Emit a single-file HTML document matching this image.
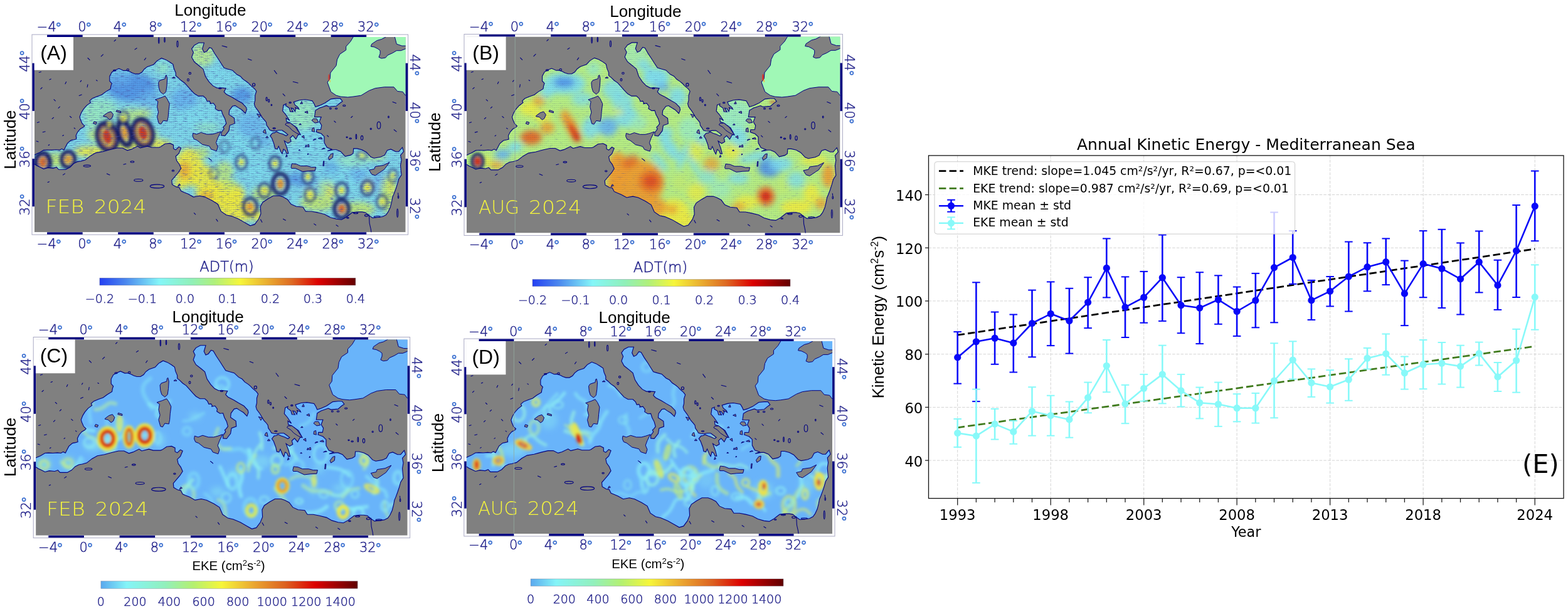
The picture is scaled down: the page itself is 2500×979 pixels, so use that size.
<!DOCTYPE html>
<html><head><meta charset="utf-8"><title>Mediterranean kinetic energy</title>
<style>html,body{margin:0;padding:0;background:#fff;width:2500px;height:979px;overflow:hidden}svg{display:block}</style></head>
<body><svg width="2500" height="979" viewBox="0 0 2500 979">
<rect width="2500" height="979" fill="#fff"/>
<defs><pattern id="quiv" patternUnits="userSpaceOnUse" width="3.2" height="3.2">
<path d="M0.2,1.9 L2.6,1.3" stroke="#0a0a40" stroke-width="0.8" stroke-opacity="0.42"/>
</pattern></defs>
<defs><clipPath id="clipA"><rect x="54.9" y="59.0" width="591.8" height="311.3"/></clipPath><clipPath id="seaA"><path d="M39.8,247.4 L52.5,247.4 L56.0,246.5 L58.9,245.1 L62.4,243.6 L69.5,239.4 L75.1,239.0 L82.2,239.4 L89.3,238.8 L94.9,239.4 L98.5,237.3 L102.0,239.2 L104.1,235.0 L107.6,228.4 L113.3,223.6 L118.3,222.7 L121.8,221.7 L121.1,216.0 L123.9,210.3 L128.2,205.5 L133.1,202.6 L134.9,200.7 L131.0,196.9 L128.2,190.3 L127.0,186.5 L129.6,179.8 L133.1,174.1 L138.0,168.4 L144.4,163.6 L143.0,160.7 L147.2,156.9 L154.3,154.1 L162.1,151.2 L168.5,146.4 L176.2,141.7 L176.9,136.9 L178.4,133.1 L174.8,129.3 L174.8,121.7 L178.4,115.0 L184.0,111.8 L189.7,109.3 L196.7,112.5 L201.0,112.2 L206.6,114.1 L210.9,116.3 L215.8,117.9 L221.5,117.9 L226.4,115.0 L230.0,110.2 L234.9,106.4 L239.2,104.9 L244.8,103.0 L250.5,96.9 L257.5,92.7 L264.6,95.4 L271.0,99.2 L275.9,102.6 L277.3,109.3 L280.2,116.0 L280.2,120.7 L283.7,123.6 L288.7,128.3 L294.3,132.2 L298.5,136.9 L304.9,144.2 L309.9,149.3 L316.2,153.1 L324.0,153.1 L328.2,156.9 L330.4,161.7 L333.9,161.1 L336.0,164.5 L334.6,165.5 L340.3,164.5 L343.8,169.3 L343.1,173.1 L348.0,176.4 L353.0,176.0 L355.1,182.6 L358.6,189.3 L360.8,196.9 L357.9,200.7 L355.8,202.6 L357.2,205.5 L353.0,211.2 L353.0,216.0 L358.6,216.6 L365.0,208.4 L366.4,199.8 L374.2,196.9 L373.5,188.4 L365.0,182.6 L365.7,176.0 L370.7,169.3 L374.9,168.4 L379.9,171.6 L385.5,175.0 L391.2,180.7 L393.3,175.0 L392.6,171.2 L386.2,164.5 L377.7,159.8 L370.0,155.0 L360.8,150.3 L357.2,146.4 L360.1,140.7 L353.7,140.2 L345.9,140.2 L339.6,136.9 L333.2,130.3 L327.5,121.7 L324.0,110.2 L318.3,105.5 L309.9,98.8 L305.6,91.2 L308.4,83.6 L305.6,77.9 L309.9,72.1 L316.9,68.3 L325.4,68.3 L324.0,73.1 L322.6,77.9 L325.4,83.6 L329.7,81.7 L333.9,76.0 L337.4,76.9 L342.4,85.5 L348.7,95.0 L352.3,100.7 L357.2,108.3 L363.6,110.2 L370.7,112.2 L377.7,118.8 L383.4,121.7 L387.6,126.4 L393.3,130.3 L396.8,133.1 L400.4,136.9 L406.0,141.7 L408.8,145.5 L406.7,152.2 L406.7,159.8 L405.3,165.5 L406.7,170.3 L411.7,176.9 L415.2,182.6 L418.0,187.4 L422.3,192.2 L424.4,195.0 L425.1,199.8 L427.9,203.6 L430.1,207.4 L433.6,208.4 L439.3,208.7 L444.2,207.8 L449.9,207.8 L454.8,211.2 L459.0,214.6 L456.2,216.6 L451.3,214.1 L445.6,212.2 L440.7,209.9 L437.8,211.6 L434.3,212.2 L430.8,216.6 L433.6,220.7 L437.1,230.3 L438.5,236.9 L442.1,237.9 L444.2,233.1 L447.7,241.7 L449.9,245.1 L452.0,237.9 L454.8,239.8 L456.9,244.6 L459.8,244.6 L457.6,236.0 L453.4,224.6 L459.0,228.4 L464.0,225.5 L462.6,219.8 L466.8,216.0 L471.8,221.7 L475.3,215.0 L478.8,214.1 L473.2,203.6 L462.6,196.0 L456.9,194.1 L456.2,188.4 L461.9,192.2 L455.5,182.6 L450.6,176.9 L452.0,167.4 L456.2,165.5 L455.5,168.4 L461.2,172.2 L462.6,177.9 L467.5,178.3 L464.0,172.2 L467.5,173.1 L470.4,177.9 L471.8,173.1 L470.4,171.2 L472.5,172.2 L476.7,174.1 L475.3,171.2 L470.4,167.4 L468.2,162.6 L477.4,159.8 L486.6,158.8 L497.9,160.7 L500.8,165.5 L502.9,170.3 L509.2,168.4 L517.7,164.5 L527.6,157.9 L536.1,156.9 L542.5,156.9 L546.0,161.7 L541.8,164.5 L536.1,169.3 L524.8,170.3 L520.6,168.4 L509.2,172.2 L502.9,176.0 L501.5,186.5 L512.1,186.5 L509.2,194.1 L512.8,199.8 L511.4,206.5 L505.0,206.5 L504.3,210.3 L512.1,213.1 L517.0,217.9 L517.0,227.4 L521.3,235.0 L529.0,237.9 L522.0,240.8 L531.9,238.8 L536.1,238.8 L543.2,241.7 L550.3,249.3 L558.7,247.4 L563.0,244.6 L563.7,236.9 L569.3,236.9 L577.1,238.8 L584.2,242.7 L591.3,250.3 L596.2,252.2 L606.8,250.3 L613.2,247.4 L617.4,239.8 L623.1,237.9 L630.9,241.7 L635.8,241.7 L641.5,235.0 L643.6,241.7 L638.6,247.4 L640.1,255.0 L638.6,263.6 L639.3,272.2 L640.1,278.9 L635.8,285.5 L633.7,293.1 L630.9,301.7 L628.0,309.3 L625.9,314.1 L624.5,321.7 L622.4,330.3 L618.8,337.9 L615.3,342.7 L609.7,345.5 L602.6,346.5 L594.1,347.4 L588.4,343.6 L582.8,338.9 L577.1,337.9 L570.1,337.9 L561.6,338.9 L556.6,342.7 L551.7,346.5 L544.6,350.3 L536.1,349.3 L526.2,346.5 L517.7,341.7 L506.4,338.9 L496.5,337.0 L487.3,337.0 L483.1,330.3 L472.5,329.3 L464.0,325.5 L458.3,317.9 L451.3,314.1 L445.6,312.2 L435.7,312.2 L427.2,317.0 L418.7,322.7 L415.2,329.3 L415.9,340.8 L412.4,349.3 L406.0,357.9 L399.0,359.8 L390.5,355.1 L380.6,349.3 L369.3,344.6 L360.8,342.7 L352.3,337.0 L347.3,325.5 L338.1,319.8 L326.8,314.1 L318.3,312.2 L308.4,314.1 L300.0,309.3 L292.9,306.5 L288.7,304.6 L285.8,298.9 L280.9,297.9 L274.5,294.1 L273.8,287.4 L279.5,280.8 L284.4,275.0 L288.7,268.4 L285.8,261.7 L281.6,256.0 L280.2,249.3 L285.1,244.6 L288.7,236.0 L285.1,234.1 L280.2,238.8 L276.6,236.9 L276.6,231.2 L271.0,228.4 L263.2,229.3 L256.1,234.1 L253.3,235.0 L242.0,235.0 L234.9,233.1 L223.6,236.0 L219.4,233.1 L209.5,237.9 L203.1,239.8 L195.3,236.0 L186.8,236.0 L176.9,238.3 L171.3,239.8 L164.2,241.7 L152.9,243.6 L144.4,248.4 L135.9,255.0 L128.9,256.9 L123.2,257.9 L117.5,260.8 L111.9,266.5 L104.8,270.3 L99.2,270.3 L93.5,270.3 L90.0,266.5 L85.0,268.4 L76.5,267.4 L69.5,269.3 L63.8,266.5 L58.9,264.2 L56.7,262.7 L54.6,261.7 L52.5,261.7 L39.8,261.7 Z"/></clipPath><filter id="blA" x="35" y="39" width="632" height="351" filterUnits="userSpaceOnUse"><feGaussianBlur stdDeviation="5"/></filter><filter id="bqA" x="35" y="39" width="632" height="351" filterUnits="userSpaceOnUse"><feGaussianBlur stdDeviation="2.2"/></filter><filter id="bsA" x="35" y="39" width="632" height="351" filterUnits="userSpaceOnUse"><feGaussianBlur stdDeviation="2"/></filter></defs>
<g clip-path="url(#clipA)">
<rect x="54.9" y="59.0" width="591.8" height="311.3" fill="#808080"/>
<path d="M564.4,53.1 L564.4,56.9 L558.7,66.4 L551.7,74.1 L551.7,79.8 L541.8,86.4 L537.5,95.0 L536.1,104.5 L526.9,116.0 L526.2,125.5 L522.0,131.2 L524.8,138.8 L527.6,146.4 L536.1,152.2 L543.2,154.1 L554.5,155.0 L563.0,154.1 L575.7,152.2 L588.4,144.5 L598.3,140.7 L612.5,138.8 L628.0,138.8 L633.7,145.5 L642.2,146.4 L646.4,152.2 L654.9,154.1 L662.0,53.1 Z" fill="#a0f8b6" stroke="#00007f" stroke-width="1"/>
<path d="M591.3,74.1 L592.7,70.2 L601.2,64.5 L608.2,62.6 L615.3,58.8 L621.0,51.2 L630.9,51.2 L629.4,58.8 L632.3,70.2 L640.8,73.1 L649.2,73.1 L650.0,76.0 L646.4,77.9 L639.3,80.7 L632.3,80.7 L625.9,84.5 L618.1,88.0 L614.6,92.1 L608.2,93.1 L604.0,91.2 L606.1,85.5 L606.1,80.7 L602.6,77.9 L596.9,75.0 Z" fill="#808080" stroke="#00007f" stroke-width="1"/>
<ellipse cx="524.5" cy="123.6" rx="1.4" ry="5.3" fill="#e03020" opacity="0.7"/>
<ellipse cx="526.2" cy="129.3" rx="1.0" ry="2.3" fill="#f0c040" opacity="0.7"/>
<g clip-path="url(#seaA)">
<rect x="54.9" y="59.0" width="591.8" height="311.3" fill="#80dcee"/>
<g filter="url(#blA)">
<ellipse cx="89.3" cy="255.0" rx="31.1" ry="11.4" fill="#c4ee74" fill-opacity="0.9"/>
<ellipse cx="145.8" cy="241.7" rx="28.3" ry="8.6" fill="#f2f040" fill-opacity="0.9"/>
<ellipse cx="202.4" cy="234.1" rx="35.4" ry="8.6" fill="#f2f040" fill-opacity="0.9"/>
<ellipse cx="251.9" cy="230.3" rx="21.2" ry="8.6" fill="#f2f040" fill-opacity="0.85"/>
<ellipse cx="195.3" cy="215.0" rx="56.6" ry="17.1" fill="#c4ee74" fill-opacity="0.8"/>
<ellipse cx="160.0" cy="176.9" rx="28.3" ry="19.1" fill="#9cf0c4" fill-opacity="0.85"/>
<ellipse cx="209.5" cy="138.8" rx="39.6" ry="22.9" fill="#5296ea" fill-opacity="0.9"/>
<ellipse cx="237.7" cy="157.9" rx="18.4" ry="15.2" fill="#68b8f2" fill-opacity="0.7"/>
<ellipse cx="188.2" cy="123.6" rx="21.2" ry="11.4" fill="#68b8f2" fill-opacity="0.7"/>
<ellipse cx="259.0" cy="108.3" rx="11.3" ry="9.5" fill="#9cf0c4" fill-opacity="0.7"/>
<ellipse cx="209.5" cy="184.5" rx="22.6" ry="11.4" fill="#c4ee74" fill-opacity="0.7"/>
<ellipse cx="145.8" cy="192.2" rx="11.3" ry="15.2" fill="#9cf0c4" fill-opacity="0.8"/>
<ellipse cx="230.7" cy="180.7" rx="11.3" ry="9.5" fill="#c4ee74" fill-opacity="0.6"/>
<ellipse cx="294.3" cy="157.9" rx="21.2" ry="19.1" fill="#68b8f2" fill-opacity="0.9"/>
<ellipse cx="308.4" cy="186.5" rx="25.5" ry="17.1" fill="#80e2f2" fill-opacity="0.8"/>
<ellipse cx="329.7" cy="203.6" rx="21.2" ry="7.6" fill="#9cf0c4" fill-opacity="0.7"/>
<ellipse cx="322.6" cy="87.4" rx="19.8" ry="19.1" fill="#b8f098" fill-opacity="0.95"/>
<ellipse cx="350.9" cy="119.8" rx="19.8" ry="13.3" fill="#80e2f2" fill-opacity="0.85"/>
<ellipse cx="386.2" cy="152.2" rx="17.0" ry="13.3" fill="#5296ea" fill-opacity="0.85"/>
<ellipse cx="400.4" cy="199.8" rx="22.6" ry="21.0" fill="#68b8f2" fill-opacity="0.75"/>
<ellipse cx="379.2" cy="237.9" rx="25.5" ry="22.9" fill="#80e2f2" fill-opacity="0.9"/>
<ellipse cx="421.6" cy="224.6" rx="11.3" ry="11.4" fill="#68b8f2" fill-opacity="0.6"/>
<ellipse cx="407.4" cy="272.2" rx="17.0" ry="15.2" fill="#80e2f2" fill-opacity="0.8"/>
<ellipse cx="301.4" cy="266.5" rx="22.6" ry="30.5" fill="#f2f040" fill-opacity="0.95"/>
<ellipse cx="294.3" cy="272.2" rx="9.9" ry="15.2" fill="#f0a030" fill-opacity="0.7"/>
<ellipse cx="287.2" cy="293.1" rx="11.3" ry="9.5" fill="#f2f040" fill-opacity="0.9"/>
<ellipse cx="322.6" cy="243.6" rx="11.3" ry="9.5" fill="#c4ee74" fill-opacity="0.8"/>
<ellipse cx="350.9" cy="310.3" rx="39.6" ry="22.9" fill="#f2f040" fill-opacity="1.0"/>
<ellipse cx="322.6" cy="281.7" rx="21.2" ry="19.1" fill="#f2f040" fill-opacity="0.9"/>
<ellipse cx="357.9" cy="272.2" rx="14.1" ry="15.2" fill="#c4ee74" fill-opacity="0.8"/>
<ellipse cx="379.2" cy="337.0" rx="31.1" ry="17.1" fill="#f2f040" fill-opacity="0.95"/>
<ellipse cx="329.7" cy="312.2" rx="11.3" ry="7.6" fill="#f0a030" fill-opacity="0.6"/>
<ellipse cx="365.0" cy="295.0" rx="12.7" ry="9.5" fill="#c4ee74" fill-opacity="0.7"/>
<ellipse cx="421.6" cy="310.3" rx="21.2" ry="13.3" fill="#c4ee74" fill-opacity="0.8"/>
<ellipse cx="411.7" cy="344.6" rx="8.5" ry="9.5" fill="#f2f040" fill-opacity="0.9"/>
<ellipse cx="482.4" cy="182.6" rx="25.5" ry="24.8" fill="#9cf0c4" fill-opacity="0.9"/>
<ellipse cx="488.0" cy="228.4" rx="22.6" ry="19.1" fill="#80e2f2" fill-opacity="0.85"/>
<ellipse cx="464.0" cy="218.8" rx="8.5" ry="11.4" fill="#9cf0c4" fill-opacity="0.7"/>
<ellipse cx="485.2" cy="285.5" rx="28.3" ry="11.4" fill="#5296ea" fill-opacity="0.8"/>
<ellipse cx="548.8" cy="281.7" rx="35.4" ry="19.1" fill="#80e2f2" fill-opacity="0.7"/>
<ellipse cx="527.6" cy="272.2" rx="14.1" ry="11.4" fill="#5296ea" fill-opacity="0.75"/>
<ellipse cx="570.1" cy="277.9" rx="17.0" ry="11.4" fill="#68b8f2" fill-opacity="0.7"/>
<ellipse cx="563.0" cy="255.0" rx="25.5" ry="11.4" fill="#9cf0c4" fill-opacity="0.7"/>
<ellipse cx="520.6" cy="281.7" rx="42.4" ry="13.3" fill="#80e2f2" fill-opacity="0.75"/>
<ellipse cx="605.4" cy="291.2" rx="18.4" ry="15.2" fill="#68b8f2" fill-opacity="0.7"/>
<ellipse cx="506.4" cy="323.6" rx="28.3" ry="13.3" fill="#c4ee74" fill-opacity="0.9"/>
<ellipse cx="570.1" cy="333.1" rx="28.3" ry="11.4" fill="#c4ee74" fill-opacity="0.9"/>
<ellipse cx="619.5" cy="310.3" rx="12.7" ry="30.5" fill="#c4ee74" fill-opacity="0.9"/>
<ellipse cx="520.6" cy="298.9" rx="14.1" ry="11.4" fill="#c4ee74" fill-opacity="0.6"/>
<ellipse cx="598.3" cy="249.3" rx="17.0" ry="6.7" fill="#c4ee74" fill-opacity="0.7"/>
<ellipse cx="527.6" cy="306.5" rx="8.5" ry="9.5" fill="#f2f040" fill-opacity="0.7"/>
<ellipse cx="587.0" cy="297.0" rx="7.1" ry="9.5" fill="#f2f040" fill-opacity="0.7"/>
<ellipse cx="492.3" cy="306.5" rx="7.1" ry="7.6" fill="#f2f040" fill-opacity="0.6"/>
<ellipse cx="625.2" cy="298.9" rx="5.7" ry="11.4" fill="#f2f040" fill-opacity="0.7"/>
</g>
<g filter="url(#bsA)">
<ellipse cx="171.0" cy="218.1" rx="13.9" ry="21.0" fill="none" stroke="#141c66" stroke-width="10" stroke-opacity="0.95" transform="rotate(-15 171.0 218.1)"/>
<ellipse cx="171.0" cy="218.1" rx="7.1" ry="11.8" fill="#d42a1a" fill-opacity="0.9" transform="rotate(-15 171.0 218.1)"/>
<ellipse cx="171.0" cy="218.1" rx="10.6" ry="16.2" fill="none" stroke="#f0a030" stroke-width="4" stroke-opacity="0.6" transform="rotate(-15 171.0 218.1)"/>
<ellipse cx="198.6" cy="212.0" rx="8.8" ry="20.0" fill="none" stroke="#141c66" stroke-width="8" stroke-opacity="0.95" transform="rotate(-15 198.6 212.0)"/>
<ellipse cx="198.6" cy="212.0" rx="4.2" ry="10.5" fill="#f0a030" fill-opacity="0.9" transform="rotate(-15 198.6 212.0)"/>
<ellipse cx="227.8" cy="212.0" rx="13.9" ry="21.0" fill="none" stroke="#141c66" stroke-width="10" stroke-opacity="0.95" transform="rotate(-15 227.8 212.0)"/>
<ellipse cx="227.8" cy="212.0" rx="7.1" ry="11.8" fill="#d42a1a" fill-opacity="0.9" transform="rotate(-15 227.8 212.0)"/>
<ellipse cx="227.8" cy="212.0" rx="10.6" ry="16.2" fill="none" stroke="#f0a030" stroke-width="4" stroke-opacity="0.6" transform="rotate(-15 227.8 212.0)"/>
<ellipse cx="68.1" cy="259.4" rx="11.3" ry="15.2" fill="none" stroke="#141c66" stroke-width="8" stroke-opacity="0.95"/>
<ellipse cx="68.1" cy="258.8" rx="5.7" ry="8.6" fill="#e66426" fill-opacity="0.9"/>
<ellipse cx="108.8" cy="254.3" rx="10.2" ry="12.4" fill="none" stroke="#141c66" stroke-width="7" stroke-opacity="0.9"/>
<ellipse cx="108.8" cy="254.3" rx="5.7" ry="6.7" fill="#f0a030" fill-opacity="0.9"/>
<ellipse cx="196.7" cy="188.4" rx="7.8" ry="10.5" fill="none" stroke="#141c66" stroke-width="5" stroke-opacity="0.5"/>
<ellipse cx="196.7" cy="188.4" rx="4.0" ry="5.3" fill="#f2f040" fill-opacity="0.85"/>
<ellipse cx="174.1" cy="197.9" rx="6.4" ry="8.6" fill="none" stroke="#141c66" stroke-width="4" stroke-opacity="0.45"/>
<ellipse cx="174.1" cy="197.9" rx="3.1" ry="4.2" fill="#f2f040" fill-opacity="0.8"/>
<ellipse cx="447.0" cy="293.1" rx="12.0" ry="16.2" fill="none" stroke="#141c66" stroke-width="7" stroke-opacity="0.85"/>
<ellipse cx="447.0" cy="293.1" rx="5.7" ry="8.6" fill="#f0a030" fill-opacity="0.95"/>
<ellipse cx="544.6" cy="333.1" rx="11.3" ry="14.3" fill="none" stroke="#141c66" stroke-width="7" stroke-opacity="0.85"/>
<ellipse cx="544.6" cy="333.1" rx="5.7" ry="7.6" fill="#e66426" fill-opacity="0.9"/>
<ellipse cx="399.0" cy="329.3" rx="10.6" ry="13.3" fill="none" stroke="#141c66" stroke-width="6" stroke-opacity="0.7"/>
<ellipse cx="399.0" cy="329.3" rx="5.4" ry="6.7" fill="#f0a030" fill-opacity="0.9"/>
<ellipse cx="438.5" cy="260.8" rx="8.5" ry="11.4" fill="none" stroke="#141c66" stroke-width="5" stroke-opacity="0.65"/>
<ellipse cx="438.5" cy="260.8" rx="4.2" ry="5.7" fill="#f2f040" fill-opacity="0.9"/>
<ellipse cx="421.6" cy="303.6" rx="8.5" ry="11.4" fill="none" stroke="#141c66" stroke-width="5" stroke-opacity="0.6"/>
<ellipse cx="421.6" cy="303.6" rx="4.5" ry="5.7" fill="#f2f040" fill-opacity="0.9"/>
<ellipse cx="384.8" cy="258.8" rx="8.5" ry="11.4" fill="none" stroke="#141c66" stroke-width="5" stroke-opacity="0.55"/>
<ellipse cx="384.8" cy="258.8" rx="4.2" ry="5.7" fill="#f2f040" fill-opacity="0.85"/>
<ellipse cx="490.9" cy="281.7" rx="8.5" ry="11.4" fill="none" stroke="#141c66" stroke-width="5" stroke-opacity="0.6"/>
<ellipse cx="490.9" cy="281.7" rx="4.2" ry="5.7" fill="#f2f040" fill-opacity="0.9"/>
<ellipse cx="494.4" cy="310.3" rx="7.8" ry="10.5" fill="none" stroke="#141c66" stroke-width="5" stroke-opacity="0.55"/>
<ellipse cx="494.4" cy="310.3" rx="4.0" ry="5.3" fill="#f2f040" fill-opacity="0.85"/>
<ellipse cx="544.6" cy="303.6" rx="9.2" ry="12.4" fill="none" stroke="#141c66" stroke-width="5" stroke-opacity="0.65"/>
<ellipse cx="544.6" cy="303.6" rx="4.5" ry="6.1" fill="#f2f040" fill-opacity="0.9"/>
<ellipse cx="585.6" cy="299.8" rx="9.2" ry="11.4" fill="none" stroke="#141c66" stroke-width="5" stroke-opacity="0.65"/>
<ellipse cx="585.6" cy="299.8" rx="4.5" ry="5.7" fill="#f2f040" fill-opacity="0.9"/>
<ellipse cx="608.9" cy="321.7" rx="7.8" ry="10.5" fill="none" stroke="#141c66" stroke-width="5" stroke-opacity="0.55"/>
<ellipse cx="608.9" cy="321.7" rx="4.0" ry="5.3" fill="#f2f040" fill-opacity="0.85"/>
<ellipse cx="577.1" cy="247.4" rx="7.1" ry="6.7" fill="none" stroke="#141c66" stroke-width="4" stroke-opacity="0.5"/>
<ellipse cx="577.1" cy="247.4" rx="3.5" ry="3.4" fill="#f2f040" fill-opacity="0.8"/>
<ellipse cx="626.6" cy="279.8" rx="6.4" ry="10.5" fill="none" stroke="#141c66" stroke-width="4" stroke-opacity="0.5"/>
<ellipse cx="626.6" cy="279.8" rx="3.1" ry="5.3" fill="#f2f040" fill-opacity="0.8"/>
<ellipse cx="357.9" cy="234.1" rx="7.1" ry="9.5" fill="none" stroke="#141c66" stroke-width="4" stroke-opacity="0.4"/>
<ellipse cx="407.4" cy="228.4" rx="7.1" ry="9.5" fill="none" stroke="#141c66" stroke-width="4" stroke-opacity="0.4"/>
<ellipse cx="341.0" cy="276.0" rx="7.1" ry="8.6" fill="none" stroke="#141c66" stroke-width="4" stroke-opacity="0.35"/>
</g>
<filter id="txA" x="55" y="59" width="592" height="311" filterUnits="userSpaceOnUse"><feTurbulence type="fractalNoise" baseFrequency="0.12 0.9" numOctaves="2" seed="65"/><feColorMatrix type="matrix" values="0 0 0 0 0.07  0 0 0 0 0.09  0 0 0 0 0.40  2.0 0 0 0 -1.06"/></filter>
<rect x="54.9" y="59.0" width="591.8" height="311.3" filter="url(#txA)" />
<rect x="54.9" y="59.0" width="591.8" height="311.3" fill="url(#quiv)" opacity="0.7"/>
</g>
<path d="M39.8,247.4 L52.5,247.4 L56.0,246.5 L58.9,245.1 L62.4,243.6 L69.5,239.4 L75.1,239.0 L82.2,239.4 L89.3,238.8 L94.9,239.4 L98.5,237.3 L102.0,239.2 L104.1,235.0 L107.6,228.4 L113.3,223.6 L118.3,222.7 L121.8,221.7 L121.1,216.0 L123.9,210.3 L128.2,205.5 L133.1,202.6 L134.9,200.7 L131.0,196.9 L128.2,190.3 L127.0,186.5 L129.6,179.8 L133.1,174.1 L138.0,168.4 L144.4,163.6 L143.0,160.7 L147.2,156.9 L154.3,154.1 L162.1,151.2 L168.5,146.4 L176.2,141.7 L176.9,136.9 L178.4,133.1 L174.8,129.3 L174.8,121.7 L178.4,115.0 L184.0,111.8 L189.7,109.3 L196.7,112.5 L201.0,112.2 L206.6,114.1 L210.9,116.3 L215.8,117.9 L221.5,117.9 L226.4,115.0 L230.0,110.2 L234.9,106.4 L239.2,104.9 L244.8,103.0 L250.5,96.9 L257.5,92.7 L264.6,95.4 L271.0,99.2 L275.9,102.6 L277.3,109.3 L280.2,116.0 L280.2,120.7 L283.7,123.6 L288.7,128.3 L294.3,132.2 L298.5,136.9 L304.9,144.2 L309.9,149.3 L316.2,153.1 L324.0,153.1 L328.2,156.9 L330.4,161.7 L333.9,161.1 L336.0,164.5 L334.6,165.5 L340.3,164.5 L343.8,169.3 L343.1,173.1 L348.0,176.4 L353.0,176.0 L355.1,182.6 L358.6,189.3 L360.8,196.9 L357.9,200.7 L355.8,202.6 L357.2,205.5 L353.0,211.2 L353.0,216.0 L358.6,216.6 L365.0,208.4 L366.4,199.8 L374.2,196.9 L373.5,188.4 L365.0,182.6 L365.7,176.0 L370.7,169.3 L374.9,168.4 L379.9,171.6 L385.5,175.0 L391.2,180.7 L393.3,175.0 L392.6,171.2 L386.2,164.5 L377.7,159.8 L370.0,155.0 L360.8,150.3 L357.2,146.4 L360.1,140.7 L353.7,140.2 L345.9,140.2 L339.6,136.9 L333.2,130.3 L327.5,121.7 L324.0,110.2 L318.3,105.5 L309.9,98.8 L305.6,91.2 L308.4,83.6 L305.6,77.9 L309.9,72.1 L316.9,68.3 L325.4,68.3 L324.0,73.1 L322.6,77.9 L325.4,83.6 L329.7,81.7 L333.9,76.0 L337.4,76.9 L342.4,85.5 L348.7,95.0 L352.3,100.7 L357.2,108.3 L363.6,110.2 L370.7,112.2 L377.7,118.8 L383.4,121.7 L387.6,126.4 L393.3,130.3 L396.8,133.1 L400.4,136.9 L406.0,141.7 L408.8,145.5 L406.7,152.2 L406.7,159.8 L405.3,165.5 L406.7,170.3 L411.7,176.9 L415.2,182.6 L418.0,187.4 L422.3,192.2 L424.4,195.0 L425.1,199.8 L427.9,203.6 L430.1,207.4 L433.6,208.4 L439.3,208.7 L444.2,207.8 L449.9,207.8 L454.8,211.2 L459.0,214.6 L456.2,216.6 L451.3,214.1 L445.6,212.2 L440.7,209.9 L437.8,211.6 L434.3,212.2 L430.8,216.6 L433.6,220.7 L437.1,230.3 L438.5,236.9 L442.1,237.9 L444.2,233.1 L447.7,241.7 L449.9,245.1 L452.0,237.9 L454.8,239.8 L456.9,244.6 L459.8,244.6 L457.6,236.0 L453.4,224.6 L459.0,228.4 L464.0,225.5 L462.6,219.8 L466.8,216.0 L471.8,221.7 L475.3,215.0 L478.8,214.1 L473.2,203.6 L462.6,196.0 L456.9,194.1 L456.2,188.4 L461.9,192.2 L455.5,182.6 L450.6,176.9 L452.0,167.4 L456.2,165.5 L455.5,168.4 L461.2,172.2 L462.6,177.9 L467.5,178.3 L464.0,172.2 L467.5,173.1 L470.4,177.9 L471.8,173.1 L470.4,171.2 L472.5,172.2 L476.7,174.1 L475.3,171.2 L470.4,167.4 L468.2,162.6 L477.4,159.8 L486.6,158.8 L497.9,160.7 L500.8,165.5 L502.9,170.3 L509.2,168.4 L517.7,164.5 L527.6,157.9 L536.1,156.9 L542.5,156.9 L546.0,161.7 L541.8,164.5 L536.1,169.3 L524.8,170.3 L520.6,168.4 L509.2,172.2 L502.9,176.0 L501.5,186.5 L512.1,186.5 L509.2,194.1 L512.8,199.8 L511.4,206.5 L505.0,206.5 L504.3,210.3 L512.1,213.1 L517.0,217.9 L517.0,227.4 L521.3,235.0 L529.0,237.9 L522.0,240.8 L531.9,238.8 L536.1,238.8 L543.2,241.7 L550.3,249.3 L558.7,247.4 L563.0,244.6 L563.7,236.9 L569.3,236.9 L577.1,238.8 L584.2,242.7 L591.3,250.3 L596.2,252.2 L606.8,250.3 L613.2,247.4 L617.4,239.8 L623.1,237.9 L630.9,241.7 L635.8,241.7 L641.5,235.0 L643.6,241.7 L638.6,247.4 L640.1,255.0 L638.6,263.6 L639.3,272.2 L640.1,278.9 L635.8,285.5 L633.7,293.1 L630.9,301.7 L628.0,309.3 L625.9,314.1 L624.5,321.7 L622.4,330.3 L618.8,337.9 L615.3,342.7 L609.7,345.5 L602.6,346.5 L594.1,347.4 L588.4,343.6 L582.8,338.9 L577.1,337.9 L570.1,337.9 L561.6,338.9 L556.6,342.7 L551.7,346.5 L544.6,350.3 L536.1,349.3 L526.2,346.5 L517.7,341.7 L506.4,338.9 L496.5,337.0 L487.3,337.0 L483.1,330.3 L472.5,329.3 L464.0,325.5 L458.3,317.9 L451.3,314.1 L445.6,312.2 L435.7,312.2 L427.2,317.0 L418.7,322.7 L415.2,329.3 L415.9,340.8 L412.4,349.3 L406.0,357.9 L399.0,359.8 L390.5,355.1 L380.6,349.3 L369.3,344.6 L360.8,342.7 L352.3,337.0 L347.3,325.5 L338.1,319.8 L326.8,314.1 L318.3,312.2 L308.4,314.1 L300.0,309.3 L292.9,306.5 L288.7,304.6 L285.8,298.9 L280.9,297.9 L274.5,294.1 L273.8,287.4 L279.5,280.8 L284.4,275.0 L288.7,268.4 L285.8,261.7 L281.6,256.0 L280.2,249.3 L285.1,244.6 L288.7,236.0 L285.1,234.1 L280.2,238.8 L276.6,236.9 L276.6,231.2 L271.0,228.4 L263.2,229.3 L256.1,234.1 L253.3,235.0 L242.0,235.0 L234.9,233.1 L223.6,236.0 L219.4,233.1 L209.5,237.9 L203.1,239.8 L195.3,236.0 L186.8,236.0 L176.9,238.3 L171.3,239.8 L164.2,241.7 L152.9,243.6 L144.4,248.4 L135.9,255.0 L128.9,256.9 L123.2,257.9 L117.5,260.8 L111.9,266.5 L104.8,270.3 L99.2,270.3 L93.5,270.3 L90.0,266.5 L85.0,268.4 L76.5,267.4 L69.5,269.3 L63.8,266.5 L58.9,264.2 L56.7,262.7 L54.6,261.7 L52.5,261.7 L39.8,261.7 Z" fill="none" stroke="#00007f" stroke-width="1.1"/>
<g fill="none" stroke="#00007f" stroke-width="1.1" stroke-linecap="round">
<polyline points="68.2,210.8 72.1,209.8"/>
<polyline points="83.1,189.4 85.5,187.3"/>
<polyline points="111.4,185.4 113.8,187.5"/>
<polyline points="93.1,172.3 95.4,170.2"/>
<polyline points="58.0,225.0 61.1,226.0"/>
<polyline points="59.4,195.5 62.5,194.5"/>
<polyline points="126.2,152.5 130.1,150.9"/>
<polyline points="64.8,141.8 67.1,139.7"/>
<polyline points="104.0,133.7 105.6,130.6"/>
<polyline points="139.1,139.0 139.9,134.8"/>
<polyline points="86.0,158.7 88.3,160.8"/>
<polyline points="78.9,127.0 81.2,125.9"/>
<polyline points="118.2,204.0 119.7,205.1"/>
<polyline points="99.8,216.5 101.4,215.5"/>
<polyline points="77.2,231.7 78.7,230.7"/>
<polyline points="62.3,115.5 65.4,114.5"/>
<polyline points="153.5,127.8 155.1,128.9"/>
<polyline points="128.1,130.3 129.6,128.3"/>
<ellipse cx="203.8" cy="111.2" rx="1.7" ry="1.5"/>
<ellipse cx="182.6" cy="112.2" rx="2.1" ry="1.0"/>
<ellipse cx="283.0" cy="70.2" rx="1.1" ry="4.8"/>
<ellipse cx="253.3" cy="64.5" rx="0.7" ry="4.8"/>
<ellipse cx="262.5" cy="63.6" rx="0.7" ry="3.8"/>
<ellipse cx="302.8" cy="116.9" rx="1.7" ry="1.5"/>
<ellipse cx="300.0" cy="127.4" rx="1.4" ry="1.9"/>
<ellipse cx="350.9" cy="140.7" rx="2.1" ry="1.0"/>
<ellipse cx="404.6" cy="135.0" rx="2.1" ry="2.3"/>
<ellipse cx="425.1" cy="157.9" rx="1.1" ry="2.9"/>
<ellipse cx="428.6" cy="160.7" rx="1.1" ry="2.3"/>
<polyline points="354.1,73.0 361.8,75.1"/>
<polyline points="395.5,94.0 401.0,96.1"/>
<polyline points="437.3,112.4 441.2,117.6"/>
<ellipse cx="462.6" cy="163.6" rx="1.7" ry="1.0"/>
<ellipse cx="437.1" cy="204.6" rx="2.1" ry="1.0"/>
<ellipse cx="432.9" cy="167.4" rx="0.8" ry="1.1"/>
<polyline points="451.1,149.6 454.2,152.8"/>
<polyline points="467.2,130.2 475.0,132.3"/>
<ellipse cx="548.8" cy="168.4" rx="2.1" ry="1.1"/>
<ellipse cx="536.1" cy="173.1" rx="1.7" ry="1.1"/>
<ellipse cx="526.9" cy="173.1" rx="1.4" ry="1.1"/>
<ellipse cx="567.9" cy="217.9" rx="0.8" ry="3.8"/>
<ellipse cx="577.1" cy="219.8" rx="1.7" ry="3.4"/>
<ellipse cx="558.7" cy="220.7" rx="1.7" ry="1.0"/>
<ellipse cx="604.0" cy="199.8" rx="2.8" ry="5.7"/>
<ellipse cx="553.1" cy="218.8" rx="1.1" ry="0.8"/>
<ellipse cx="591.3" cy="205.5" rx="1.1" ry="1.1"/>
<ellipse cx="619.5" cy="186.5" rx="0.8" ry="1.5"/>
<polyline points="628.2,206.8 632.1,209.9"/>
<polyline points="626.0,162.5 631.5,164.6"/>
<polyline points="559.7,187.5 562.0,185.4"/>
<polyline points="532.8,193.0 535.2,195.1"/>
<polyline points="521.5,215.9 523.8,218.0"/>
<ellipse cx="220.8" cy="287.4" rx="7.1" ry="1.9"/>
<ellipse cx="250.5" cy="297.0" rx="11.3" ry="2.9"/>
<ellipse cx="275.9" cy="272.2" rx="1.7" ry="1.1"/>
<ellipse cx="210.9" cy="257.9" rx="2.8" ry="1.1"/>
<ellipse cx="138.8" cy="264.6" rx="5.7" ry="1.5"/>
<polyline points="170.4,276.9 175.0,278.9"/>
<polyline points="100.4,278.9 103.5,276.9"/>
<polyline points="76.1,290.8 78.4,289.8"/>
<polyline points="196.9,262.2 200.8,261.2"/>
<ellipse cx="601.2" cy="345.5" rx="4.9" ry="1.0"/>
<ellipse cx="584.2" cy="343.6" rx="2.8" ry="1.5"/>
<ellipse cx="567.2" cy="339.8" rx="3.5" ry="1.0"/>
<ellipse cx="554.5" cy="347.4" rx="1.7" ry="0.8"/>
<polyline points="588.4,342.7 589.1,356.0 591.3,365.5 592.0,371.3"/>
<ellipse cx="635.1" cy="314.1" rx="0.8" ry="2.3"/>
<ellipse cx="633.7" cy="339.8" rx="1.0" ry="6.7"/>
<polyline points="634.6,307.8 634.9,310.9"/>
<polyline points="415.5,350.1 417.8,354.3"/>
<polyline points="451.5,349.2 455.3,351.3"/>
<polyline points="344.8,349.7 347.1,352.8"/>
<polyline points="309.4,339.7 311.7,341.8"/>
<polyline points="500.6,356.9 503.7,359.0"/>
<polyline points="536.0,358.8 539.1,360.9"/>
<polyline points="161.2,89.9 164.4,86.8"/>
<polyline points="140.0,92.5 143.1,95.6"/>
<polyline points="182.1,65.6 184.5,63.5"/>
<polyline points="215.0,78.9 218.1,76.8"/>
<polyline points="230.2,95.6 232.6,92.5"/>
</g>
<path d="M164.9,185.5 L169.9,186.5 L174.8,190.8 L178.4,188.4 L180.5,182.6 L176.9,177.9 L171.3,179.8 L164.9,184.5 Z" fill="#808080" stroke="#00007f" stroke-width="1"/>
<path d="M185.4,177.9 L192.5,179.8 L192.5,177.5 L186.1,175.6 Z" fill="#808080" stroke="#00007f" stroke-width="1"/>
<path d="M148.7,196.9 L152.9,198.3 L154.3,195.0 L150.1,193.7 Z" fill="#808080" stroke="#00007f" stroke-width="1"/>
<path d="M252.6,131.6 L253.3,139.8 L255.4,146.4 L260.4,150.3 L264.6,146.4 L266.0,136.9 L266.7,125.5 L265.3,119.8 L263.9,120.7 L263.2,125.5 L254.7,128.3 Z" fill="#808080" stroke="#00007f" stroke-width="1"/>
<path d="M247.6,158.8 L251.9,161.7 L250.5,170.3 L252.6,178.8 L250.5,186.5 L253.3,196.9 L256.8,197.9 L260.4,192.2 L266.7,193.1 L268.1,186.5 L268.9,176.9 L270.3,165.5 L266.7,157.9 L263.2,153.1 L256.1,156.0 Z" fill="#808080" stroke="#00007f" stroke-width="1"/>
<path d="M307.0,216.9 L307.7,212.2 L313.4,214.1 L320.5,211.2 L329.7,214.1 L338.1,214.1 L345.2,212.2 L352.3,209.7 L347.3,219.8 L344.5,227.4 L347.3,234.1 L345.2,240.8 L336.7,237.9 L333.9,233.1 L322.6,230.3 L314.1,223.6 L309.2,221.7 Z" fill="#808080" stroke="#00007f" stroke-width="1"/>
<path d="M464.0,266.5 L465.4,260.8 L472.5,261.7 L479.6,264.6 L489.5,264.6 L496.5,266.5 L503.6,266.5 L502.2,272.2 L492.3,272.6 L482.4,273.7 L471.1,268.4 L464.7,268.4 Z" fill="#808080" stroke="#00007f" stroke-width="1"/>
<path d="M588.4,271.2 L592.7,277.9 L598.3,279.8 L608.2,273.1 L612.5,270.3 L621.0,258.8 L611.1,263.6 L598.3,265.5 L596.9,269.3 Z" fill="#808080" stroke="#00007f" stroke-width="1"/>
<path d="M523.4,251.2 L527.6,245.5 L531.2,244.6 L530.5,251.2 L524.8,255.0 Z" fill="#808080" stroke="#00007f" stroke-width="1"/>
<path d="M454.8,198.8 L461.2,202.6 L465.4,207.4 L472.5,212.2 L479.6,215.0 L475.3,209.3 L471.1,202.6 L462.6,196.0 L456.2,196.4 Z" fill="#808080" stroke="#00007f" stroke-width="1"/>
<path d="M497.2,192.2 L502.2,196.0 L507.8,195.0 L505.0,189.3 L499.4,189.3 Z" fill="#808080" stroke="#00007f" stroke-width="1"/>
<path d="M497.2,209.3 L501.5,210.3 L500.8,203.6 L497.9,204.6 Z" fill="#808080" stroke="#00007f" stroke-width="1"/>
<path d="M507.1,220.7 L513.5,221.7 L512.1,218.8 Z" fill="#808080" stroke="#00007f" stroke-width="1"/>
<path d="M419.5,211.2 L424.4,213.1 L423.0,206.5 L420.9,207.4 Z" fill="#808080" stroke="#00007f" stroke-width="1"/>
<path d="M409.6,181.7 L415.9,183.6 L413.1,187.4 L411.7,184.5 Z" fill="#808080" stroke="#00007f" stroke-width="1"/>
<path d="M332.5,252.2 L337.4,256.0 L335.3,254.1 Z" fill="#808080" stroke="#00007f" stroke-width="1"/>
<path d="M274.5,124.5 L279.5,124.5 L277.3,122.6 Z" fill="#808080" stroke="#00007f" stroke-width="1"/>
<path d="M490.2,234.1 L493.0,234.1 L492.3,230.3 L490.2,231.2 Z" fill="#808080" stroke="#00007f" stroke-width="1"/>
<path d="M486.6,234.1 L488.7,234.1 L488.0,231.2 Z" fill="#808080" stroke="#00007f" stroke-width="1"/>
<path d="M481.0,217.9 L485.2,220.7 L484.5,216.0 Z" fill="#808080" stroke="#00007f" stroke-width="1"/>
<path d="M485.9,178.8 L490.9,180.7 L490.2,176.9 Z" fill="#808080" stroke="#00007f" stroke-width="1"/>
<path d="M478.8,165.5 L482.4,165.5 L481.0,161.7 Z" fill="#808080" stroke="#00007f" stroke-width="1"/>
<path d="M514.9,264.6 L516.3,264.6 L517.0,256.9 L515.6,256.9 Z" fill="#808080" stroke="#00007f" stroke-width="1"/>
<path d="M512.8,237.9 L518.4,236.9 L516.3,236.0 Z" fill="#808080" stroke="#00007f" stroke-width="1"/>
<path d="M283.7,297.0 L287.9,295.0 L285.8,293.1 Z" fill="#808080" stroke="#00007f" stroke-width="1"/>
<path d="M423.7,219.8 L427.9,219.8 L425.8,216.9 Z" fill="#808080" stroke="#00007f" stroke-width="1"/>
<path d="M455.5,250.3 L458.3,249.3 L456.9,246.5 Z" fill="#808080" stroke="#00007f" stroke-width="1"/>
<path d="M499.4,223.6 L504.3,221.7 L500.8,221.7 Z" fill="#808080" stroke="#00007f" stroke-width="1"/>
<path d="M476.0,239.8 L478.8,239.8 L477.4,238.3 Z" fill="#808080" stroke="#00007f" stroke-width="1"/>
<path d="M490.2,246.5 L492.0,245.9 L491.1,244.6 Z" fill="#808080" stroke="#00007f" stroke-width="1"/>
<path d="M476.7,198.8 L480.3,198.8 L478.8,196.9 Z" fill="#808080" stroke="#00007f" stroke-width="1"/>
</g>
<rect x="51.0" y="55.1" width="599.6" height="319.1" fill="none" stroke="#a9a9c4" stroke-width="1"/>
<g fill="#00007f">
<rect x="75.1" y="55.6" width="56.6" height="3.4"/>
<rect x="75.1" y="370.3" width="56.6" height="3.4"/>
<rect x="188.2" y="55.6" width="56.6" height="3.4"/>
<rect x="188.2" y="370.3" width="56.6" height="3.4"/>
<rect x="301.4" y="55.6" width="56.6" height="3.4"/>
<rect x="301.4" y="370.3" width="56.6" height="3.4"/>
<rect x="414.5" y="55.6" width="56.6" height="3.4"/>
<rect x="414.5" y="370.3" width="56.6" height="3.4"/>
<rect x="527.6" y="55.6" width="56.6" height="3.4"/>
<rect x="527.6" y="370.3" width="56.6" height="3.4"/>
<rect x="51.5" y="253.1" width="3.4" height="76.2"/>
<rect x="646.7" y="253.1" width="3.4" height="76.2"/>
<rect x="51.5" y="100.7" width="3.4" height="76.2"/>
<rect x="646.7" y="100.7" width="3.4" height="76.2"/>
</g>
<rect x="54.7" y="59.0" width="62.3" height="52.8" fill="#fff"/>
<text x="85.5" y="94.8" text-anchor="middle" font-family="Liberation Sans, sans-serif" font-size="32" fill="#000">(A)</text>
<text x="72.5" y="339.6" font-family="DejaVu Sans, sans-serif" font-weight="200" font-size="31" fill="#f5f53c" textLength="61.6" lengthAdjust="spacingAndGlyphs">FEB</text>
<text x="149.9" y="339.6" font-family="DejaVu Sans, sans-serif" font-weight="200" font-size="31" fill="#f5f53c" textLength="83.5" lengthAdjust="spacingAndGlyphs">2024</text>
<text x="78.6" y="50.4" text-anchor="middle" font-family="DejaVu Sans, sans-serif" font-weight="200" stroke="#1e1e88" stroke-width="0.45" font-size="21" fill="#1e1e88">−4<tspan fill="#3a6fd0" font-weight="400" stroke="#3a6fd0" stroke-width="0.5" font-size="20" dx="-1.5" dy="0.8">°</tspan></text>
<text x="78.6" y="396.0" text-anchor="middle" font-family="DejaVu Sans, sans-serif" font-weight="200" stroke="#1e1e88" stroke-width="0.45" font-size="21" fill="#1e1e88">−4<tspan fill="#3a6fd0" font-weight="400" stroke="#3a6fd0" stroke-width="0.5" font-size="20" dx="-1.5" dy="0.8">°</tspan></text>
<text x="135.2" y="50.4" text-anchor="middle" font-family="DejaVu Sans, sans-serif" font-weight="200" stroke="#1e1e88" stroke-width="0.45" font-size="21" fill="#1e1e88">0<tspan fill="#3a6fd0" font-weight="400" stroke="#3a6fd0" stroke-width="0.5" font-size="20" dx="-1.5" dy="0.8">°</tspan></text>
<text x="135.2" y="396.0" text-anchor="middle" font-family="DejaVu Sans, sans-serif" font-weight="200" stroke="#1e1e88" stroke-width="0.45" font-size="21" fill="#1e1e88">0<tspan fill="#3a6fd0" font-weight="400" stroke="#3a6fd0" stroke-width="0.5" font-size="20" dx="-1.5" dy="0.8">°</tspan></text>
<text x="191.7" y="50.4" text-anchor="middle" font-family="DejaVu Sans, sans-serif" font-weight="200" stroke="#1e1e88" stroke-width="0.45" font-size="21" fill="#1e1e88">4<tspan fill="#3a6fd0" font-weight="400" stroke="#3a6fd0" stroke-width="0.5" font-size="20" dx="-1.5" dy="0.8">°</tspan></text>
<text x="191.7" y="396.0" text-anchor="middle" font-family="DejaVu Sans, sans-serif" font-weight="200" stroke="#1e1e88" stroke-width="0.45" font-size="21" fill="#1e1e88">4<tspan fill="#3a6fd0" font-weight="400" stroke="#3a6fd0" stroke-width="0.5" font-size="20" dx="-1.5" dy="0.8">°</tspan></text>
<text x="248.3" y="50.4" text-anchor="middle" font-family="DejaVu Sans, sans-serif" font-weight="200" stroke="#1e1e88" stroke-width="0.45" font-size="21" fill="#1e1e88">8<tspan fill="#3a6fd0" font-weight="400" stroke="#3a6fd0" stroke-width="0.5" font-size="20" dx="-1.5" dy="0.8">°</tspan></text>
<text x="248.3" y="396.0" text-anchor="middle" font-family="DejaVu Sans, sans-serif" font-weight="200" stroke="#1e1e88" stroke-width="0.45" font-size="21" fill="#1e1e88">8<tspan fill="#3a6fd0" font-weight="400" stroke="#3a6fd0" stroke-width="0.5" font-size="20" dx="-1.5" dy="0.8">°</tspan></text>
<text x="304.9" y="50.4" text-anchor="middle" font-family="DejaVu Sans, sans-serif" font-weight="200" stroke="#1e1e88" stroke-width="0.45" font-size="21" fill="#1e1e88">12<tspan fill="#3a6fd0" font-weight="400" stroke="#3a6fd0" stroke-width="0.5" font-size="20" dx="-1.5" dy="0.8">°</tspan></text>
<text x="304.9" y="396.0" text-anchor="middle" font-family="DejaVu Sans, sans-serif" font-weight="200" stroke="#1e1e88" stroke-width="0.45" font-size="21" fill="#1e1e88">12<tspan fill="#3a6fd0" font-weight="400" stroke="#3a6fd0" stroke-width="0.5" font-size="20" dx="-1.5" dy="0.8">°</tspan></text>
<text x="361.4" y="50.4" text-anchor="middle" font-family="DejaVu Sans, sans-serif" font-weight="200" stroke="#1e1e88" stroke-width="0.45" font-size="21" fill="#1e1e88">16<tspan fill="#3a6fd0" font-weight="400" stroke="#3a6fd0" stroke-width="0.5" font-size="20" dx="-1.5" dy="0.8">°</tspan></text>
<text x="361.4" y="396.0" text-anchor="middle" font-family="DejaVu Sans, sans-serif" font-weight="200" stroke="#1e1e88" stroke-width="0.45" font-size="21" fill="#1e1e88">16<tspan fill="#3a6fd0" font-weight="400" stroke="#3a6fd0" stroke-width="0.5" font-size="20" dx="-1.5" dy="0.8">°</tspan></text>
<text x="418.0" y="50.4" text-anchor="middle" font-family="DejaVu Sans, sans-serif" font-weight="200" stroke="#1e1e88" stroke-width="0.45" font-size="21" fill="#1e1e88">20<tspan fill="#3a6fd0" font-weight="400" stroke="#3a6fd0" stroke-width="0.5" font-size="20" dx="-1.5" dy="0.8">°</tspan></text>
<text x="418.0" y="396.0" text-anchor="middle" font-family="DejaVu Sans, sans-serif" font-weight="200" stroke="#1e1e88" stroke-width="0.45" font-size="21" fill="#1e1e88">20<tspan fill="#3a6fd0" font-weight="400" stroke="#3a6fd0" stroke-width="0.5" font-size="20" dx="-1.5" dy="0.8">°</tspan></text>
<text x="474.6" y="50.4" text-anchor="middle" font-family="DejaVu Sans, sans-serif" font-weight="200" stroke="#1e1e88" stroke-width="0.45" font-size="21" fill="#1e1e88">24<tspan fill="#3a6fd0" font-weight="400" stroke="#3a6fd0" stroke-width="0.5" font-size="20" dx="-1.5" dy="0.8">°</tspan></text>
<text x="474.6" y="396.0" text-anchor="middle" font-family="DejaVu Sans, sans-serif" font-weight="200" stroke="#1e1e88" stroke-width="0.45" font-size="21" fill="#1e1e88">24<tspan fill="#3a6fd0" font-weight="400" stroke="#3a6fd0" stroke-width="0.5" font-size="20" dx="-1.5" dy="0.8">°</tspan></text>
<text x="531.1" y="50.4" text-anchor="middle" font-family="DejaVu Sans, sans-serif" font-weight="200" stroke="#1e1e88" stroke-width="0.45" font-size="21" fill="#1e1e88">28<tspan fill="#3a6fd0" font-weight="400" stroke="#3a6fd0" stroke-width="0.5" font-size="20" dx="-1.5" dy="0.8">°</tspan></text>
<text x="531.1" y="396.0" text-anchor="middle" font-family="DejaVu Sans, sans-serif" font-weight="200" stroke="#1e1e88" stroke-width="0.45" font-size="21" fill="#1e1e88">28<tspan fill="#3a6fd0" font-weight="400" stroke="#3a6fd0" stroke-width="0.5" font-size="20" dx="-1.5" dy="0.8">°</tspan></text>
<text x="587.7" y="50.4" text-anchor="middle" font-family="DejaVu Sans, sans-serif" font-weight="200" stroke="#1e1e88" stroke-width="0.45" font-size="21" fill="#1e1e88">32<tspan fill="#3a6fd0" font-weight="400" stroke="#3a6fd0" stroke-width="0.5" font-size="20" dx="-1.5" dy="0.8">°</tspan></text>
<text x="587.7" y="396.0" text-anchor="middle" font-family="DejaVu Sans, sans-serif" font-weight="200" stroke="#1e1e88" stroke-width="0.45" font-size="21" fill="#1e1e88">32<tspan fill="#3a6fd0" font-weight="400" stroke="#3a6fd0" stroke-width="0.5" font-size="20" dx="-1.5" dy="0.8">°</tspan></text>
<text transform="translate(46.6 325.8) rotate(-90)" text-anchor="middle" font-family="DejaVu Sans, sans-serif" font-weight="200" stroke="#1e1e88" stroke-width="0.45" font-size="21" fill="#1e1e88">32<tspan fill="#3a6fd0" font-weight="400" stroke="#3a6fd0" stroke-width="0.5" font-size="20" dx="-1.5" dy="0.8">°</tspan></text>
<text transform="translate(654.3 332.8) rotate(90)" text-anchor="middle" font-family="DejaVu Sans, sans-serif" font-weight="200" stroke="#1e1e88" stroke-width="0.45" font-size="21" fill="#1e1e88">32<tspan fill="#3a6fd0" font-weight="400" stroke="#3a6fd0" stroke-width="0.5" font-size="20" dx="-1.5" dy="0.8">°</tspan></text>
<text transform="translate(46.6 249.6) rotate(-90)" text-anchor="middle" font-family="DejaVu Sans, sans-serif" font-weight="200" stroke="#1e1e88" stroke-width="0.45" font-size="21" fill="#1e1e88">36<tspan fill="#3a6fd0" font-weight="400" stroke="#3a6fd0" stroke-width="0.5" font-size="20" dx="-1.5" dy="0.8">°</tspan></text>
<text transform="translate(654.3 256.6) rotate(90)" text-anchor="middle" font-family="DejaVu Sans, sans-serif" font-weight="200" stroke="#1e1e88" stroke-width="0.45" font-size="21" fill="#1e1e88">36<tspan fill="#3a6fd0" font-weight="400" stroke="#3a6fd0" stroke-width="0.5" font-size="20" dx="-1.5" dy="0.8">°</tspan></text>
<text transform="translate(46.6 173.4) rotate(-90)" text-anchor="middle" font-family="DejaVu Sans, sans-serif" font-weight="200" stroke="#1e1e88" stroke-width="0.45" font-size="21" fill="#1e1e88">40<tspan fill="#3a6fd0" font-weight="400" stroke="#3a6fd0" stroke-width="0.5" font-size="20" dx="-1.5" dy="0.8">°</tspan></text>
<text transform="translate(654.3 180.4) rotate(90)" text-anchor="middle" font-family="DejaVu Sans, sans-serif" font-weight="200" stroke="#1e1e88" stroke-width="0.45" font-size="21" fill="#1e1e88">40<tspan fill="#3a6fd0" font-weight="400" stroke="#3a6fd0" stroke-width="0.5" font-size="20" dx="-1.5" dy="0.8">°</tspan></text>
<text transform="translate(46.6 97.2) rotate(-90)" text-anchor="middle" font-family="DejaVu Sans, sans-serif" font-weight="200" stroke="#1e1e88" stroke-width="0.45" font-size="21" fill="#1e1e88">44<tspan fill="#3a6fd0" font-weight="400" stroke="#3a6fd0" stroke-width="0.5" font-size="20" dx="-1.5" dy="0.8">°</tspan></text>
<text transform="translate(654.3 104.2) rotate(90)" text-anchor="middle" font-family="DejaVu Sans, sans-serif" font-weight="200" stroke="#1e1e88" stroke-width="0.45" font-size="21" fill="#1e1e88">44<tspan fill="#3a6fd0" font-weight="400" stroke="#3a6fd0" stroke-width="0.5" font-size="20" dx="-1.5" dy="0.8">°</tspan></text>
<text x="278.2" y="24.8" font-family="Liberation Sans, sans-serif" font-size="26" fill="#000">Longitude</text>
<text transform="translate(24.5 222.7) rotate(-90)" text-anchor="middle" font-family="Liberation Sans, sans-serif" font-size="26.6" fill="#000">Latitude</text>
<defs><clipPath id="clipB"><rect x="743.9" y="58.5" width="595.6" height="313.0"/></clipPath><clipPath id="seaB"><path d="M728.7,247.9 L741.5,247.9 L745.0,247.0 L747.9,245.6 L751.4,244.1 L758.6,239.9 L764.3,239.5 L771.4,239.9 L778.5,239.3 L784.2,239.9 L787.7,237.8 L791.3,239.7 L793.4,235.5 L797.0,228.8 L802.7,224.0 L807.7,223.0 L811.2,222.1 L810.5,216.3 L813.4,210.6 L817.6,205.8 L822.6,202.9 L824.5,201.0 L820.5,197.2 L817.6,190.5 L816.5,186.6 L819.0,179.9 L822.6,174.2 L827.6,168.5 L834.0,163.7 L832.6,160.8 L836.8,157.0 L843.9,154.1 L851.8,151.2 L858.2,146.4 L866.0,141.6 L866.7,136.8 L868.1,133.0 L864.6,129.2 L864.6,121.5 L868.1,114.8 L873.8,111.6 L879.5,109.1 L886.6,112.3 L890.9,111.9 L896.6,113.9 L900.9,116.2 L905.9,117.7 L911.6,117.7 L916.5,114.8 L920.1,110.0 L925.1,106.2 L929.3,104.7 L935.0,102.7 L940.7,96.6 L947.8,92.4 L955.0,95.1 L961.4,98.9 L966.3,102.4 L967.8,109.1 L970.6,115.8 L970.6,120.6 L974.2,123.4 L979.2,128.2 L984.8,132.1 L989.1,136.8 L995.5,144.1 L1000.5,149.3 L1006.9,153.1 L1014.7,153.1 L1019.0,157.0 L1021.1,161.7 L1024.7,161.2 L1026.8,164.6 L1025.4,165.6 L1031.1,164.6 L1034.7,169.4 L1033.9,173.2 L1038.9,176.5 L1043.9,176.1 L1046.0,182.8 L1049.6,189.5 L1051.7,197.2 L1048.9,201.0 L1046.8,202.9 L1048.2,205.8 L1043.9,211.6 L1043.9,216.3 L1049.6,216.9 L1056.0,208.7 L1057.4,200.1 L1065.3,197.2 L1064.5,188.6 L1056.0,182.8 L1056.7,176.1 L1061.7,169.4 L1066.0,168.5 L1070.9,171.7 L1076.6,175.2 L1082.3,180.9 L1084.5,175.2 L1083.8,171.3 L1077.4,164.6 L1068.8,159.8 L1061.0,155.0 L1051.7,150.3 L1048.2,146.4 L1051.0,140.7 L1044.6,140.1 L1036.8,140.1 L1030.4,136.8 L1024.0,130.1 L1018.3,121.5 L1014.7,110.0 L1009.0,105.2 L1000.5,98.5 L996.2,90.9 L999.1,83.2 L996.2,77.5 L1000.5,71.7 L1007.6,67.9 L1016.2,67.9 L1014.7,72.7 L1013.3,77.5 L1016.2,83.2 L1020.4,81.3 L1024.7,75.5 L1028.3,76.5 L1033.2,85.1 L1039.6,94.7 L1043.2,100.5 L1048.2,108.1 L1054.6,110.0 L1061.7,111.9 L1068.8,118.6 L1074.5,121.5 L1078.8,126.3 L1084.5,130.1 L1088.0,133.0 L1091.6,136.8 L1097.3,141.6 L1100.1,145.5 L1098.0,152.2 L1098.0,159.8 L1096.6,165.6 L1098.0,170.4 L1103.0,177.1 L1106.5,182.8 L1109.4,187.6 L1113.6,192.4 L1115.8,195.3 L1116.5,200.1 L1119.3,203.9 L1121.5,207.7 L1125.0,208.7 L1130.7,209.1 L1135.7,208.1 L1141.4,208.1 L1146.4,211.6 L1150.6,215.0 L1147.8,216.9 L1142.8,214.4 L1137.1,212.5 L1132.1,210.2 L1129.3,211.9 L1125.7,212.5 L1122.2,216.9 L1125.0,221.1 L1128.6,230.7 L1130.0,237.4 L1133.6,238.4 L1135.7,233.6 L1139.3,242.2 L1141.4,245.6 L1143.5,238.4 L1146.4,240.3 L1148.5,245.1 L1151.4,245.1 L1149.2,236.5 L1145.0,225.0 L1150.6,228.8 L1155.6,225.9 L1154.2,220.2 L1158.5,216.3 L1163.5,222.1 L1167.0,215.4 L1170.6,214.4 L1164.9,203.9 L1154.2,196.2 L1148.5,194.3 L1147.8,188.6 L1153.5,192.4 L1147.1,182.8 L1142.1,177.1 L1143.5,167.5 L1147.8,165.6 L1147.1,168.5 L1152.8,172.3 L1154.2,178.0 L1159.2,178.4 L1155.6,172.3 L1159.2,173.2 L1162.0,178.0 L1163.5,173.2 L1162.0,171.3 L1164.2,172.3 L1168.4,174.2 L1167.0,171.3 L1162.0,167.5 L1159.9,162.7 L1169.1,159.8 L1178.4,158.9 L1189.8,160.8 L1192.6,165.6 L1194.8,170.4 L1201.2,168.5 L1209.7,164.6 L1219.7,157.9 L1228.2,157.0 L1234.6,157.0 L1238.2,161.7 L1233.9,164.6 L1228.2,169.4 L1216.8,170.4 L1212.6,168.5 L1201.2,172.3 L1194.8,176.1 L1193.3,186.6 L1204.0,186.6 L1201.2,194.3 L1204.7,200.1 L1203.3,206.8 L1196.9,206.8 L1196.2,210.6 L1204.0,213.5 L1209.0,218.3 L1209.0,227.8 L1213.3,235.5 L1221.1,238.4 L1214.0,241.2 L1223.9,239.3 L1228.2,239.3 L1235.3,242.2 L1242.4,249.9 L1251.0,247.9 L1255.2,245.1 L1256.0,237.4 L1261.7,237.4 L1269.5,239.3 L1276.6,243.2 L1283.7,250.8 L1288.7,252.7 L1299.4,250.8 L1305.8,247.9 L1310.0,240.3 L1315.7,238.4 L1323.6,242.2 L1328.5,242.2 L1334.2,235.5 L1336.4,242.2 L1331.4,247.9 L1332.8,255.6 L1331.4,264.2 L1332.1,272.8 L1332.8,279.6 L1328.5,286.3 L1326.4,293.9 L1323.6,302.5 L1320.7,310.2 L1318.6,315.0 L1317.2,322.7 L1315.0,331.3 L1311.5,338.9 L1307.9,343.7 L1302.2,346.6 L1295.1,347.6 L1286.6,348.5 L1280.9,344.7 L1275.2,339.9 L1269.5,338.9 L1262.4,338.9 L1253.8,339.9 L1248.8,343.7 L1243.9,347.6 L1236.7,351.4 L1228.2,350.4 L1218.2,347.6 L1209.7,342.8 L1198.3,339.9 L1188.4,338.0 L1179.1,338.0 L1174.8,331.3 L1164.2,330.3 L1155.6,326.5 L1149.9,318.8 L1142.8,315.0 L1137.1,313.1 L1127.2,313.1 L1118.6,317.9 L1110.1,323.6 L1106.5,330.3 L1107.2,341.8 L1103.7,350.4 L1097.3,359.0 L1090.2,361.0 L1081.6,356.2 L1071.7,350.4 L1060.3,345.6 L1051.7,343.7 L1043.2,338.0 L1038.2,326.5 L1029.0,320.7 L1017.6,315.0 L1009.0,313.1 L999.1,315.0 L990.5,310.2 L983.4,307.3 L979.2,305.4 L976.3,299.7 L971.3,298.7 L964.9,294.9 L964.2,288.2 L969.9,281.5 L974.9,275.7 L979.2,269.0 L976.3,262.3 L972.0,256.6 L970.6,249.9 L975.6,245.1 L979.2,236.5 L975.6,234.5 L970.6,239.3 L967.1,237.4 L967.1,231.7 L961.4,228.8 L953.5,229.7 L946.4,234.5 L943.6,235.5 L932.2,235.5 L925.1,233.6 L913.7,236.5 L909.4,233.6 L899.5,238.4 L893.0,240.3 L885.2,236.5 L876.7,236.5 L866.7,238.8 L861.0,240.3 L853.9,242.2 L842.5,244.1 L834.0,248.9 L825.4,255.6 L818.3,257.5 L812.6,258.5 L806.9,261.4 L801.3,267.1 L794.1,270.9 L788.4,270.9 L782.8,270.9 L779.2,267.1 L774.2,269.0 L765.7,268.1 L758.6,270.0 L752.9,267.1 L747.9,264.8 L745.8,263.3 L743.6,262.3 L741.5,262.3 L728.7,262.3 Z"/></clipPath><filter id="blB" x="724" y="38" width="636" height="353" filterUnits="userSpaceOnUse"><feGaussianBlur stdDeviation="5"/></filter><filter id="bqB" x="724" y="38" width="636" height="353" filterUnits="userSpaceOnUse"><feGaussianBlur stdDeviation="2.2"/></filter><filter id="bsB" x="724" y="38" width="636" height="353" filterUnits="userSpaceOnUse"><feGaussianBlur stdDeviation="2"/></filter></defs>
<g clip-path="url(#clipB)">
<rect x="743.9" y="58.5" width="595.6" height="313.0" fill="#808080"/>
<path d="M1256.7,52.6 L1256.7,56.4 L1251.0,66.0 L1243.9,73.6 L1243.9,79.4 L1233.9,86.1 L1229.6,94.7 L1228.2,104.3 L1219.0,115.8 L1218.2,125.4 L1214.0,131.1 L1216.8,138.8 L1219.7,146.4 L1228.2,152.2 L1235.3,154.1 L1246.7,155.0 L1255.2,154.1 L1268.1,152.2 L1280.9,144.5 L1290.8,140.7 L1305.1,138.8 L1320.7,138.8 L1326.4,145.5 L1334.9,146.4 L1339.2,152.2 L1347.8,154.1 L1354.9,52.6 Z" fill="#a0f8b6" stroke="#00007f" stroke-width="1"/>
<path d="M1283.7,73.6 L1285.1,69.8 L1293.7,64.1 L1300.8,62.1 L1307.9,58.3 L1313.6,50.6 L1323.6,50.6 L1322.1,58.3 L1325.0,69.8 L1333.5,72.7 L1342.1,72.7 L1342.8,75.5 L1339.2,77.5 L1332.1,80.3 L1325.0,80.3 L1318.6,84.2 L1310.8,87.6 L1307.2,91.8 L1300.8,92.8 L1296.5,90.9 L1298.7,85.1 L1298.7,80.3 L1295.1,77.5 L1289.4,74.6 Z" fill="#808080" stroke="#00007f" stroke-width="1"/>
<ellipse cx="1216.5" cy="123.4" rx="1.4" ry="5.4" fill="#e03020" opacity="0.9"/>
<ellipse cx="1218.2" cy="129.2" rx="1.0" ry="2.3" fill="#f0c040" opacity="0.9"/>
<g clip-path="url(#seaB)">
<rect x="743.9" y="58.5" width="595.6" height="313.0" fill="#b8f084"/>
<g filter="url(#blB)">
<ellipse cx="801.3" cy="246.0" rx="12.8" ry="8.6" fill="#68b8f2" fill-opacity="0.9"/>
<ellipse cx="791.3" cy="263.3" rx="11.4" ry="5.7" fill="#f0a030" fill-opacity="0.85"/>
<ellipse cx="775.6" cy="257.5" rx="8.5" ry="7.7" fill="#f2f040" fill-opacity="0.7"/>
<ellipse cx="821.2" cy="234.5" rx="11.4" ry="8.6" fill="#80e2f2" fill-opacity="0.9"/>
<ellipse cx="846.8" cy="219.2" rx="17.1" ry="11.5" fill="#e66426" fill-opacity="0.9"/>
<ellipse cx="872.4" cy="203.9" rx="11.4" ry="9.6" fill="#f0a030" fill-opacity="0.85"/>
<ellipse cx="858.2" cy="161.7" rx="10.0" ry="8.6" fill="#f0a030" fill-opacity="0.75"/>
<ellipse cx="842.5" cy="173.2" rx="14.2" ry="11.5" fill="#f2f040" fill-opacity="0.8"/>
<ellipse cx="863.9" cy="184.7" rx="14.2" ry="9.6" fill="#f2f040" fill-opacity="0.8"/>
<ellipse cx="910.8" cy="202.0" rx="8.5" ry="28.7" fill="#f0a030" fill-opacity="0.95" transform="rotate(-28 910.8 202.0)"/>
<ellipse cx="913.7" cy="207.7" rx="5.7" ry="19.2" fill="#e66426" fill-opacity="0.85" transform="rotate(-28 913.7 207.7)"/>
<ellipse cx="900.9" cy="184.7" rx="7.1" ry="9.6" fill="#f0a030" fill-opacity="0.8"/>
<ellipse cx="919.4" cy="219.2" rx="6.4" ry="7.7" fill="#d42a1a" fill-opacity="0.7"/>
<ellipse cx="942.1" cy="203.9" rx="14.2" ry="17.2" fill="#80e2f2" fill-opacity="0.85"/>
<ellipse cx="952.1" cy="223.0" rx="8.5" ry="7.7" fill="#c4ee74" fill-opacity="0.7"/>
<ellipse cx="899.5" cy="133.0" rx="34.2" ry="17.2" fill="#80e2f2" fill-opacity="0.9"/>
<ellipse cx="899.5" cy="131.1" rx="17.1" ry="8.6" fill="#5296ea" fill-opacity="0.9"/>
<ellipse cx="946.4" cy="110.0" rx="11.4" ry="11.5" fill="#9cf0c4" fill-opacity="0.85"/>
<ellipse cx="872.4" cy="146.4" rx="11.4" ry="9.6" fill="#80e2f2" fill-opacity="0.85"/>
<ellipse cx="927.9" cy="157.9" rx="17.1" ry="11.5" fill="#80e2f2" fill-opacity="0.7"/>
<ellipse cx="969.2" cy="202.0" rx="15.7" ry="15.3" fill="#68b8f2" fill-opacity="0.9"/>
<ellipse cx="999.1" cy="186.6" rx="18.5" ry="17.2" fill="#80e2f2" fill-opacity="0.85"/>
<ellipse cx="987.7" cy="173.2" rx="8.5" ry="9.6" fill="#f2f040" fill-opacity="0.8"/>
<ellipse cx="977.7" cy="142.6" rx="17.1" ry="15.3" fill="#80e2f2" fill-opacity="0.8"/>
<ellipse cx="1020.4" cy="200.1" rx="14.2" ry="9.6" fill="#c4ee74" fill-opacity="0.7"/>
<ellipse cx="1013.3" cy="89.0" rx="19.9" ry="19.2" fill="#a8f0b0" fill-opacity="0.9"/>
<ellipse cx="1046.0" cy="123.4" rx="21.3" ry="15.3" fill="#80e2f2" fill-opacity="0.95"/>
<ellipse cx="1056.0" cy="138.8" rx="11.4" ry="7.7" fill="#68b8f2" fill-opacity="0.8"/>
<ellipse cx="1080.2" cy="154.1" rx="14.2" ry="15.3" fill="#80e2f2" fill-opacity="0.85"/>
<ellipse cx="1027.5" cy="104.3" rx="11.4" ry="9.6" fill="#80e2f2" fill-opacity="0.8"/>
<ellipse cx="1098.7" cy="205.8" rx="17.1" ry="19.2" fill="#9cf0c4" fill-opacity="0.8"/>
<ellipse cx="992.0" cy="161.7" rx="17.1" ry="15.3" fill="#80e2f2" fill-opacity="0.8"/>
<ellipse cx="1017.6" cy="196.2" rx="14.2" ry="11.5" fill="#9cf0c4" fill-opacity="0.8"/>
<ellipse cx="1162.7" cy="205.8" rx="14.2" ry="19.2" fill="#80e2f2" fill-opacity="0.75"/>
<ellipse cx="1191.2" cy="253.7" rx="14.2" ry="7.7" fill="#80e2f2" fill-opacity="0.7"/>
<ellipse cx="1127.2" cy="282.4" rx="14.2" ry="11.5" fill="#80e2f2" fill-opacity="0.6"/>
<ellipse cx="1067.4" cy="234.5" rx="10.0" ry="24.9" fill="#80e2f2" fill-opacity="0.85" transform="rotate(-35 1067.4 234.5)"/>
<ellipse cx="1051.7" cy="257.5" rx="7.1" ry="19.2" fill="#80e2f2" fill-opacity="0.7" transform="rotate(-40 1051.7 257.5)"/>
<ellipse cx="1110.1" cy="242.2" rx="11.4" ry="15.3" fill="#f2f040" fill-opacity="0.6"/>
<ellipse cx="1013.3" cy="292.0" rx="45.5" ry="38.3" fill="#f0a030" fill-opacity="0.95"/>
<ellipse cx="984.8" cy="272.8" rx="17.1" ry="30.6" fill="#f0a030" fill-opacity="0.95"/>
<ellipse cx="977.7" cy="295.8" rx="10.0" ry="9.6" fill="#f0a030" fill-opacity="0.9"/>
<ellipse cx="1004.8" cy="257.5" rx="14.2" ry="9.6" fill="#e66426" fill-opacity="0.7" transform="rotate(-30 1004.8 257.5)"/>
<ellipse cx="1037.5" cy="289.1" rx="18.5" ry="17.2" fill="#e66426" fill-opacity="0.85"/>
<ellipse cx="1074.5" cy="339.9" rx="25.6" ry="23.0" fill="#f2f040" fill-opacity="0.9"/>
<ellipse cx="1071.7" cy="334.1" rx="8.5" ry="7.7" fill="#f0a030" fill-opacity="0.8"/>
<ellipse cx="1046.0" cy="330.3" rx="17.1" ry="15.3" fill="#f0a030" fill-opacity="0.9"/>
<ellipse cx="1095.9" cy="353.3" rx="11.4" ry="11.5" fill="#f2f040" fill-opacity="0.9"/>
<ellipse cx="1084.5" cy="292.0" rx="12.8" ry="13.4" fill="#c4ee74" fill-opacity="0.8"/>
<ellipse cx="1088.7" cy="249.9" rx="5.0" ry="23.0" fill="#80e2f2" fill-opacity="0.85" transform="rotate(20 1088.7 249.9)"/>
<ellipse cx="1105.8" cy="263.3" rx="4.3" ry="19.2" fill="#80e2f2" fill-opacity="0.8" transform="rotate(-30 1105.8 263.3)"/>
<ellipse cx="1060.3" cy="211.6" rx="12.8" ry="9.6" fill="#80e2f2" fill-opacity="0.8"/>
<ellipse cx="1120.0" cy="219.2" rx="11.4" ry="11.5" fill="#80e2f2" fill-opacity="0.7"/>
<ellipse cx="1110.1" cy="307.3" rx="14.2" ry="15.3" fill="#f2f040" fill-opacity="0.7"/>
<ellipse cx="1134.3" cy="261.4" rx="12.8" ry="11.5" fill="#f0a030" fill-opacity="0.7"/>
<ellipse cx="1148.5" cy="301.6" rx="17.1" ry="15.3" fill="#9cf0c4" fill-opacity="0.7"/>
<ellipse cx="1174.1" cy="182.8" rx="25.6" ry="24.9" fill="#9cf0c4" fill-opacity="0.9"/>
<ellipse cx="1179.8" cy="219.2" rx="14.2" ry="15.3" fill="#80e2f2" fill-opacity="0.85"/>
<ellipse cx="1167.0" cy="242.2" rx="14.2" ry="11.5" fill="#f2f040" fill-opacity="0.7"/>
<ellipse cx="1177.0" cy="284.3" rx="17.1" ry="9.6" fill="#80e2f2" fill-opacity="0.75"/>
<ellipse cx="1226.8" cy="267.1" rx="18.5" ry="15.3" fill="#5296ea" fill-opacity="0.9"/>
<ellipse cx="1245.3" cy="261.4" rx="18.5" ry="11.5" fill="#80e2f2" fill-opacity="0.85"/>
<ellipse cx="1212.6" cy="247.9" rx="17.1" ry="7.7" fill="#80e2f2" fill-opacity="0.8"/>
<ellipse cx="1269.5" cy="286.3" rx="14.2" ry="13.4" fill="#80e2f2" fill-opacity="0.75"/>
<ellipse cx="1221.1" cy="313.1" rx="14.2" ry="15.3" fill="#e66426" fill-opacity="0.95"/>
<ellipse cx="1191.2" cy="322.7" rx="18.5" ry="11.5" fill="#f2f040" fill-opacity="0.8"/>
<ellipse cx="1177.0" cy="330.3" rx="11.4" ry="7.7" fill="#f0a030" fill-opacity="0.7"/>
<ellipse cx="1269.5" cy="330.3" rx="25.6" ry="11.5" fill="#f2f040" fill-opacity="0.9"/>
<ellipse cx="1320.7" cy="280.5" rx="10.0" ry="19.2" fill="#f0a030" fill-opacity="0.9"/>
<ellipse cx="1297.9" cy="255.6" rx="21.3" ry="7.7" fill="#f2f040" fill-opacity="0.8"/>
<ellipse cx="1293.7" cy="309.2" rx="12.8" ry="15.3" fill="#f2f040" fill-opacity="0.85"/>
<ellipse cx="1309.3" cy="324.6" rx="10.0" ry="9.6" fill="#f0a030" fill-opacity="0.8"/>
<ellipse cx="1248.1" cy="299.7" rx="11.4" ry="11.5" fill="#c4ee74" fill-opacity="0.7"/>
</g>
<g filter="url(#bsB)">
<ellipse cx="761.4" cy="257.5" rx="8.5" ry="11.5" fill="none" stroke="#141c66" stroke-width="6" stroke-opacity="0.85"/>
<ellipse cx="761.4" cy="257.5" rx="5.0" ry="6.7" fill="#d42a1a" fill-opacity="0.95"/>
<ellipse cx="1221.1" cy="313.1" rx="6.4" ry="6.7" fill="#d42a1a" fill-opacity="0.75"/>
<ellipse cx="1232.5" cy="162.7" rx="6.4" ry="1.5" fill="#d42a1a" fill-opacity="0.9"/>
<ellipse cx="915.1" cy="211.6" rx="4.3" ry="13.4" fill="#d42a1a" fill-opacity="0.45" transform="rotate(-28 915.1 211.6)"/>
<ellipse cx="1037.5" cy="289.1" rx="8.5" ry="7.7" fill="#d42a1a" fill-opacity="0.35"/>
</g>
<filter id="txB" x="744" y="58" width="596" height="313" filterUnits="userSpaceOnUse"><feTurbulence type="fractalNoise" baseFrequency="0.12 0.9" numOctaves="2" seed="66"/><feColorMatrix type="matrix" values="0 0 0 0 0.07  0 0 0 0 0.09  0 0 0 0 0.40  1.2 0 0 0 -0.75"/></filter>
<rect x="743.9" y="58.5" width="595.6" height="313.0" filter="url(#txB)" />
<rect x="743.9" y="58.5" width="595.6" height="313.0" fill="url(#quiv)" opacity="0.5"/>
</g>
<path d="M728.7,247.9 L741.5,247.9 L745.0,247.0 L747.9,245.6 L751.4,244.1 L758.6,239.9 L764.3,239.5 L771.4,239.9 L778.5,239.3 L784.2,239.9 L787.7,237.8 L791.3,239.7 L793.4,235.5 L797.0,228.8 L802.7,224.0 L807.7,223.0 L811.2,222.1 L810.5,216.3 L813.4,210.6 L817.6,205.8 L822.6,202.9 L824.5,201.0 L820.5,197.2 L817.6,190.5 L816.5,186.6 L819.0,179.9 L822.6,174.2 L827.6,168.5 L834.0,163.7 L832.6,160.8 L836.8,157.0 L843.9,154.1 L851.8,151.2 L858.2,146.4 L866.0,141.6 L866.7,136.8 L868.1,133.0 L864.6,129.2 L864.6,121.5 L868.1,114.8 L873.8,111.6 L879.5,109.1 L886.6,112.3 L890.9,111.9 L896.6,113.9 L900.9,116.2 L905.9,117.7 L911.6,117.7 L916.5,114.8 L920.1,110.0 L925.1,106.2 L929.3,104.7 L935.0,102.7 L940.7,96.6 L947.8,92.4 L955.0,95.1 L961.4,98.9 L966.3,102.4 L967.8,109.1 L970.6,115.8 L970.6,120.6 L974.2,123.4 L979.2,128.2 L984.8,132.1 L989.1,136.8 L995.5,144.1 L1000.5,149.3 L1006.9,153.1 L1014.7,153.1 L1019.0,157.0 L1021.1,161.7 L1024.7,161.2 L1026.8,164.6 L1025.4,165.6 L1031.1,164.6 L1034.7,169.4 L1033.9,173.2 L1038.9,176.5 L1043.9,176.1 L1046.0,182.8 L1049.6,189.5 L1051.7,197.2 L1048.9,201.0 L1046.8,202.9 L1048.2,205.8 L1043.9,211.6 L1043.9,216.3 L1049.6,216.9 L1056.0,208.7 L1057.4,200.1 L1065.3,197.2 L1064.5,188.6 L1056.0,182.8 L1056.7,176.1 L1061.7,169.4 L1066.0,168.5 L1070.9,171.7 L1076.6,175.2 L1082.3,180.9 L1084.5,175.2 L1083.8,171.3 L1077.4,164.6 L1068.8,159.8 L1061.0,155.0 L1051.7,150.3 L1048.2,146.4 L1051.0,140.7 L1044.6,140.1 L1036.8,140.1 L1030.4,136.8 L1024.0,130.1 L1018.3,121.5 L1014.7,110.0 L1009.0,105.2 L1000.5,98.5 L996.2,90.9 L999.1,83.2 L996.2,77.5 L1000.5,71.7 L1007.6,67.9 L1016.2,67.9 L1014.7,72.7 L1013.3,77.5 L1016.2,83.2 L1020.4,81.3 L1024.7,75.5 L1028.3,76.5 L1033.2,85.1 L1039.6,94.7 L1043.2,100.5 L1048.2,108.1 L1054.6,110.0 L1061.7,111.9 L1068.8,118.6 L1074.5,121.5 L1078.8,126.3 L1084.5,130.1 L1088.0,133.0 L1091.6,136.8 L1097.3,141.6 L1100.1,145.5 L1098.0,152.2 L1098.0,159.8 L1096.6,165.6 L1098.0,170.4 L1103.0,177.1 L1106.5,182.8 L1109.4,187.6 L1113.6,192.4 L1115.8,195.3 L1116.5,200.1 L1119.3,203.9 L1121.5,207.7 L1125.0,208.7 L1130.7,209.1 L1135.7,208.1 L1141.4,208.1 L1146.4,211.6 L1150.6,215.0 L1147.8,216.9 L1142.8,214.4 L1137.1,212.5 L1132.1,210.2 L1129.3,211.9 L1125.7,212.5 L1122.2,216.9 L1125.0,221.1 L1128.6,230.7 L1130.0,237.4 L1133.6,238.4 L1135.7,233.6 L1139.3,242.2 L1141.4,245.6 L1143.5,238.4 L1146.4,240.3 L1148.5,245.1 L1151.4,245.1 L1149.2,236.5 L1145.0,225.0 L1150.6,228.8 L1155.6,225.9 L1154.2,220.2 L1158.5,216.3 L1163.5,222.1 L1167.0,215.4 L1170.6,214.4 L1164.9,203.9 L1154.2,196.2 L1148.5,194.3 L1147.8,188.6 L1153.5,192.4 L1147.1,182.8 L1142.1,177.1 L1143.5,167.5 L1147.8,165.6 L1147.1,168.5 L1152.8,172.3 L1154.2,178.0 L1159.2,178.4 L1155.6,172.3 L1159.2,173.2 L1162.0,178.0 L1163.5,173.2 L1162.0,171.3 L1164.2,172.3 L1168.4,174.2 L1167.0,171.3 L1162.0,167.5 L1159.9,162.7 L1169.1,159.8 L1178.4,158.9 L1189.8,160.8 L1192.6,165.6 L1194.8,170.4 L1201.2,168.5 L1209.7,164.6 L1219.7,157.9 L1228.2,157.0 L1234.6,157.0 L1238.2,161.7 L1233.9,164.6 L1228.2,169.4 L1216.8,170.4 L1212.6,168.5 L1201.2,172.3 L1194.8,176.1 L1193.3,186.6 L1204.0,186.6 L1201.2,194.3 L1204.7,200.1 L1203.3,206.8 L1196.9,206.8 L1196.2,210.6 L1204.0,213.5 L1209.0,218.3 L1209.0,227.8 L1213.3,235.5 L1221.1,238.4 L1214.0,241.2 L1223.9,239.3 L1228.2,239.3 L1235.3,242.2 L1242.4,249.9 L1251.0,247.9 L1255.2,245.1 L1256.0,237.4 L1261.7,237.4 L1269.5,239.3 L1276.6,243.2 L1283.7,250.8 L1288.7,252.7 L1299.4,250.8 L1305.8,247.9 L1310.0,240.3 L1315.7,238.4 L1323.6,242.2 L1328.5,242.2 L1334.2,235.5 L1336.4,242.2 L1331.4,247.9 L1332.8,255.6 L1331.4,264.2 L1332.1,272.8 L1332.8,279.6 L1328.5,286.3 L1326.4,293.9 L1323.6,302.5 L1320.7,310.2 L1318.6,315.0 L1317.2,322.7 L1315.0,331.3 L1311.5,338.9 L1307.9,343.7 L1302.2,346.6 L1295.1,347.6 L1286.6,348.5 L1280.9,344.7 L1275.2,339.9 L1269.5,338.9 L1262.4,338.9 L1253.8,339.9 L1248.8,343.7 L1243.9,347.6 L1236.7,351.4 L1228.2,350.4 L1218.2,347.6 L1209.7,342.8 L1198.3,339.9 L1188.4,338.0 L1179.1,338.0 L1174.8,331.3 L1164.2,330.3 L1155.6,326.5 L1149.9,318.8 L1142.8,315.0 L1137.1,313.1 L1127.2,313.1 L1118.6,317.9 L1110.1,323.6 L1106.5,330.3 L1107.2,341.8 L1103.7,350.4 L1097.3,359.0 L1090.2,361.0 L1081.6,356.2 L1071.7,350.4 L1060.3,345.6 L1051.7,343.7 L1043.2,338.0 L1038.2,326.5 L1029.0,320.7 L1017.6,315.0 L1009.0,313.1 L999.1,315.0 L990.5,310.2 L983.4,307.3 L979.2,305.4 L976.3,299.7 L971.3,298.7 L964.9,294.9 L964.2,288.2 L969.9,281.5 L974.9,275.7 L979.2,269.0 L976.3,262.3 L972.0,256.6 L970.6,249.9 L975.6,245.1 L979.2,236.5 L975.6,234.5 L970.6,239.3 L967.1,237.4 L967.1,231.7 L961.4,228.8 L953.5,229.7 L946.4,234.5 L943.6,235.5 L932.2,235.5 L925.1,233.6 L913.7,236.5 L909.4,233.6 L899.5,238.4 L893.0,240.3 L885.2,236.5 L876.7,236.5 L866.7,238.8 L861.0,240.3 L853.9,242.2 L842.5,244.1 L834.0,248.9 L825.4,255.6 L818.3,257.5 L812.6,258.5 L806.9,261.4 L801.3,267.1 L794.1,270.9 L788.4,270.9 L782.8,270.9 L779.2,267.1 L774.2,269.0 L765.7,268.1 L758.6,270.0 L752.9,267.1 L747.9,264.8 L745.8,263.3 L743.6,262.3 L741.5,262.3 L728.7,262.3 Z" fill="none" stroke="#00007f" stroke-width="1.1"/>
<g fill="none" stroke="#00007f" stroke-width="1.1" stroke-linecap="round">
<polyline points="757.3,211.1 761.2,210.1"/>
<polyline points="772.3,189.6 774.7,187.5"/>
<polyline points="800.8,185.6 803.1,187.7"/>
<polyline points="782.3,172.4 784.6,170.3"/>
<polyline points="747.0,225.4 750.2,226.5"/>
<polyline points="748.5,195.8 751.6,194.7"/>
<polyline points="815.7,152.5 819.6,150.9"/>
<polyline points="753.8,141.7 756.2,139.6"/>
<polyline points="793.4,133.6 794.9,130.5"/>
<polyline points="828.6,139.0 829.4,134.7"/>
<polyline points="775.2,158.8 777.5,160.9"/>
<polyline points="768.1,126.8 770.4,125.8"/>
<polyline points="807.6,204.3 809.2,205.4"/>
<polyline points="789.1,216.9 790.7,215.8"/>
<polyline points="766.3,232.2 767.9,231.1"/>
<polyline points="751.3,115.3 754.4,114.3"/>
<polyline points="843.2,127.7 844.7,128.7"/>
<polyline points="817.5,130.2 819.1,128.1"/>
<ellipse cx="893.8" cy="111.0" rx="1.7" ry="1.5"/>
<ellipse cx="872.4" cy="111.9" rx="2.1" ry="1.0"/>
<ellipse cx="973.5" cy="69.8" rx="1.1" ry="4.8"/>
<ellipse cx="943.6" cy="64.1" rx="0.7" ry="4.8"/>
<ellipse cx="952.8" cy="63.1" rx="0.7" ry="3.8"/>
<ellipse cx="993.4" cy="116.7" rx="1.7" ry="1.5"/>
<ellipse cx="990.5" cy="127.3" rx="1.4" ry="1.9"/>
<ellipse cx="1041.8" cy="140.7" rx="2.1" ry="1.0"/>
<ellipse cx="1095.9" cy="134.9" rx="2.1" ry="2.3"/>
<ellipse cx="1116.5" cy="157.9" rx="1.1" ry="2.9"/>
<ellipse cx="1120.0" cy="160.8" rx="1.1" ry="2.3"/>
<polyline points="1045.0,72.6 1052.8,74.7"/>
<polyline points="1086.7,93.7 1092.2,95.8"/>
<polyline points="1128.8,112.2 1132.7,117.5"/>
<ellipse cx="1154.2" cy="163.7" rx="1.7" ry="1.0"/>
<ellipse cx="1128.6" cy="204.8" rx="2.1" ry="1.0"/>
<ellipse cx="1124.3" cy="167.5" rx="0.9" ry="1.1"/>
<polyline points="1142.7,149.6 1145.8,152.8"/>
<polyline points="1158.8,130.0 1166.7,132.2"/>
<ellipse cx="1241.0" cy="168.5" rx="2.1" ry="1.1"/>
<ellipse cx="1228.2" cy="173.2" rx="1.7" ry="1.1"/>
<ellipse cx="1219.0" cy="173.2" rx="1.4" ry="1.1"/>
<ellipse cx="1260.2" cy="218.3" rx="0.9" ry="3.8"/>
<ellipse cx="1269.5" cy="220.2" rx="1.7" ry="3.4"/>
<ellipse cx="1251.0" cy="221.1" rx="1.7" ry="1.0"/>
<ellipse cx="1296.5" cy="200.1" rx="2.8" ry="5.7"/>
<ellipse cx="1245.3" cy="219.2" rx="1.1" ry="0.8"/>
<ellipse cx="1283.7" cy="205.8" rx="1.1" ry="1.1"/>
<ellipse cx="1312.2" cy="186.6" rx="0.9" ry="1.5"/>
<polyline points="1320.9,207.1 1324.8,210.2"/>
<polyline points="1318.7,162.6 1324.2,164.7"/>
<polyline points="1251.9,187.7 1254.3,185.6"/>
<polyline points="1224.9,193.3 1227.3,195.4"/>
<polyline points="1213.5,216.2 1215.9,218.4"/>
<ellipse cx="910.8" cy="288.2" rx="7.1" ry="1.9"/>
<ellipse cx="940.7" cy="297.8" rx="11.4" ry="2.9"/>
<ellipse cx="966.3" cy="272.8" rx="1.7" ry="1.1"/>
<ellipse cx="900.9" cy="258.5" rx="2.8" ry="1.1"/>
<ellipse cx="828.3" cy="265.2" rx="5.7" ry="1.5"/>
<polyline points="860.1,277.5 864.8,279.6"/>
<polyline points="789.7,279.6 792.9,277.5"/>
<polyline points="765.2,291.6 767.6,290.5"/>
<polyline points="886.8,262.8 890.7,261.8"/>
<ellipse cx="1293.7" cy="346.6" rx="5.0" ry="1.0"/>
<ellipse cx="1276.6" cy="344.7" rx="2.8" ry="1.5"/>
<ellipse cx="1259.5" cy="340.9" rx="3.6" ry="1.0"/>
<ellipse cx="1246.7" cy="348.5" rx="1.7" ry="0.8"/>
<polyline points="1280.9,343.7 1281.6,357.1 1283.7,366.7 1284.4,372.5"/>
<ellipse cx="1327.8" cy="315.0" rx="0.9" ry="2.3"/>
<ellipse cx="1326.4" cy="340.9" rx="1.0" ry="6.7"/>
<polyline points="1327.3,308.6 1327.7,311.8"/>
<polyline points="1106.8,351.2 1109.1,355.4"/>
<polyline points="1143.0,350.3 1146.9,352.4"/>
<polyline points="1035.6,350.8 1038.0,353.9"/>
<polyline points="1000.0,340.8 1002.4,342.9"/>
<polyline points="1192.5,358.0 1195.6,360.1"/>
<polyline points="1228.1,359.9 1231.2,362.0"/>
<polyline points="850.9,89.6 854.1,86.4"/>
<polyline points="829.6,92.2 832.7,95.3"/>
<polyline points="871.9,65.1 874.3,63.0"/>
<polyline points="905.0,78.5 908.1,76.4"/>
<polyline points="920.3,95.3 922.7,92.2"/>
</g>
<path d="M854.6,185.7 L859.6,186.6 L864.6,191.1 L868.1,188.6 L870.3,182.8 L866.7,178.0 L861.0,179.9 L854.6,184.7 Z" fill="#808080" stroke="#00007f" stroke-width="1"/>
<path d="M875.3,178.0 L882.4,179.9 L882.4,177.6 L876.0,175.7 Z" fill="#808080" stroke="#00007f" stroke-width="1"/>
<path d="M838.3,197.2 L842.5,198.5 L843.9,195.3 L839.7,193.9 Z" fill="#808080" stroke="#00007f" stroke-width="1"/>
<path d="M942.9,131.5 L943.6,139.7 L945.7,146.4 L950.7,150.3 L955.0,146.4 L956.4,136.8 L957.1,125.4 L955.7,119.6 L954.2,120.6 L953.5,125.4 L945.0,128.2 Z" fill="#808080" stroke="#00007f" stroke-width="1"/>
<path d="M937.9,158.9 L942.1,161.7 L940.7,170.4 L942.9,179.0 L940.7,186.6 L943.6,197.2 L947.1,198.1 L950.7,192.4 L957.1,193.4 L958.5,186.6 L959.2,177.1 L960.7,165.6 L957.1,157.9 L953.5,153.1 L946.4,156.0 Z" fill="#808080" stroke="#00007f" stroke-width="1"/>
<path d="M997.7,217.3 L998.4,212.5 L1004.1,214.4 L1011.2,211.6 L1020.4,214.4 L1029.0,214.4 L1036.1,212.5 L1043.2,210.0 L1038.2,220.2 L1035.4,227.8 L1038.2,234.5 L1036.1,241.2 L1027.5,238.4 L1024.7,233.6 L1013.3,230.7 L1004.8,224.0 L999.8,222.1 Z" fill="#808080" stroke="#00007f" stroke-width="1"/>
<path d="M1155.6,267.1 L1157.0,261.4 L1164.2,262.3 L1171.3,265.2 L1181.2,265.2 L1188.4,267.1 L1195.5,267.1 L1194.1,272.8 L1184.1,273.2 L1174.1,274.4 L1162.7,269.0 L1156.3,269.0 Z" fill="#808080" stroke="#00007f" stroke-width="1"/>
<path d="M1280.9,271.9 L1285.1,278.6 L1290.8,280.5 L1300.8,273.8 L1305.1,270.9 L1313.6,259.4 L1303.6,264.2 L1290.8,266.1 L1289.4,270.0 Z" fill="#808080" stroke="#00007f" stroke-width="1"/>
<path d="M1215.4,251.8 L1219.7,246.0 L1223.2,245.1 L1222.5,251.8 L1216.8,255.6 Z" fill="#808080" stroke="#00007f" stroke-width="1"/>
<path d="M1146.4,199.1 L1152.8,202.9 L1157.0,207.7 L1164.2,212.5 L1171.3,215.4 L1167.0,209.6 L1162.7,202.9 L1154.2,196.2 L1147.8,196.6 Z" fill="#808080" stroke="#00007f" stroke-width="1"/>
<path d="M1189.1,192.4 L1194.1,196.2 L1199.7,195.3 L1196.9,189.5 L1191.2,189.5 Z" fill="#808080" stroke="#00007f" stroke-width="1"/>
<path d="M1189.1,209.6 L1193.3,210.6 L1192.6,203.9 L1189.8,204.8 Z" fill="#808080" stroke="#00007f" stroke-width="1"/>
<path d="M1199.0,221.1 L1205.4,222.1 L1204.0,219.2 Z" fill="#808080" stroke="#00007f" stroke-width="1"/>
<path d="M1110.8,211.6 L1115.8,213.5 L1114.4,206.8 L1112.2,207.7 Z" fill="#808080" stroke="#00007f" stroke-width="1"/>
<path d="M1100.8,181.9 L1107.2,183.8 L1104.4,187.6 L1103.0,184.7 Z" fill="#808080" stroke="#00007f" stroke-width="1"/>
<path d="M1023.3,252.7 L1028.3,256.6 L1026.1,254.7 Z" fill="#808080" stroke="#00007f" stroke-width="1"/>
<path d="M964.9,124.4 L969.9,124.4 L967.8,122.5 Z" fill="#808080" stroke="#00007f" stroke-width="1"/>
<path d="M1182.0,234.5 L1184.8,234.5 L1184.1,230.7 L1182.0,231.7 Z" fill="#808080" stroke="#00007f" stroke-width="1"/>
<path d="M1178.4,234.5 L1180.5,234.5 L1179.8,231.7 Z" fill="#808080" stroke="#00007f" stroke-width="1"/>
<path d="M1172.7,218.3 L1177.0,221.1 L1176.3,216.3 Z" fill="#808080" stroke="#00007f" stroke-width="1"/>
<path d="M1177.7,179.0 L1182.7,180.9 L1182.0,177.1 Z" fill="#808080" stroke="#00007f" stroke-width="1"/>
<path d="M1170.6,165.6 L1174.1,165.6 L1172.7,161.7 Z" fill="#808080" stroke="#00007f" stroke-width="1"/>
<path d="M1206.9,265.2 L1208.3,265.2 L1209.0,257.5 L1207.6,257.5 Z" fill="#808080" stroke="#00007f" stroke-width="1"/>
<path d="M1204.7,238.4 L1210.4,237.4 L1208.3,236.5 Z" fill="#808080" stroke="#00007f" stroke-width="1"/>
<path d="M974.2,297.8 L978.4,295.8 L976.3,293.9 Z" fill="#808080" stroke="#00007f" stroke-width="1"/>
<path d="M1115.1,220.2 L1119.3,220.2 L1117.2,217.3 Z" fill="#808080" stroke="#00007f" stroke-width="1"/>
<path d="M1147.1,250.8 L1149.9,249.9 L1148.5,247.0 Z" fill="#808080" stroke="#00007f" stroke-width="1"/>
<path d="M1191.2,224.0 L1196.2,222.1 L1192.6,222.1 Z" fill="#808080" stroke="#00007f" stroke-width="1"/>
<path d="M1167.7,240.3 L1170.6,240.3 L1169.1,238.8 Z" fill="#808080" stroke="#00007f" stroke-width="1"/>
<path d="M1182.0,247.0 L1183.8,246.4 L1183.0,245.1 Z" fill="#808080" stroke="#00007f" stroke-width="1"/>
<path d="M1168.4,199.1 L1172.0,199.1 L1170.6,197.2 Z" fill="#808080" stroke="#00007f" stroke-width="1"/>
</g>
<rect x="740.0" y="54.6" width="603.4" height="320.8" fill="none" stroke="#a9a9c4" stroke-width="1"/>
<g fill="#00007f">
<rect x="764.3" y="55.1" width="56.9" height="3.4"/>
<rect x="764.3" y="371.5" width="56.9" height="3.4"/>
<rect x="878.1" y="55.1" width="56.9" height="3.4"/>
<rect x="878.1" y="371.5" width="56.9" height="3.4"/>
<rect x="992.0" y="55.1" width="56.9" height="3.4"/>
<rect x="992.0" y="371.5" width="56.9" height="3.4"/>
<rect x="1105.8" y="55.1" width="56.9" height="3.4"/>
<rect x="1105.8" y="371.5" width="56.9" height="3.4"/>
<rect x="1219.7" y="55.1" width="56.9" height="3.4"/>
<rect x="1219.7" y="371.5" width="56.9" height="3.4"/>
<rect x="740.5" y="253.7" width="3.4" height="76.6"/>
<rect x="1339.5" y="253.7" width="3.4" height="76.6"/>
<rect x="740.5" y="100.5" width="3.4" height="76.6"/>
<rect x="1339.5" y="100.5" width="3.4" height="76.6"/>
</g>
<rect x="743.7" y="58.5" width="62.9" height="53.3" fill="#fff"/>
<text x="774.7" y="94.8" text-anchor="middle" font-family="Liberation Sans, sans-serif" font-size="32" fill="#000">(B)</text>
<text x="763.0" y="340.8" font-family="DejaVu Sans, sans-serif" font-weight="200" font-size="31" fill="#f5f53c" textLength="65.1" lengthAdjust="spacingAndGlyphs">AUG</text>
<text x="843.1" y="340.8" font-family="DejaVu Sans, sans-serif" font-weight="200" font-size="31" fill="#f5f53c" textLength="83.9" lengthAdjust="spacingAndGlyphs">2024</text>
<line x1="821.2" y1="58.5" x2="821.2" y2="371.5" stroke="#93aaa0" stroke-width="1" opacity="0.8"/>
<text x="767.8" y="49.5" text-anchor="middle" font-family="DejaVu Sans, sans-serif" font-weight="200" stroke="#1e1e88" stroke-width="0.45" font-size="21" fill="#1e1e88">−4<tspan fill="#3a6fd0" font-weight="400" stroke="#3a6fd0" stroke-width="0.5" font-size="20" dx="-1.5" dy="0.8">°</tspan></text>
<text x="767.8" y="397.0" text-anchor="middle" font-family="DejaVu Sans, sans-serif" font-weight="200" stroke="#1e1e88" stroke-width="0.45" font-size="21" fill="#1e1e88">−4<tspan fill="#3a6fd0" font-weight="400" stroke="#3a6fd0" stroke-width="0.5" font-size="20" dx="-1.5" dy="0.8">°</tspan></text>
<text x="824.7" y="49.5" text-anchor="middle" font-family="DejaVu Sans, sans-serif" font-weight="200" stroke="#1e1e88" stroke-width="0.45" font-size="21" fill="#1e1e88">0<tspan fill="#3a6fd0" font-weight="400" stroke="#3a6fd0" stroke-width="0.5" font-size="20" dx="-1.5" dy="0.8">°</tspan></text>
<text x="824.7" y="397.0" text-anchor="middle" font-family="DejaVu Sans, sans-serif" font-weight="200" stroke="#1e1e88" stroke-width="0.45" font-size="21" fill="#1e1e88">0<tspan fill="#3a6fd0" font-weight="400" stroke="#3a6fd0" stroke-width="0.5" font-size="20" dx="-1.5" dy="0.8">°</tspan></text>
<text x="881.6" y="49.5" text-anchor="middle" font-family="DejaVu Sans, sans-serif" font-weight="200" stroke="#1e1e88" stroke-width="0.45" font-size="21" fill="#1e1e88">4<tspan fill="#3a6fd0" font-weight="400" stroke="#3a6fd0" stroke-width="0.5" font-size="20" dx="-1.5" dy="0.8">°</tspan></text>
<text x="881.6" y="397.0" text-anchor="middle" font-family="DejaVu Sans, sans-serif" font-weight="200" stroke="#1e1e88" stroke-width="0.45" font-size="21" fill="#1e1e88">4<tspan fill="#3a6fd0" font-weight="400" stroke="#3a6fd0" stroke-width="0.5" font-size="20" dx="-1.5" dy="0.8">°</tspan></text>
<text x="938.5" y="49.5" text-anchor="middle" font-family="DejaVu Sans, sans-serif" font-weight="200" stroke="#1e1e88" stroke-width="0.45" font-size="21" fill="#1e1e88">8<tspan fill="#3a6fd0" font-weight="400" stroke="#3a6fd0" stroke-width="0.5" font-size="20" dx="-1.5" dy="0.8">°</tspan></text>
<text x="938.5" y="397.0" text-anchor="middle" font-family="DejaVu Sans, sans-serif" font-weight="200" stroke="#1e1e88" stroke-width="0.45" font-size="21" fill="#1e1e88">8<tspan fill="#3a6fd0" font-weight="400" stroke="#3a6fd0" stroke-width="0.5" font-size="20" dx="-1.5" dy="0.8">°</tspan></text>
<text x="995.5" y="49.5" text-anchor="middle" font-family="DejaVu Sans, sans-serif" font-weight="200" stroke="#1e1e88" stroke-width="0.45" font-size="21" fill="#1e1e88">12<tspan fill="#3a6fd0" font-weight="400" stroke="#3a6fd0" stroke-width="0.5" font-size="20" dx="-1.5" dy="0.8">°</tspan></text>
<text x="995.5" y="397.0" text-anchor="middle" font-family="DejaVu Sans, sans-serif" font-weight="200" stroke="#1e1e88" stroke-width="0.45" font-size="21" fill="#1e1e88">12<tspan fill="#3a6fd0" font-weight="400" stroke="#3a6fd0" stroke-width="0.5" font-size="20" dx="-1.5" dy="0.8">°</tspan></text>
<text x="1052.4" y="49.5" text-anchor="middle" font-family="DejaVu Sans, sans-serif" font-weight="200" stroke="#1e1e88" stroke-width="0.45" font-size="21" fill="#1e1e88">16<tspan fill="#3a6fd0" font-weight="400" stroke="#3a6fd0" stroke-width="0.5" font-size="20" dx="-1.5" dy="0.8">°</tspan></text>
<text x="1052.4" y="397.0" text-anchor="middle" font-family="DejaVu Sans, sans-serif" font-weight="200" stroke="#1e1e88" stroke-width="0.45" font-size="21" fill="#1e1e88">16<tspan fill="#3a6fd0" font-weight="400" stroke="#3a6fd0" stroke-width="0.5" font-size="20" dx="-1.5" dy="0.8">°</tspan></text>
<text x="1109.3" y="49.5" text-anchor="middle" font-family="DejaVu Sans, sans-serif" font-weight="200" stroke="#1e1e88" stroke-width="0.45" font-size="21" fill="#1e1e88">20<tspan fill="#3a6fd0" font-weight="400" stroke="#3a6fd0" stroke-width="0.5" font-size="20" dx="-1.5" dy="0.8">°</tspan></text>
<text x="1109.3" y="397.0" text-anchor="middle" font-family="DejaVu Sans, sans-serif" font-weight="200" stroke="#1e1e88" stroke-width="0.45" font-size="21" fill="#1e1e88">20<tspan fill="#3a6fd0" font-weight="400" stroke="#3a6fd0" stroke-width="0.5" font-size="20" dx="-1.5" dy="0.8">°</tspan></text>
<text x="1166.2" y="49.5" text-anchor="middle" font-family="DejaVu Sans, sans-serif" font-weight="200" stroke="#1e1e88" stroke-width="0.45" font-size="21" fill="#1e1e88">24<tspan fill="#3a6fd0" font-weight="400" stroke="#3a6fd0" stroke-width="0.5" font-size="20" dx="-1.5" dy="0.8">°</tspan></text>
<text x="1166.2" y="397.0" text-anchor="middle" font-family="DejaVu Sans, sans-serif" font-weight="200" stroke="#1e1e88" stroke-width="0.45" font-size="21" fill="#1e1e88">24<tspan fill="#3a6fd0" font-weight="400" stroke="#3a6fd0" stroke-width="0.5" font-size="20" dx="-1.5" dy="0.8">°</tspan></text>
<text x="1223.2" y="49.5" text-anchor="middle" font-family="DejaVu Sans, sans-serif" font-weight="200" stroke="#1e1e88" stroke-width="0.45" font-size="21" fill="#1e1e88">28<tspan fill="#3a6fd0" font-weight="400" stroke="#3a6fd0" stroke-width="0.5" font-size="20" dx="-1.5" dy="0.8">°</tspan></text>
<text x="1223.2" y="397.0" text-anchor="middle" font-family="DejaVu Sans, sans-serif" font-weight="200" stroke="#1e1e88" stroke-width="0.45" font-size="21" fill="#1e1e88">28<tspan fill="#3a6fd0" font-weight="400" stroke="#3a6fd0" stroke-width="0.5" font-size="20" dx="-1.5" dy="0.8">°</tspan></text>
<text x="1280.1" y="49.5" text-anchor="middle" font-family="DejaVu Sans, sans-serif" font-weight="200" stroke="#1e1e88" stroke-width="0.45" font-size="21" fill="#1e1e88">32<tspan fill="#3a6fd0" font-weight="400" stroke="#3a6fd0" stroke-width="0.5" font-size="20" dx="-1.5" dy="0.8">°</tspan></text>
<text x="1280.1" y="397.0" text-anchor="middle" font-family="DejaVu Sans, sans-serif" font-weight="200" stroke="#1e1e88" stroke-width="0.45" font-size="21" fill="#1e1e88">32<tspan fill="#3a6fd0" font-weight="400" stroke="#3a6fd0" stroke-width="0.5" font-size="20" dx="-1.5" dy="0.8">°</tspan></text>
<text transform="translate(735.6 326.8) rotate(-90)" text-anchor="middle" font-family="DejaVu Sans, sans-serif" font-weight="200" stroke="#1e1e88" stroke-width="0.45" font-size="21" fill="#1e1e88">32<tspan fill="#3a6fd0" font-weight="400" stroke="#3a6fd0" stroke-width="0.5" font-size="20" dx="-1.5" dy="0.8">°</tspan></text>
<text transform="translate(1347.0 333.8) rotate(90)" text-anchor="middle" font-family="DejaVu Sans, sans-serif" font-weight="200" stroke="#1e1e88" stroke-width="0.45" font-size="21" fill="#1e1e88">32<tspan fill="#3a6fd0" font-weight="400" stroke="#3a6fd0" stroke-width="0.5" font-size="20" dx="-1.5" dy="0.8">°</tspan></text>
<text transform="translate(735.6 250.2) rotate(-90)" text-anchor="middle" font-family="DejaVu Sans, sans-serif" font-weight="200" stroke="#1e1e88" stroke-width="0.45" font-size="21" fill="#1e1e88">36<tspan fill="#3a6fd0" font-weight="400" stroke="#3a6fd0" stroke-width="0.5" font-size="20" dx="-1.5" dy="0.8">°</tspan></text>
<text transform="translate(1347.0 257.2) rotate(90)" text-anchor="middle" font-family="DejaVu Sans, sans-serif" font-weight="200" stroke="#1e1e88" stroke-width="0.45" font-size="21" fill="#1e1e88">36<tspan fill="#3a6fd0" font-weight="400" stroke="#3a6fd0" stroke-width="0.5" font-size="20" dx="-1.5" dy="0.8">°</tspan></text>
<text transform="translate(735.6 173.6) rotate(-90)" text-anchor="middle" font-family="DejaVu Sans, sans-serif" font-weight="200" stroke="#1e1e88" stroke-width="0.45" font-size="21" fill="#1e1e88">40<tspan fill="#3a6fd0" font-weight="400" stroke="#3a6fd0" stroke-width="0.5" font-size="20" dx="-1.5" dy="0.8">°</tspan></text>
<text transform="translate(1347.0 180.6) rotate(90)" text-anchor="middle" font-family="DejaVu Sans, sans-serif" font-weight="200" stroke="#1e1e88" stroke-width="0.45" font-size="21" fill="#1e1e88">40<tspan fill="#3a6fd0" font-weight="400" stroke="#3a6fd0" stroke-width="0.5" font-size="20" dx="-1.5" dy="0.8">°</tspan></text>
<text transform="translate(735.6 97.0) rotate(-90)" text-anchor="middle" font-family="DejaVu Sans, sans-serif" font-weight="200" stroke="#1e1e88" stroke-width="0.45" font-size="21" fill="#1e1e88">44<tspan fill="#3a6fd0" font-weight="400" stroke="#3a6fd0" stroke-width="0.5" font-size="20" dx="-1.5" dy="0.8">°</tspan></text>
<text transform="translate(1347.0 104.0) rotate(90)" text-anchor="middle" font-family="DejaVu Sans, sans-serif" font-weight="200" stroke="#1e1e88" stroke-width="0.45" font-size="21" fill="#1e1e88">44<tspan fill="#3a6fd0" font-weight="400" stroke="#3a6fd0" stroke-width="0.5" font-size="20" dx="-1.5" dy="0.8">°</tspan></text>
<text x="972.2" y="27.0" font-family="Liberation Sans, sans-serif" font-size="26" fill="#000">Longitude</text>
<text transform="translate(701.8 226.6) rotate(-90)" text-anchor="middle" font-family="Liberation Sans, sans-serif" font-size="26.6" fill="#000">Latitude</text>
<defs><clipPath id="clipC"><rect x="57.1" y="541.4" width="592.6" height="312.4"/></clipPath><clipPath id="seaC"><path d="M41.9,730.5 L54.7,730.5 L58.2,729.5 L61.1,728.2 L64.6,726.7 L71.7,722.5 L77.3,722.1 L84.4,722.5 L91.5,721.9 L97.2,722.5 L100.7,720.4 L104.3,722.3 L106.4,718.1 L109.9,711.4 L115.6,706.6 L120.5,705.6 L124.1,704.7 L123.4,698.9 L126.2,693.2 L130.4,688.4 L135.4,685.6 L137.2,683.6 L133.3,679.8 L130.4,673.1 L129.3,669.3 L131.9,662.6 L135.4,656.9 L140.4,651.1 L146.7,646.4 L145.3,643.5 L149.6,639.7 L156.6,636.8 L164.4,633.9 L170.8,629.2 L178.6,624.4 L179.3,619.6 L180.7,615.8 L177.2,611.9 L177.2,604.3 L180.7,597.6 L186.4,594.4 L192.0,591.9 L199.1,595.1 L203.4,594.7 L209.0,596.7 L213.3,598.9 L218.2,600.5 L223.9,600.5 L228.9,597.6 L232.4,592.8 L237.4,589.0 L241.6,587.5 L247.3,585.6 L252.9,579.4 L260.0,575.2 L267.1,577.9 L273.5,581.7 L278.4,585.2 L279.8,591.9 L282.7,598.6 L282.7,603.3 L286.2,606.2 L291.2,611.0 L296.8,614.8 L301.1,619.6 L307.5,626.9 L312.4,632.0 L318.8,635.8 L326.6,635.8 L330.8,639.7 L332.9,644.4 L336.5,643.9 L338.6,647.3 L337.2,648.3 L342.9,647.3 L346.4,652.1 L345.7,655.9 L350.6,659.2 L355.6,658.8 L357.7,665.5 L361.3,672.2 L363.4,679.8 L360.6,683.6 L358.4,685.6 L359.8,688.4 L355.6,694.2 L355.6,698.9 L361.3,699.5 L367.6,691.3 L369.0,682.7 L376.8,679.8 L376.1,671.2 L367.6,665.5 L368.3,658.8 L373.3,652.1 L377.5,651.1 L382.5,654.4 L388.2,657.8 L393.8,663.6 L396.0,657.8 L395.2,654.0 L388.9,647.3 L380.4,642.5 L372.6,637.8 L363.4,633.0 L359.8,629.2 L362.7,623.4 L356.3,622.8 L348.5,622.8 L342.1,619.6 L335.8,612.9 L330.1,604.3 L326.6,592.8 L320.9,588.0 L312.4,581.4 L308.2,573.7 L311.0,566.1 L308.2,560.3 L312.4,554.6 L319.5,550.8 L328.0,550.8 L326.6,555.5 L325.2,560.3 L328.0,566.1 L332.2,564.2 L336.5,558.4 L340.0,559.4 L345.0,568.0 L351.3,577.5 L354.9,583.3 L359.8,590.9 L366.2,592.8 L373.3,594.7 L380.4,601.4 L386.0,604.3 L390.3,609.1 L396.0,612.9 L399.5,615.8 L403.0,619.6 L408.7,624.4 L411.5,628.2 L409.4,634.9 L409.4,642.5 L408.0,648.3 L409.4,653.1 L414.4,659.7 L417.9,665.5 L420.7,670.3 L425.0,675.0 L427.1,677.9 L427.8,682.7 L430.6,686.5 L432.8,690.3 L436.3,691.3 L442.0,691.7 L446.9,690.7 L452.6,690.7 L457.5,694.2 L461.8,697.6 L459.0,699.5 L454.0,697.0 L448.3,695.1 L443.4,692.8 L440.6,694.5 L437.0,695.1 L433.5,699.5 L436.3,703.7 L439.8,713.3 L441.3,720.0 L444.8,720.9 L446.9,716.1 L450.5,724.7 L452.6,728.2 L454.7,720.9 L457.5,722.8 L459.7,727.6 L462.5,727.6 L460.4,719.0 L456.1,707.5 L461.8,711.4 L466.8,708.5 L465.3,702.8 L469.6,698.9 L474.5,704.7 L478.1,698.0 L481.6,697.0 L476.0,686.5 L465.3,678.9 L459.7,677.0 L459.0,671.2 L464.6,675.0 L458.3,665.5 L453.3,659.7 L454.7,650.2 L459.0,648.3 L458.3,651.1 L463.9,655.0 L465.3,660.7 L470.3,661.1 L466.8,655.0 L470.3,655.9 L473.1,660.7 L474.5,655.9 L473.1,654.0 L475.2,655.0 L479.5,656.9 L478.1,654.0 L473.1,650.2 L471.0,645.4 L480.2,642.5 L489.4,641.6 L500.7,643.5 L503.6,648.3 L505.7,653.1 L512.1,651.1 L520.6,647.3 L530.5,640.6 L539.0,639.7 L545.3,639.7 L548.9,644.4 L544.6,647.3 L539.0,652.1 L527.6,653.1 L523.4,651.1 L512.1,655.0 L505.7,658.8 L504.3,669.3 L514.9,669.3 L512.1,677.0 L515.6,682.7 L514.2,689.4 L507.8,689.4 L507.1,693.2 L514.9,696.1 L519.9,700.9 L519.9,710.4 L524.1,718.1 L531.9,720.9 L524.8,723.8 L534.7,721.9 L539.0,721.9 L546.0,724.7 L553.1,732.4 L561.6,730.5 L565.9,727.6 L566.6,720.0 L572.2,720.0 L580.0,721.9 L587.1,725.7 L594.2,733.4 L599.1,735.3 L609.8,733.4 L616.1,730.5 L620.4,722.8 L626.1,720.9 L633.8,724.7 L638.8,724.7 L644.5,718.1 L646.6,724.7 L641.6,730.5 L643.0,738.1 L641.6,746.7 L642.3,755.3 L643.0,762.0 L638.8,768.7 L636.7,776.4 L633.8,785.0 L631.0,792.6 L628.9,797.4 L627.5,805.0 L625.3,813.7 L621.8,821.3 L618.3,826.1 L612.6,828.9 L605.5,829.9 L597.0,830.9 L591.4,827.0 L585.7,822.3 L580.0,821.3 L573.0,821.3 L564.5,822.3 L559.5,826.1 L554.5,829.9 L547.5,833.7 L539.0,832.8 L529.1,829.9 L520.6,825.1 L509.2,822.3 L499.3,820.3 L490.1,820.3 L485.9,813.7 L475.2,812.7 L466.8,808.9 L461.1,801.2 L454.0,797.4 L448.3,795.5 L438.4,795.5 L429.9,800.3 L421.4,806.0 L417.9,812.7 L418.6,824.2 L415.1,832.8 L408.7,841.4 L401.6,843.3 L393.1,838.5 L383.2,832.8 L371.9,828.0 L363.4,826.1 L354.9,820.3 L349.9,808.9 L340.7,803.1 L329.4,797.4 L320.9,795.5 L311.0,797.4 L302.5,792.6 L295.4,789.8 L291.2,787.8 L288.3,782.1 L283.4,781.1 L277.0,777.3 L276.3,770.6 L282.0,763.9 L286.9,758.2 L291.2,751.5 L288.3,744.8 L284.1,739.1 L282.7,732.4 L287.6,727.6 L291.2,719.0 L287.6,717.1 L282.7,721.9 L279.1,720.0 L279.1,714.2 L273.5,711.4 L265.7,712.3 L258.6,717.1 L255.8,718.1 L244.4,718.1 L237.4,716.1 L226.0,719.0 L221.8,716.1 L211.9,720.9 L205.5,722.8 L197.7,719.0 L189.2,719.0 L179.3,721.3 L173.6,722.8 L166.6,724.7 L155.2,726.7 L146.7,731.4 L138.2,738.1 L131.2,740.0 L125.5,741.0 L119.8,743.9 L114.2,749.6 L107.1,753.4 L101.4,753.4 L95.8,753.4 L92.2,749.6 L87.3,751.5 L78.8,750.6 L71.7,752.5 L66.0,749.6 L61.1,747.3 L58.9,745.8 L56.8,744.8 L54.7,744.8 L41.9,744.8 Z"/></clipPath><filter id="blC" x="37" y="521" width="633" height="352" filterUnits="userSpaceOnUse"><feGaussianBlur stdDeviation="5"/></filter><filter id="bqC" x="37" y="521" width="633" height="352" filterUnits="userSpaceOnUse"><feGaussianBlur stdDeviation="2.2"/></filter><filter id="bsC" x="37" y="521" width="633" height="352" filterUnits="userSpaceOnUse"><feGaussianBlur stdDeviation="2"/></filter></defs>
<g clip-path="url(#clipC)">
<rect x="57.1" y="541.4" width="592.6" height="312.4" fill="#808080"/>
<path d="M567.3,535.5 L567.3,539.3 L561.6,548.9 L554.5,556.5 L554.5,562.2 L544.6,568.9 L540.4,577.5 L539.0,587.1 L529.8,598.6 L529.1,608.1 L524.8,613.9 L527.6,621.5 L530.5,629.2 L539.0,634.9 L546.0,636.8 L557.4,637.8 L565.9,636.8 L578.6,634.9 L591.4,627.2 L601.3,623.4 L615.4,621.5 L631.0,621.5 L636.7,628.2 L645.2,629.2 L649.4,634.9 L657.9,636.8 L665.0,535.5 Z" fill="#69b4fa" stroke="#00007f" stroke-width="1"/>
<path d="M594.2,556.5 L595.6,552.7 L604.1,546.9 L611.2,545.0 L618.3,541.2 L623.9,533.6 L633.8,533.6 L632.4,541.2 L635.3,552.7 L643.8,555.5 L652.2,555.5 L653.0,558.4 L649.4,560.3 L642.3,563.2 L635.3,563.2 L628.9,567.0 L621.1,570.5 L617.6,574.7 L611.2,575.6 L606.9,573.7 L609.1,568.0 L609.1,563.2 L605.5,560.3 L599.9,557.5 Z" fill="#808080" stroke="#00007f" stroke-width="1"/>
<g clip-path="url(#seaC)">
<rect x="57.1" y="541.4" width="592.6" height="312.4" fill="#69b4fa"/>
<g filter="url(#blC)">
<ellipse cx="70.3" cy="740.0" rx="11.3" ry="9.6" fill="#9cf0c8" fill-opacity="0.6"/>
<ellipse cx="108.5" cy="738.1" rx="11.3" ry="9.6" fill="#9cf0c8" fill-opacity="0.5"/>
<ellipse cx="148.1" cy="711.4" rx="14.2" ry="7.6" fill="#8ae8f2" fill-opacity="0.6"/>
<ellipse cx="190.6" cy="678.9" rx="11.3" ry="9.6" fill="#8ae8f2" fill-opacity="0.5"/>
<ellipse cx="254.4" cy="701.8" rx="8.5" ry="11.5" fill="#8ae8f2" fill-opacity="0.5"/>
<ellipse cx="311.0" cy="663.6" rx="9.9" ry="5.7" fill="#8ae8f2" fill-opacity="0.5"/>
<ellipse cx="417.2" cy="736.2" rx="14.2" ry="9.6" fill="#8ae8f2" fill-opacity="0.5"/>
<ellipse cx="374.7" cy="755.3" rx="11.3" ry="7.6" fill="#8ae8f2" fill-opacity="0.4"/>
<ellipse cx="499.3" cy="774.5" rx="4.2" ry="15.3" fill="#8ae8f2" fill-opacity="0.6"/>
<ellipse cx="544.6" cy="778.3" rx="14.2" ry="5.7" fill="#8ae8f2" fill-opacity="0.5"/>
<ellipse cx="509.2" cy="745.8" rx="8.5" ry="9.6" fill="#8ae8f2" fill-opacity="0.4"/>
<ellipse cx="346.4" cy="784.0" rx="11.3" ry="7.6" fill="#8ae8f2" fill-opacity="0.5"/>
</g>
<g filter="url(#bqC)" fill="none" stroke-linecap="round" stroke-linejoin="round">
<path d="M242.4,651.6 L238.2,644.7 Q233.9,637.8 230.5,631.4 Q227.0,625.0 227.9,618.5 Q228.9,611.9 234.2,607.8 L239.5,603.6" stroke="#7fe0f8" stroke-opacity="0.55" stroke-width="6.7"/>
<path d="M204.1,686.8 L201.0,690.0 Q197.8,693.1 194.7,696.7 Q191.6,700.2 186.4,700.9 Q181.1,701.6 177.3,696.4 L173.5,691.1" stroke="#8aeef6" stroke-opacity="0.7" stroke-width="5.6"/>
<path d="M193.3,668.1 L192.1,674.4 Q190.9,680.8 190.1,689.6 Q189.3,698.4 184.7,701.4 L180.2,704.5" stroke="#8aeef6" stroke-opacity="0.55" stroke-width="6.4"/>
<path d="M160.8,711.7 L155.4,704.8 Q150.1,697.9 145.9,697.4 Q141.7,696.9 135.7,690.9 L129.8,685.0" stroke="#b8f2a0" stroke-opacity="0.55" stroke-width="5.7"/>
<ellipse cx="179.3" cy="673.8" rx="9.5" ry="11.1" stroke="#7fe0f8" stroke-opacity="0.55" stroke-width="5.1"/>
<ellipse cx="256.3" cy="659.1" rx="7.1" ry="7.2" stroke="#8aeef6" stroke-opacity="0.7" stroke-width="4.6"/>
<path d="M145.0,674.3 L143.7,668.0 Q142.4,661.6 142.6,655.2 Q142.8,648.8 139.1,646.5 Q135.4,644.2 127.4,646.6 L119.3,649.1" stroke="#7fe0f8" stroke-opacity="0.55" stroke-width="6.0"/>
<path d="M149.7,686.9 L144.8,686.3 Q140.0,685.7 135.8,684.6 L131.7,683.5" stroke="#8aeef6" stroke-opacity="0.7" stroke-width="6.0"/>
<ellipse cx="174.5" cy="711.4" rx="9.3" ry="8.9" stroke="#9af4e0" stroke-opacity="0.65" stroke-width="5.2"/>
<path d="M184.0,643.8 L179.2,642.5 Q174.5,641.3 168.4,646.5 Q162.3,651.7 157.3,652.3 L152.3,653.0" stroke="#b8f2a0" stroke-opacity="0.55" stroke-width="6.3"/>
<path d="M147.7,644.4 L143.2,642.7 Q138.8,641.0 133.7,639.2 Q128.7,637.4 122.9,638.7 L117.1,640.1" stroke="#b8f2a0" stroke-opacity="0.55" stroke-width="5.6"/>
<path d="M98.0,736.7 L102.8,741.5 Q107.7,746.3 114.6,746.1 L121.4,745.8" stroke="#b8f2a0" stroke-opacity="0.55" stroke-width="5.2"/>
<path d="M116.2,747.9 L120.0,743.2 Q123.9,738.4 126.4,734.0 L129.0,729.6" stroke="#8aeef6" stroke-opacity="0.55" stroke-width="5.4"/>
<path d="M132.6,733.3 L126.5,739.2 Q120.4,745.0 115.9,748.9 L111.4,752.8" stroke="#7fe0f8" stroke-opacity="0.55" stroke-width="5.3"/>
<path d="M270.2,639.8 L266.5,642.7 Q262.9,645.7 257.9,649.0 Q253.0,652.2 245.6,648.3 L238.2,644.4" stroke="#8aeef6" stroke-opacity="0.6" stroke-width="6.3"/>
<path d="M330.3,618.4 L332.7,624.4 Q335.1,630.4 341.9,634.6 L348.8,638.9" stroke="#8aeef6" stroke-opacity="0.6" stroke-width="5.9"/>
<ellipse cx="298.0" cy="687.5" rx="6.2" ry="6.3" stroke="#84e4f8" stroke-opacity="0.5" stroke-width="5.0"/>
<path d="M325.2,658.7 L319.3,661.6 Q313.3,664.6 307.6,667.7 Q301.8,670.8 297.2,671.1 L292.6,671.3" stroke="#84e4f8" stroke-opacity="0.5" stroke-width="4.6"/>
<path d="M395.7,742.2 L396.9,737.1 Q398.1,732.0 398.2,725.1 L398.2,718.1" stroke="#8aeef6" stroke-opacity="0.7" stroke-width="6.4"/>
<path d="M411.8,762.0 L412.3,754.5 Q412.7,747.0 408.5,740.4 Q404.3,733.8 404.5,728.2 Q404.8,722.6 409.9,715.8 L415.0,708.9" stroke="#9af4e0" stroke-opacity="0.65" stroke-width="5.0"/>
<path d="M395.6,716.7 L397.7,721.2 Q399.8,725.8 403.0,733.9 Q406.2,742.1 411.5,744.8 L416.8,747.5" stroke="#8aeef6" stroke-opacity="0.55" stroke-width="5.8"/>
<path d="M417.4,716.1 L417.7,708.7 Q418.0,701.4 416.2,695.9 L414.3,690.3" stroke="#9af4e0" stroke-opacity="0.65" stroke-width="5.4"/>
<path d="M348.3,797.1 L352.7,799.3 Q357.1,801.4 358.2,808.8 Q359.2,816.2 359.5,823.7 L359.7,831.1" stroke="#b8f2a0" stroke-opacity="0.55" stroke-width="6.1"/>
<ellipse cx="441.4" cy="734.2" rx="8.4" ry="8.9" stroke="#9af4e0" stroke-opacity="0.65" stroke-width="4.5"/>
<ellipse cx="399.4" cy="808.5" rx="10.1" ry="13.2" stroke="#7fe0f8" stroke-opacity="0.55" stroke-width="6.4"/>
<path d="M407.3,725.9 L402.4,733.0 Q397.4,740.1 396.7,745.2 L395.9,750.4" stroke="#b8f2a0" stroke-opacity="0.55" stroke-width="5.6"/>
<path d="M383.7,747.4 L385.2,754.8 Q386.7,762.3 383.6,769.4 Q380.6,776.6 382.4,783.9 L384.2,791.1" stroke="#8aeef6" stroke-opacity="0.7" stroke-width="6.3"/>
<ellipse cx="370.4" cy="767.9" rx="7.4" ry="11.9" stroke="#8aeef6" stroke-opacity="0.55" stroke-width="6.4"/>
<path d="M436.6,714.5 L442.5,713.4 Q448.5,712.3 456.2,715.1 Q464.0,717.9 468.6,724.8 L473.3,731.7" stroke="#9af4e0" stroke-opacity="0.65" stroke-width="5.6"/>
<path d="M363.5,774.3 L360.3,766.3 Q357.1,758.3 354.0,751.4 L350.8,744.4" stroke="#8aeef6" stroke-opacity="0.7" stroke-width="5.6"/>
<path d="M403.8,733.7 L398.9,727.7 Q394.0,721.8 388.4,718.2 Q382.9,714.7 376.4,716.2 Q369.9,717.8 364.2,716.6 L358.4,715.3" stroke="#7fe0f8" stroke-opacity="0.55" stroke-width="6.6"/>
<path d="M367.0,715.1 L361.1,716.0 Q355.2,717.0 351.9,714.0 Q348.7,711.0 345.0,705.2 Q341.3,699.4 344.5,691.3 L347.7,683.2" stroke="#b8f2a0" stroke-opacity="0.55" stroke-width="5.9"/>
<ellipse cx="298.4" cy="788.2" rx="10.9" ry="13.7" stroke="#b8f2a0" stroke-opacity="0.55" stroke-width="6.3"/>
<ellipse cx="308.8" cy="766.4" rx="8.1" ry="12.1" stroke="#7fe0f8" stroke-opacity="0.55" stroke-width="6.3"/>
<path d="M326.9,787.3 L333.0,792.2 Q339.1,797.0 338.6,802.4 Q338.0,807.9 333.4,813.7 L328.7,819.6" stroke="#7fe0f8" stroke-opacity="0.55" stroke-width="5.3"/>
<path d="M307.1,765.0 L301.9,770.6 Q296.8,776.1 294.1,784.3 Q291.5,792.4 284.6,793.8 Q277.8,795.1 273.5,800.9 L269.3,806.7" stroke="#9af4e0" stroke-opacity="0.65" stroke-width="5.8"/>
<path d="M572.1,778.7 L564.7,779.6 Q557.4,780.5 551.7,786.8 L546.1,793.0" stroke="#b8f2a0" stroke-opacity="0.55" stroke-width="5.3"/>
<path d="M622.1,806.2 L626.9,803.9 Q631.7,801.6 635.0,797.1 L638.2,792.5" stroke="#9af4e0" stroke-opacity="0.65" stroke-width="4.7"/>
<ellipse cx="553.2" cy="764.3" rx="9.2" ry="13.7" stroke="#7fe0f8" stroke-opacity="0.55" stroke-width="4.7"/>
<path d="M580.8,747.3 L583.8,742.1 Q586.7,736.8 582.7,729.6 Q578.6,722.5 572.7,720.1 Q566.8,717.7 565.6,709.7 L564.4,701.8" stroke="#b8f2a0" stroke-opacity="0.55" stroke-width="6.0"/>
<ellipse cx="540.9" cy="806.7" rx="6.6" ry="7.0" stroke="#b8f2a0" stroke-opacity="0.55" stroke-width="5.1"/>
<path d="M560.4,811.2 L566.6,810.5 Q572.8,809.8 578.9,808.9 L584.9,807.9" stroke="#8aeef6" stroke-opacity="0.7" stroke-width="6.0"/>
<ellipse cx="571.2" cy="818.9" rx="8.0" ry="9.5" stroke="#8aeef6" stroke-opacity="0.7" stroke-width="5.2"/>
<path d="M565.4,814.5 L558.9,811.1 Q552.3,807.7 545.8,810.3 L539.3,812.9" stroke="#8aeef6" stroke-opacity="0.55" stroke-width="5.5"/>
<path d="M483.4,774.2 L489.5,778.6 Q495.7,783.1 503.4,782.9 Q511.1,782.7 519.0,784.3 L527.0,785.9" stroke="#b8f2a0" stroke-opacity="0.55" stroke-width="6.7"/>
<path d="M597.6,759.3 L600.2,764.6 Q602.7,769.9 599.7,777.9 L596.6,785.9" stroke="#9af4e0" stroke-opacity="0.65" stroke-width="7.0"/>
<path d="M455.3,799.8 L451.3,794.1 Q447.2,788.4 443.2,783.7 L439.3,778.9" stroke="#b8f2a0" stroke-opacity="0.55" stroke-width="7.0"/>
<path d="M584.5,759.6 L588.5,763.4 Q592.4,767.1 596.7,772.3 Q600.9,777.4 607.7,779.4 Q614.4,781.4 615.6,787.0 L616.8,792.7" stroke="#8aeef6" stroke-opacity="0.55" stroke-width="5.2"/>
<path d="M554.6,780.5 L548.8,786.0 Q543.1,791.6 536.5,790.1 L529.8,788.7" stroke="#9af4e0" stroke-opacity="0.65" stroke-width="6.4"/>
<path d="M522.1,745.1 L528.9,745.8 Q535.6,746.5 541.8,748.2 Q547.9,749.9 552.4,754.1 L556.8,758.4" stroke="#8aeef6" stroke-opacity="0.7" stroke-width="5.3"/>
<path d="M502.2,768.4 L499.2,765.0 Q496.2,761.5 489.6,760.0 Q483.0,758.4 477.0,758.9 Q471.1,759.4 467.1,761.7 L463.2,763.9" stroke="#b8f2a0" stroke-opacity="0.55" stroke-width="5.3"/>
<path d="M455.5,741.0 L461.4,738.9 Q467.4,736.9 468.6,731.3 L469.8,725.7" stroke="#7fe0f8" stroke-opacity="0.55" stroke-width="5.8"/>
<ellipse cx="474.1" cy="743.3" rx="9.7" ry="9.5" stroke="#7fe0f8" stroke-opacity="0.55" stroke-width="5.3"/>
<path d="M485.9,818.0 L491.9,818.0 Q497.9,818.1 504.7,816.5 Q511.5,815.0 516.3,811.4 L521.0,807.8" stroke="#8aeef6" stroke-opacity="0.7" stroke-width="6.4"/>
<ellipse cx="634.4" cy="761.9" rx="6.3" ry="9.8" stroke="#8aeef6" stroke-opacity="0.55" stroke-width="6.1"/>
<path d="M613.3,799.7 L613.6,807.2 Q614.0,814.6 616.8,819.1 Q619.7,823.6 620.1,832.7 Q620.5,841.8 627.1,846.7 L633.7,851.6" stroke="#b8f2a0" stroke-opacity="0.55" stroke-width="4.6"/>
<ellipse cx="460.2" cy="716.4" rx="5.9" ry="6.4" stroke="#8aeef6" stroke-opacity="0.6" stroke-width="5.1"/>
<ellipse cx="511.4" cy="723.9" rx="11.2" ry="14.3" stroke="#8aeef6" stroke-opacity="0.6" stroke-width="5.2"/>
<path d="M479.1,679.3 L486.4,676.4 Q493.7,673.5 497.1,666.3 L500.6,659.1" stroke="#84e4f8" stroke-opacity="0.5" stroke-width="5.6"/>
<ellipse cx="351.2" cy="629.1" rx="10.4" ry="14.0" stroke="#84e4f8" stroke-opacity="0.5" stroke-width="5.1"/>
<ellipse cx="354.4" cy="612.4" rx="10.6" ry="10.6" stroke="#8aeef6" stroke-opacity="0.6" stroke-width="4.7"/>
</g>
<g filter="url(#bsC)">
<ellipse cx="171.4" cy="699.3" rx="11.0" ry="14.1" fill="none" stroke="#f0e840" stroke-width="11" stroke-opacity="1.0"/>
<ellipse cx="171.4" cy="699.3" rx="9.6" ry="11.9" fill="none" stroke="#d81808" stroke-width="6" stroke-opacity="0.95"/>
<ellipse cx="171.4" cy="699.3" rx="3.5" ry="4.8" fill="#8ae8f2" fill-opacity="0.9"/>
<ellipse cx="205.8" cy="696.8" rx="5.9" ry="14.3" fill="none" stroke="#f0e840" stroke-width="8" stroke-opacity="1.0"/>
<ellipse cx="205.8" cy="696.8" rx="4.8" ry="12.6" fill="none" stroke="#d82010" stroke-width="4" stroke-opacity="0.85"/>
<ellipse cx="230.8" cy="694.3" rx="10.6" ry="13.8" fill="none" stroke="#f0e840" stroke-width="11" stroke-opacity="1.0"/>
<ellipse cx="230.8" cy="694.3" rx="9.1" ry="11.5" fill="none" stroke="#d81808" stroke-width="6" stroke-opacity="0.95"/>
<ellipse cx="230.8" cy="694.3" rx="3.1" ry="4.2" fill="#8ae8f2" fill-opacity="0.9"/>
<ellipse cx="190.6" cy="675.0" rx="2.8" ry="11.5" fill="none" stroke="#f0e840" stroke-width="4" stroke-opacity="0.7"/>
<ellipse cx="142.5" cy="705.6" rx="8.5" ry="7.6" fill="none" stroke="#8ae8f2" stroke-width="4" stroke-opacity="0.7"/>
<ellipse cx="251.5" cy="698.0" rx="4.2" ry="9.6" fill="none" stroke="#8ae8f2" stroke-width="3" stroke-opacity="0.6"/>
<ellipse cx="70.3" cy="741.0" rx="7.1" ry="6.7" fill="none" stroke="#d8f070" stroke-width="4" stroke-opacity="0.6"/>
<ellipse cx="108.5" cy="738.1" rx="7.1" ry="6.7" fill="none" stroke="#d8f070" stroke-width="4" stroke-opacity="0.5"/>
<ellipse cx="450.2" cy="774.6" rx="7.8" ry="9.6" fill="none" stroke="#f0e040" stroke-width="7" stroke-opacity="1.0"/>
<ellipse cx="450.2" cy="774.6" rx="7.1" ry="8.6" fill="none" stroke="#e04010" stroke-width="3" stroke-opacity="0.6"/>
<ellipse cx="400.8" cy="814.0" rx="7.1" ry="8.6" fill="none" stroke="#e0ea50" stroke-width="6" stroke-opacity="0.9"/>
<ellipse cx="546.9" cy="816.3" rx="7.1" ry="8.6" fill="none" stroke="#f0e840" stroke-width="6" stroke-opacity="0.95"/>
<ellipse cx="580.6" cy="734.3" rx="5.7" ry="6.7" fill="none" stroke="#d8f070" stroke-width="5" stroke-opacity="0.8"/>
<ellipse cx="439.0" cy="747.9" rx="5.0" ry="6.7" fill="none" stroke="#b8f090" stroke-width="5" stroke-opacity="0.7"/>
<ellipse cx="383.9" cy="745.8" rx="5.7" ry="7.6" fill="none" stroke="#c8f080" stroke-width="4" stroke-opacity="0.7"/>
<ellipse cx="592.8" cy="779.2" rx="11.3" ry="3.8" fill="none" stroke="#e8e850" stroke-width="5" stroke-opacity="0.8" transform="rotate(25 592.8 779.2)"/>
<ellipse cx="614.0" cy="807.0" rx="5.7" ry="7.6" fill="none" stroke="#8ae8f2" stroke-width="4" stroke-opacity="0.7"/>
<ellipse cx="500.7" cy="765.9" rx="2.1" ry="9.6" fill="none" stroke="#e0ea60" stroke-width="4" stroke-opacity="0.7"/>
<ellipse cx="476.7" cy="799.3" rx="5.7" ry="3.8" fill="none" stroke="#8ae8f2" stroke-width="4" stroke-opacity="0.7"/>
<ellipse cx="516.3" cy="787.8" rx="7.1" ry="5.7" fill="none" stroke="#8ae8f2" stroke-width="4" stroke-opacity="0.6"/>
<ellipse cx="421.4" cy="797.4" rx="7.1" ry="5.7" fill="none" stroke="#8ae8f2" stroke-width="4" stroke-opacity="0.6"/>
<ellipse cx="360.6" cy="793.6" rx="7.1" ry="7.6" fill="none" stroke="#8ae8f2" stroke-width="4" stroke-opacity="0.6"/>
<ellipse cx="565.9" cy="787.8" rx="5.7" ry="5.7" fill="none" stroke="#8ae8f2" stroke-width="4" stroke-opacity="0.6"/>
</g>
</g>
<path d="M41.9,730.5 L54.7,730.5 L58.2,729.5 L61.1,728.2 L64.6,726.7 L71.7,722.5 L77.3,722.1 L84.4,722.5 L91.5,721.9 L97.2,722.5 L100.7,720.4 L104.3,722.3 L106.4,718.1 L109.9,711.4 L115.6,706.6 L120.5,705.6 L124.1,704.7 L123.4,698.9 L126.2,693.2 L130.4,688.4 L135.4,685.6 L137.2,683.6 L133.3,679.8 L130.4,673.1 L129.3,669.3 L131.9,662.6 L135.4,656.9 L140.4,651.1 L146.7,646.4 L145.3,643.5 L149.6,639.7 L156.6,636.8 L164.4,633.9 L170.8,629.2 L178.6,624.4 L179.3,619.6 L180.7,615.8 L177.2,611.9 L177.2,604.3 L180.7,597.6 L186.4,594.4 L192.0,591.9 L199.1,595.1 L203.4,594.7 L209.0,596.7 L213.3,598.9 L218.2,600.5 L223.9,600.5 L228.9,597.6 L232.4,592.8 L237.4,589.0 L241.6,587.5 L247.3,585.6 L252.9,579.4 L260.0,575.2 L267.1,577.9 L273.5,581.7 L278.4,585.2 L279.8,591.9 L282.7,598.6 L282.7,603.3 L286.2,606.2 L291.2,611.0 L296.8,614.8 L301.1,619.6 L307.5,626.9 L312.4,632.0 L318.8,635.8 L326.6,635.8 L330.8,639.7 L332.9,644.4 L336.5,643.9 L338.6,647.3 L337.2,648.3 L342.9,647.3 L346.4,652.1 L345.7,655.9 L350.6,659.2 L355.6,658.8 L357.7,665.5 L361.3,672.2 L363.4,679.8 L360.6,683.6 L358.4,685.6 L359.8,688.4 L355.6,694.2 L355.6,698.9 L361.3,699.5 L367.6,691.3 L369.0,682.7 L376.8,679.8 L376.1,671.2 L367.6,665.5 L368.3,658.8 L373.3,652.1 L377.5,651.1 L382.5,654.4 L388.2,657.8 L393.8,663.6 L396.0,657.8 L395.2,654.0 L388.9,647.3 L380.4,642.5 L372.6,637.8 L363.4,633.0 L359.8,629.2 L362.7,623.4 L356.3,622.8 L348.5,622.8 L342.1,619.6 L335.8,612.9 L330.1,604.3 L326.6,592.8 L320.9,588.0 L312.4,581.4 L308.2,573.7 L311.0,566.1 L308.2,560.3 L312.4,554.6 L319.5,550.8 L328.0,550.8 L326.6,555.5 L325.2,560.3 L328.0,566.1 L332.2,564.2 L336.5,558.4 L340.0,559.4 L345.0,568.0 L351.3,577.5 L354.9,583.3 L359.8,590.9 L366.2,592.8 L373.3,594.7 L380.4,601.4 L386.0,604.3 L390.3,609.1 L396.0,612.9 L399.5,615.8 L403.0,619.6 L408.7,624.4 L411.5,628.2 L409.4,634.9 L409.4,642.5 L408.0,648.3 L409.4,653.1 L414.4,659.7 L417.9,665.5 L420.7,670.3 L425.0,675.0 L427.1,677.9 L427.8,682.7 L430.6,686.5 L432.8,690.3 L436.3,691.3 L442.0,691.7 L446.9,690.7 L452.6,690.7 L457.5,694.2 L461.8,697.6 L459.0,699.5 L454.0,697.0 L448.3,695.1 L443.4,692.8 L440.6,694.5 L437.0,695.1 L433.5,699.5 L436.3,703.7 L439.8,713.3 L441.3,720.0 L444.8,720.9 L446.9,716.1 L450.5,724.7 L452.6,728.2 L454.7,720.9 L457.5,722.8 L459.7,727.6 L462.5,727.6 L460.4,719.0 L456.1,707.5 L461.8,711.4 L466.8,708.5 L465.3,702.8 L469.6,698.9 L474.5,704.7 L478.1,698.0 L481.6,697.0 L476.0,686.5 L465.3,678.9 L459.7,677.0 L459.0,671.2 L464.6,675.0 L458.3,665.5 L453.3,659.7 L454.7,650.2 L459.0,648.3 L458.3,651.1 L463.9,655.0 L465.3,660.7 L470.3,661.1 L466.8,655.0 L470.3,655.9 L473.1,660.7 L474.5,655.9 L473.1,654.0 L475.2,655.0 L479.5,656.9 L478.1,654.0 L473.1,650.2 L471.0,645.4 L480.2,642.5 L489.4,641.6 L500.7,643.5 L503.6,648.3 L505.7,653.1 L512.1,651.1 L520.6,647.3 L530.5,640.6 L539.0,639.7 L545.3,639.7 L548.9,644.4 L544.6,647.3 L539.0,652.1 L527.6,653.1 L523.4,651.1 L512.1,655.0 L505.7,658.8 L504.3,669.3 L514.9,669.3 L512.1,677.0 L515.6,682.7 L514.2,689.4 L507.8,689.4 L507.1,693.2 L514.9,696.1 L519.9,700.9 L519.9,710.4 L524.1,718.1 L531.9,720.9 L524.8,723.8 L534.7,721.9 L539.0,721.9 L546.0,724.7 L553.1,732.4 L561.6,730.5 L565.9,727.6 L566.6,720.0 L572.2,720.0 L580.0,721.9 L587.1,725.7 L594.2,733.4 L599.1,735.3 L609.8,733.4 L616.1,730.5 L620.4,722.8 L626.1,720.9 L633.8,724.7 L638.8,724.7 L644.5,718.1 L646.6,724.7 L641.6,730.5 L643.0,738.1 L641.6,746.7 L642.3,755.3 L643.0,762.0 L638.8,768.7 L636.7,776.4 L633.8,785.0 L631.0,792.6 L628.9,797.4 L627.5,805.0 L625.3,813.7 L621.8,821.3 L618.3,826.1 L612.6,828.9 L605.5,829.9 L597.0,830.9 L591.4,827.0 L585.7,822.3 L580.0,821.3 L573.0,821.3 L564.5,822.3 L559.5,826.1 L554.5,829.9 L547.5,833.7 L539.0,832.8 L529.1,829.9 L520.6,825.1 L509.2,822.3 L499.3,820.3 L490.1,820.3 L485.9,813.7 L475.2,812.7 L466.8,808.9 L461.1,801.2 L454.0,797.4 L448.3,795.5 L438.4,795.5 L429.9,800.3 L421.4,806.0 L417.9,812.7 L418.6,824.2 L415.1,832.8 L408.7,841.4 L401.6,843.3 L393.1,838.5 L383.2,832.8 L371.9,828.0 L363.4,826.1 L354.9,820.3 L349.9,808.9 L340.7,803.1 L329.4,797.4 L320.9,795.5 L311.0,797.4 L302.5,792.6 L295.4,789.8 L291.2,787.8 L288.3,782.1 L283.4,781.1 L277.0,777.3 L276.3,770.6 L282.0,763.9 L286.9,758.2 L291.2,751.5 L288.3,744.8 L284.1,739.1 L282.7,732.4 L287.6,727.6 L291.2,719.0 L287.6,717.1 L282.7,721.9 L279.1,720.0 L279.1,714.2 L273.5,711.4 L265.7,712.3 L258.6,717.1 L255.8,718.1 L244.4,718.1 L237.4,716.1 L226.0,719.0 L221.8,716.1 L211.9,720.9 L205.5,722.8 L197.7,719.0 L189.2,719.0 L179.3,721.3 L173.6,722.8 L166.6,724.7 L155.2,726.7 L146.7,731.4 L138.2,738.1 L131.2,740.0 L125.5,741.0 L119.8,743.9 L114.2,749.6 L107.1,753.4 L101.4,753.4 L95.8,753.4 L92.2,749.6 L87.3,751.5 L78.8,750.6 L71.7,752.5 L66.0,749.6 L61.1,747.3 L58.9,745.8 L56.8,744.8 L54.7,744.8 L41.9,744.8 Z" fill="none" stroke="#00007f" stroke-width="1.1"/>
<g fill="none" stroke="#00007f" stroke-width="1.1" stroke-linecap="round">
<polyline points="70.5,693.7 74.3,692.7"/>
<polyline points="85.4,672.3 87.7,670.2"/>
<polyline points="113.7,668.3 116.0,670.4"/>
<polyline points="95.3,655.1 97.6,653.0"/>
<polyline points="60.2,708.0 63.3,709.0"/>
<polyline points="61.6,678.4 64.7,677.4"/>
<polyline points="128.5,635.2 132.4,633.6"/>
<polyline points="67.0,624.5 69.3,622.4"/>
<polyline points="106.3,616.4 107.9,613.2"/>
<polyline points="141.4,621.7 142.2,617.5"/>
<polyline points="88.2,641.5 90.6,643.6"/>
<polyline points="81.1,609.6 83.5,608.5"/>
<polyline points="120.5,686.9 122.0,688.0"/>
<polyline points="102.1,699.5 103.6,698.4"/>
<polyline points="79.4,714.7 81.0,713.7"/>
<polyline points="64.5,598.1 67.6,597.1"/>
<polyline points="155.9,610.5 157.4,611.5"/>
<polyline points="130.4,613.0 131.9,610.9"/>
<ellipse cx="206.2" cy="593.8" rx="1.7" ry="1.5"/>
<ellipse cx="185.0" cy="594.7" rx="2.1" ry="1.0"/>
<ellipse cx="285.5" cy="552.7" rx="1.1" ry="4.8"/>
<ellipse cx="255.8" cy="546.9" rx="0.7" ry="4.8"/>
<ellipse cx="265.0" cy="546.0" rx="0.7" ry="3.8"/>
<ellipse cx="305.3" cy="599.5" rx="1.7" ry="1.5"/>
<ellipse cx="302.5" cy="610.0" rx="1.4" ry="1.9"/>
<ellipse cx="353.5" cy="623.4" rx="2.1" ry="1.0"/>
<ellipse cx="407.3" cy="617.7" rx="2.1" ry="2.3"/>
<ellipse cx="427.8" cy="640.6" rx="1.1" ry="2.9"/>
<ellipse cx="431.4" cy="643.5" rx="1.1" ry="2.3"/>
<polyline points="356.7,555.5 364.4,557.6"/>
<polyline points="398.2,576.5 403.6,578.6"/>
<polyline points="440.0,595.0 443.9,600.2"/>
<ellipse cx="465.3" cy="646.4" rx="1.7" ry="1.0"/>
<ellipse cx="439.8" cy="687.5" rx="2.1" ry="1.0"/>
<ellipse cx="435.6" cy="650.2" rx="0.8" ry="1.1"/>
<polyline points="453.9,632.4 457.0,635.5"/>
<polyline points="469.9,612.8 477.7,614.9"/>
<ellipse cx="551.7" cy="651.1" rx="2.1" ry="1.1"/>
<ellipse cx="539.0" cy="655.9" rx="1.7" ry="1.1"/>
<ellipse cx="529.8" cy="655.9" rx="1.4" ry="1.1"/>
<ellipse cx="570.8" cy="700.9" rx="0.8" ry="3.8"/>
<ellipse cx="580.0" cy="702.8" rx="1.7" ry="3.4"/>
<ellipse cx="561.6" cy="703.7" rx="1.7" ry="1.0"/>
<ellipse cx="606.9" cy="682.7" rx="2.8" ry="5.7"/>
<ellipse cx="556.0" cy="701.8" rx="1.1" ry="0.8"/>
<ellipse cx="594.2" cy="688.4" rx="1.1" ry="1.1"/>
<ellipse cx="622.5" cy="669.3" rx="0.8" ry="1.5"/>
<polyline points="631.2,689.7 635.1,692.9"/>
<polyline points="629.0,645.3 634.4,647.4"/>
<polyline points="562.6,670.4 564.9,668.3"/>
<polyline points="535.7,675.9 538.0,678.0"/>
<polyline points="524.3,698.8 526.7,700.9"/>
<ellipse cx="223.2" cy="770.6" rx="7.1" ry="1.9"/>
<ellipse cx="252.9" cy="780.2" rx="11.3" ry="2.9"/>
<ellipse cx="278.4" cy="755.3" rx="1.7" ry="1.1"/>
<ellipse cx="213.3" cy="741.0" rx="2.8" ry="1.1"/>
<ellipse cx="141.1" cy="747.7" rx="5.7" ry="1.5"/>
<polyline points="172.7,760.0 177.4,762.1"/>
<polyline points="102.7,762.1 105.8,760.0"/>
<polyline points="78.3,774.0 80.6,773.0"/>
<polyline points="199.3,745.3 203.2,744.3"/>
<ellipse cx="604.1" cy="828.9" rx="5.0" ry="1.0"/>
<ellipse cx="587.1" cy="827.0" rx="2.8" ry="1.5"/>
<ellipse cx="570.1" cy="823.2" rx="3.5" ry="1.0"/>
<ellipse cx="557.4" cy="830.9" rx="1.7" ry="0.8"/>
<polyline points="591.4,826.1 592.1,839.5 594.2,849.0 594.9,854.8"/>
<ellipse cx="638.1" cy="797.4" rx="0.8" ry="2.3"/>
<ellipse cx="636.7" cy="823.2" rx="1.0" ry="6.7"/>
<polyline points="637.5,791.0 637.9,794.2"/>
<polyline points="418.1,833.5 420.5,837.7"/>
<polyline points="454.2,832.7 458.1,834.8"/>
<polyline points="347.4,833.1 349.7,836.2"/>
<polyline points="312.0,823.1 314.3,825.2"/>
<polyline points="503.4,840.3 506.5,842.4"/>
<polyline points="538.8,842.2 541.9,844.3"/>
<polyline points="163.6,572.4 166.7,569.3"/>
<polyline points="142.3,575.0 145.5,578.1"/>
<polyline points="184.5,548.0 186.8,545.9"/>
<polyline points="217.4,561.4 220.5,559.3"/>
<polyline points="232.7,578.1 235.0,575.0"/>
</g>
<path d="M167.3,668.3 L172.2,669.3 L177.2,673.7 L180.7,671.2 L182.8,665.5 L179.3,660.7 L173.6,662.6 L167.3,667.4 Z" fill="#808080" stroke="#00007f" stroke-width="1"/>
<path d="M187.8,660.7 L194.9,662.6 L194.9,660.3 L188.5,658.4 Z" fill="#808080" stroke="#00007f" stroke-width="1"/>
<path d="M151.0,679.8 L155.2,681.2 L156.6,677.9 L152.4,676.6 Z" fill="#808080" stroke="#00007f" stroke-width="1"/>
<path d="M255.1,614.2 L255.8,622.5 L257.9,629.2 L262.8,633.0 L267.1,629.2 L268.5,619.6 L269.2,608.1 L267.8,602.4 L266.4,603.3 L265.7,608.1 L257.2,611.0 Z" fill="#808080" stroke="#00007f" stroke-width="1"/>
<path d="M250.1,641.6 L254.4,644.4 L252.9,653.1 L255.1,661.7 L252.9,669.3 L255.8,679.8 L259.3,680.8 L262.8,675.0 L269.2,676.0 L270.6,669.3 L271.3,659.7 L272.8,648.3 L269.2,640.6 L265.7,635.8 L258.6,638.7 Z" fill="#808080" stroke="#00007f" stroke-width="1"/>
<path d="M309.6,699.9 L310.3,695.1 L315.9,697.0 L323.0,694.2 L332.2,697.0 L340.7,697.0 L347.8,695.1 L354.9,692.6 L349.9,702.8 L347.1,710.4 L349.9,717.1 L347.8,723.8 L339.3,720.9 L336.5,716.1 L325.2,713.3 L316.7,706.6 L311.7,704.7 Z" fill="#808080" stroke="#00007f" stroke-width="1"/>
<path d="M466.8,749.6 L468.2,743.9 L475.2,744.8 L482.3,747.7 L492.2,747.7 L499.3,749.6 L506.4,749.6 L505.0,755.3 L495.1,755.7 L485.2,756.9 L473.8,751.5 L467.5,751.5 Z" fill="#808080" stroke="#00007f" stroke-width="1"/>
<path d="M591.4,754.4 L595.6,761.1 L601.3,763.0 L611.2,756.3 L615.4,753.4 L623.9,742.0 L614.0,746.7 L601.3,748.6 L599.9,752.5 Z" fill="#808080" stroke="#00007f" stroke-width="1"/>
<path d="M526.2,734.3 L530.5,728.6 L534.0,727.6 L533.3,734.3 L527.6,738.1 Z" fill="#808080" stroke="#00007f" stroke-width="1"/>
<path d="M457.5,681.7 L463.9,685.6 L468.2,690.3 L475.2,695.1 L482.3,698.0 L478.1,692.2 L473.8,685.6 L465.3,678.9 L459.0,679.2 Z" fill="#808080" stroke="#00007f" stroke-width="1"/>
<path d="M500.0,675.0 L505.0,678.9 L510.6,677.9 L507.8,672.2 L502.2,672.2 Z" fill="#808080" stroke="#00007f" stroke-width="1"/>
<path d="M500.0,692.2 L504.3,693.2 L503.6,686.5 L500.7,687.5 Z" fill="#808080" stroke="#00007f" stroke-width="1"/>
<path d="M509.9,703.7 L516.3,704.7 L514.9,701.8 Z" fill="#808080" stroke="#00007f" stroke-width="1"/>
<path d="M422.1,694.2 L427.1,696.1 L425.7,689.4 L423.6,690.3 Z" fill="#808080" stroke="#00007f" stroke-width="1"/>
<path d="M412.2,664.5 L418.6,666.4 L415.8,670.3 L414.4,667.4 Z" fill="#808080" stroke="#00007f" stroke-width="1"/>
<path d="M335.1,735.3 L340.0,739.1 L337.9,737.2 Z" fill="#808080" stroke="#00007f" stroke-width="1"/>
<path d="M277.0,607.2 L282.0,607.2 L279.8,605.3 Z" fill="#808080" stroke="#00007f" stroke-width="1"/>
<path d="M492.9,717.1 L495.8,717.1 L495.1,713.3 L492.9,714.2 Z" fill="#808080" stroke="#00007f" stroke-width="1"/>
<path d="M489.4,717.1 L491.5,717.1 L490.8,714.2 Z" fill="#808080" stroke="#00007f" stroke-width="1"/>
<path d="M483.7,700.9 L488.0,703.7 L487.3,698.9 Z" fill="#808080" stroke="#00007f" stroke-width="1"/>
<path d="M488.7,661.7 L493.7,663.6 L492.9,659.7 Z" fill="#808080" stroke="#00007f" stroke-width="1"/>
<path d="M481.6,648.3 L485.2,648.3 L483.7,644.4 Z" fill="#808080" stroke="#00007f" stroke-width="1"/>
<path d="M517.7,747.7 L519.1,747.7 L519.9,740.0 L518.4,740.0 Z" fill="#808080" stroke="#00007f" stroke-width="1"/>
<path d="M515.6,720.9 L521.3,720.0 L519.1,719.0 Z" fill="#808080" stroke="#00007f" stroke-width="1"/>
<path d="M286.2,780.2 L290.5,778.3 L288.3,776.4 Z" fill="#808080" stroke="#00007f" stroke-width="1"/>
<path d="M426.4,702.8 L430.6,702.8 L428.5,699.9 Z" fill="#808080" stroke="#00007f" stroke-width="1"/>
<path d="M458.3,733.4 L461.1,732.4 L459.7,729.5 Z" fill="#808080" stroke="#00007f" stroke-width="1"/>
<path d="M502.2,706.6 L507.1,704.7 L503.6,704.7 Z" fill="#808080" stroke="#00007f" stroke-width="1"/>
<path d="M478.8,722.8 L481.6,722.8 L480.2,721.3 Z" fill="#808080" stroke="#00007f" stroke-width="1"/>
<path d="M492.9,729.5 L494.8,729.0 L493.9,727.6 Z" fill="#808080" stroke="#00007f" stroke-width="1"/>
<path d="M479.5,681.7 L483.0,681.7 L481.6,679.8 Z" fill="#808080" stroke="#00007f" stroke-width="1"/>
</g>
<rect x="53.2" y="537.5" width="600.4" height="320.2" fill="none" stroke="#a9a9c4" stroke-width="1"/>
<g fill="#00007f">
<rect x="77.3" y="538.0" width="56.6" height="3.4"/>
<rect x="77.3" y="853.8" width="56.6" height="3.4"/>
<rect x="190.6" y="538.0" width="56.6" height="3.4"/>
<rect x="190.6" y="853.8" width="56.6" height="3.4"/>
<rect x="303.9" y="538.0" width="56.6" height="3.4"/>
<rect x="303.9" y="853.8" width="56.6" height="3.4"/>
<rect x="417.2" y="538.0" width="56.6" height="3.4"/>
<rect x="417.2" y="853.8" width="56.6" height="3.4"/>
<rect x="530.5" y="538.0" width="56.6" height="3.4"/>
<rect x="530.5" y="853.8" width="56.6" height="3.4"/>
<rect x="53.7" y="736.2" width="3.4" height="76.5"/>
<rect x="649.7" y="736.2" width="3.4" height="76.5"/>
<rect x="53.7" y="583.3" width="3.4" height="76.5"/>
<rect x="649.7" y="583.3" width="3.4" height="76.5"/>
</g>
<rect x="56.9" y="541.4" width="62.7" height="53.8" fill="#fff"/>
<text x="85.9" y="578.2" text-anchor="middle" font-family="Liberation Sans, sans-serif" font-size="32" fill="#000">(C)</text>
<text x="74.1" y="822.3" font-family="DejaVu Sans, sans-serif" font-weight="200" font-size="31" fill="#f5f53c" textLength="61.6" lengthAdjust="spacingAndGlyphs">FEB</text>
<text x="151.6" y="822.3" font-family="DejaVu Sans, sans-serif" font-weight="200" font-size="31" fill="#f5f53c" textLength="85.0" lengthAdjust="spacingAndGlyphs">2024</text>
<text x="80.8" y="533.2" text-anchor="middle" font-family="DejaVu Sans, sans-serif" font-weight="200" stroke="#1e1e88" stroke-width="0.45" font-size="21" fill="#1e1e88">−4<tspan fill="#3a6fd0" font-weight="400" stroke="#3a6fd0" stroke-width="0.5" font-size="20" dx="-1.5" dy="0.8">°</tspan></text>
<text x="80.8" y="879.8" text-anchor="middle" font-family="DejaVu Sans, sans-serif" font-weight="200" stroke="#1e1e88" stroke-width="0.45" font-size="21" fill="#1e1e88">−4<tspan fill="#3a6fd0" font-weight="400" stroke="#3a6fd0" stroke-width="0.5" font-size="20" dx="-1.5" dy="0.8">°</tspan></text>
<text x="137.5" y="533.2" text-anchor="middle" font-family="DejaVu Sans, sans-serif" font-weight="200" stroke="#1e1e88" stroke-width="0.45" font-size="21" fill="#1e1e88">0<tspan fill="#3a6fd0" font-weight="400" stroke="#3a6fd0" stroke-width="0.5" font-size="20" dx="-1.5" dy="0.8">°</tspan></text>
<text x="137.5" y="879.8" text-anchor="middle" font-family="DejaVu Sans, sans-serif" font-weight="200" stroke="#1e1e88" stroke-width="0.45" font-size="21" fill="#1e1e88">0<tspan fill="#3a6fd0" font-weight="400" stroke="#3a6fd0" stroke-width="0.5" font-size="20" dx="-1.5" dy="0.8">°</tspan></text>
<text x="194.1" y="533.2" text-anchor="middle" font-family="DejaVu Sans, sans-serif" font-weight="200" stroke="#1e1e88" stroke-width="0.45" font-size="21" fill="#1e1e88">4<tspan fill="#3a6fd0" font-weight="400" stroke="#3a6fd0" stroke-width="0.5" font-size="20" dx="-1.5" dy="0.8">°</tspan></text>
<text x="194.1" y="879.8" text-anchor="middle" font-family="DejaVu Sans, sans-serif" font-weight="200" stroke="#1e1e88" stroke-width="0.45" font-size="21" fill="#1e1e88">4<tspan fill="#3a6fd0" font-weight="400" stroke="#3a6fd0" stroke-width="0.5" font-size="20" dx="-1.5" dy="0.8">°</tspan></text>
<text x="250.8" y="533.2" text-anchor="middle" font-family="DejaVu Sans, sans-serif" font-weight="200" stroke="#1e1e88" stroke-width="0.45" font-size="21" fill="#1e1e88">8<tspan fill="#3a6fd0" font-weight="400" stroke="#3a6fd0" stroke-width="0.5" font-size="20" dx="-1.5" dy="0.8">°</tspan></text>
<text x="250.8" y="879.8" text-anchor="middle" font-family="DejaVu Sans, sans-serif" font-weight="200" stroke="#1e1e88" stroke-width="0.45" font-size="21" fill="#1e1e88">8<tspan fill="#3a6fd0" font-weight="400" stroke="#3a6fd0" stroke-width="0.5" font-size="20" dx="-1.5" dy="0.8">°</tspan></text>
<text x="307.4" y="533.2" text-anchor="middle" font-family="DejaVu Sans, sans-serif" font-weight="200" stroke="#1e1e88" stroke-width="0.45" font-size="21" fill="#1e1e88">12<tspan fill="#3a6fd0" font-weight="400" stroke="#3a6fd0" stroke-width="0.5" font-size="20" dx="-1.5" dy="0.8">°</tspan></text>
<text x="307.4" y="879.8" text-anchor="middle" font-family="DejaVu Sans, sans-serif" font-weight="200" stroke="#1e1e88" stroke-width="0.45" font-size="21" fill="#1e1e88">12<tspan fill="#3a6fd0" font-weight="400" stroke="#3a6fd0" stroke-width="0.5" font-size="20" dx="-1.5" dy="0.8">°</tspan></text>
<text x="364.1" y="533.2" text-anchor="middle" font-family="DejaVu Sans, sans-serif" font-weight="200" stroke="#1e1e88" stroke-width="0.45" font-size="21" fill="#1e1e88">16<tspan fill="#3a6fd0" font-weight="400" stroke="#3a6fd0" stroke-width="0.5" font-size="20" dx="-1.5" dy="0.8">°</tspan></text>
<text x="364.1" y="879.8" text-anchor="middle" font-family="DejaVu Sans, sans-serif" font-weight="200" stroke="#1e1e88" stroke-width="0.45" font-size="21" fill="#1e1e88">16<tspan fill="#3a6fd0" font-weight="400" stroke="#3a6fd0" stroke-width="0.5" font-size="20" dx="-1.5" dy="0.8">°</tspan></text>
<text x="420.7" y="533.2" text-anchor="middle" font-family="DejaVu Sans, sans-serif" font-weight="200" stroke="#1e1e88" stroke-width="0.45" font-size="21" fill="#1e1e88">20<tspan fill="#3a6fd0" font-weight="400" stroke="#3a6fd0" stroke-width="0.5" font-size="20" dx="-1.5" dy="0.8">°</tspan></text>
<text x="420.7" y="879.8" text-anchor="middle" font-family="DejaVu Sans, sans-serif" font-weight="200" stroke="#1e1e88" stroke-width="0.45" font-size="21" fill="#1e1e88">20<tspan fill="#3a6fd0" font-weight="400" stroke="#3a6fd0" stroke-width="0.5" font-size="20" dx="-1.5" dy="0.8">°</tspan></text>
<text x="477.3" y="533.2" text-anchor="middle" font-family="DejaVu Sans, sans-serif" font-weight="200" stroke="#1e1e88" stroke-width="0.45" font-size="21" fill="#1e1e88">24<tspan fill="#3a6fd0" font-weight="400" stroke="#3a6fd0" stroke-width="0.5" font-size="20" dx="-1.5" dy="0.8">°</tspan></text>
<text x="477.3" y="879.8" text-anchor="middle" font-family="DejaVu Sans, sans-serif" font-weight="200" stroke="#1e1e88" stroke-width="0.45" font-size="21" fill="#1e1e88">24<tspan fill="#3a6fd0" font-weight="400" stroke="#3a6fd0" stroke-width="0.5" font-size="20" dx="-1.5" dy="0.8">°</tspan></text>
<text x="534.0" y="533.2" text-anchor="middle" font-family="DejaVu Sans, sans-serif" font-weight="200" stroke="#1e1e88" stroke-width="0.45" font-size="21" fill="#1e1e88">28<tspan fill="#3a6fd0" font-weight="400" stroke="#3a6fd0" stroke-width="0.5" font-size="20" dx="-1.5" dy="0.8">°</tspan></text>
<text x="534.0" y="879.8" text-anchor="middle" font-family="DejaVu Sans, sans-serif" font-weight="200" stroke="#1e1e88" stroke-width="0.45" font-size="21" fill="#1e1e88">28<tspan fill="#3a6fd0" font-weight="400" stroke="#3a6fd0" stroke-width="0.5" font-size="20" dx="-1.5" dy="0.8">°</tspan></text>
<text x="590.6" y="533.2" text-anchor="middle" font-family="DejaVu Sans, sans-serif" font-weight="200" stroke="#1e1e88" stroke-width="0.45" font-size="21" fill="#1e1e88">32<tspan fill="#3a6fd0" font-weight="400" stroke="#3a6fd0" stroke-width="0.5" font-size="20" dx="-1.5" dy="0.8">°</tspan></text>
<text x="590.6" y="879.8" text-anchor="middle" font-family="DejaVu Sans, sans-serif" font-weight="200" stroke="#1e1e88" stroke-width="0.45" font-size="21" fill="#1e1e88">32<tspan fill="#3a6fd0" font-weight="400" stroke="#3a6fd0" stroke-width="0.5" font-size="20" dx="-1.5" dy="0.8">°</tspan></text>
<text transform="translate(49.0 809.2) rotate(-90)" text-anchor="middle" font-family="DejaVu Sans, sans-serif" font-weight="200" stroke="#1e1e88" stroke-width="0.45" font-size="21" fill="#1e1e88">32<tspan fill="#3a6fd0" font-weight="400" stroke="#3a6fd0" stroke-width="0.5" font-size="20" dx="-1.5" dy="0.8">°</tspan></text>
<text transform="translate(657.0 816.2) rotate(90)" text-anchor="middle" font-family="DejaVu Sans, sans-serif" font-weight="200" stroke="#1e1e88" stroke-width="0.45" font-size="21" fill="#1e1e88">32<tspan fill="#3a6fd0" font-weight="400" stroke="#3a6fd0" stroke-width="0.5" font-size="20" dx="-1.5" dy="0.8">°</tspan></text>
<text transform="translate(49.0 732.7) rotate(-90)" text-anchor="middle" font-family="DejaVu Sans, sans-serif" font-weight="200" stroke="#1e1e88" stroke-width="0.45" font-size="21" fill="#1e1e88">36<tspan fill="#3a6fd0" font-weight="400" stroke="#3a6fd0" stroke-width="0.5" font-size="20" dx="-1.5" dy="0.8">°</tspan></text>
<text transform="translate(657.0 739.7) rotate(90)" text-anchor="middle" font-family="DejaVu Sans, sans-serif" font-weight="200" stroke="#1e1e88" stroke-width="0.45" font-size="21" fill="#1e1e88">36<tspan fill="#3a6fd0" font-weight="400" stroke="#3a6fd0" stroke-width="0.5" font-size="20" dx="-1.5" dy="0.8">°</tspan></text>
<text transform="translate(49.0 656.2) rotate(-90)" text-anchor="middle" font-family="DejaVu Sans, sans-serif" font-weight="200" stroke="#1e1e88" stroke-width="0.45" font-size="21" fill="#1e1e88">40<tspan fill="#3a6fd0" font-weight="400" stroke="#3a6fd0" stroke-width="0.5" font-size="20" dx="-1.5" dy="0.8">°</tspan></text>
<text transform="translate(657.0 663.2) rotate(90)" text-anchor="middle" font-family="DejaVu Sans, sans-serif" font-weight="200" stroke="#1e1e88" stroke-width="0.45" font-size="21" fill="#1e1e88">40<tspan fill="#3a6fd0" font-weight="400" stroke="#3a6fd0" stroke-width="0.5" font-size="20" dx="-1.5" dy="0.8">°</tspan></text>
<text transform="translate(49.0 579.8) rotate(-90)" text-anchor="middle" font-family="DejaVu Sans, sans-serif" font-weight="200" stroke="#1e1e88" stroke-width="0.45" font-size="21" fill="#1e1e88">44<tspan fill="#3a6fd0" font-weight="400" stroke="#3a6fd0" stroke-width="0.5" font-size="20" dx="-1.5" dy="0.8">°</tspan></text>
<text transform="translate(657.0 586.8) rotate(90)" text-anchor="middle" font-family="DejaVu Sans, sans-serif" font-weight="200" stroke="#1e1e88" stroke-width="0.45" font-size="21" fill="#1e1e88">44<tspan fill="#3a6fd0" font-weight="400" stroke="#3a6fd0" stroke-width="0.5" font-size="20" dx="-1.5" dy="0.8">°</tspan></text>
<text x="274.5" y="513.7" font-family="Liberation Sans, sans-serif" font-size="26" fill="#000">Longitude</text>
<text transform="translate(24.6 713.0) rotate(-90)" text-anchor="middle" font-family="Liberation Sans, sans-serif" font-size="26.6" fill="#000">Latitude</text>
<defs><clipPath id="clipD"><rect x="743.7" y="544.0" width="583.4" height="307.1"/></clipPath><clipPath id="seaD"><path d="M728.8,729.9 L741.3,729.9 L744.8,728.9 L747.6,727.6 L751.1,726.1 L758.1,722.0 L763.6,721.6 L770.6,722.0 L777.6,721.4 L783.2,722.0 L786.6,719.9 L790.1,721.8 L792.2,717.7 L795.7,711.1 L801.3,706.4 L806.2,705.4 L809.6,704.5 L808.9,698.9 L811.7,693.2 L815.9,688.5 L820.8,685.7 L822.6,683.8 L818.7,680.1 L815.9,673.5 L814.8,669.7 L817.3,663.2 L820.8,657.5 L825.7,651.9 L831.9,647.2 L830.5,644.4 L834.7,640.6 L841.7,637.8 L849.4,635.0 L855.6,630.3 L863.3,625.6 L864.0,620.9 L865.4,617.1 L861.9,613.4 L861.9,605.8 L865.4,599.3 L871.0,596.1 L876.6,593.6 L883.5,596.8 L887.7,596.4 L893.3,598.3 L897.5,600.6 L902.3,602.1 L907.9,602.1 L912.8,599.3 L916.3,594.6 L921.2,590.8 L925.3,589.3 L930.9,587.4 L936.5,581.4 L943.5,577.3 L950.4,579.9 L956.7,583.7 L961.6,587.0 L963.0,593.6 L965.8,600.2 L965.8,604.9 L969.3,607.7 L974.1,612.4 L979.7,616.2 L983.9,620.9 L990.2,628.0 L995.0,633.1 L1001.3,636.8 L1009.0,636.8 L1013.2,640.6 L1015.3,645.3 L1018.7,644.7 L1020.8,648.1 L1019.4,649.1 L1025.0,648.1 L1028.5,652.8 L1027.8,656.6 L1032.7,659.8 L1037.6,659.4 L1039.7,666.0 L1043.1,672.6 L1045.2,680.1 L1042.4,683.8 L1040.3,685.7 L1041.7,688.5 L1037.6,694.2 L1037.6,698.9 L1043.1,699.4 L1049.4,691.3 L1050.8,682.9 L1058.5,680.1 L1057.8,671.6 L1049.4,666.0 L1050.1,659.4 L1055.0,652.8 L1059.2,651.9 L1064.0,655.1 L1069.6,658.5 L1075.2,664.1 L1077.3,658.5 L1076.6,654.7 L1070.3,648.1 L1062.0,643.4 L1054.3,638.7 L1045.2,634.0 L1041.7,630.3 L1044.5,624.6 L1038.3,624.1 L1030.6,624.1 L1024.3,620.9 L1018.0,614.3 L1012.5,605.8 L1009.0,594.6 L1003.4,589.9 L995.0,583.3 L990.9,575.8 L993.6,568.2 L990.9,562.6 L995.0,557.0 L1002.0,553.2 L1010.4,553.2 L1009.0,557.9 L1007.6,562.6 L1010.4,568.2 L1014.6,566.4 L1018.7,560.7 L1022.2,561.7 L1027.1,570.1 L1033.4,579.5 L1036.9,585.2 L1041.7,592.7 L1048.0,594.6 L1055.0,596.4 L1062.0,603.0 L1067.5,605.8 L1071.7,610.5 L1077.3,614.3 L1080.8,617.1 L1084.3,620.9 L1089.8,625.6 L1092.6,629.3 L1090.5,635.9 L1090.5,643.4 L1089.1,649.1 L1090.5,653.8 L1095.4,660.3 L1098.9,666.0 L1101.7,670.7 L1105.9,675.4 L1108.0,678.2 L1108.7,682.9 L1111.4,686.6 L1113.5,690.4 L1117.0,691.3 L1122.6,691.7 L1127.5,690.8 L1133.1,690.8 L1137.9,694.2 L1142.1,697.5 L1139.3,699.4 L1134.4,697.0 L1128.9,695.1 L1124.0,692.9 L1121.2,694.5 L1117.7,695.1 L1114.2,699.4 L1117.0,703.6 L1120.5,713.0 L1121.9,719.5 L1125.4,720.5 L1127.5,715.8 L1131.0,724.2 L1133.1,727.6 L1135.1,720.5 L1137.9,722.4 L1140.0,727.1 L1142.8,727.1 L1140.7,718.6 L1136.5,707.3 L1142.1,711.1 L1147.0,708.3 L1145.6,702.6 L1149.8,698.9 L1154.7,704.5 L1158.1,697.9 L1161.6,697.0 L1156.1,686.6 L1145.6,679.1 L1140.0,677.3 L1139.3,671.6 L1144.9,675.4 L1138.6,666.0 L1133.7,660.3 L1135.1,650.9 L1139.3,649.1 L1138.6,651.9 L1144.2,655.6 L1145.6,661.3 L1150.5,661.7 L1147.0,655.6 L1150.5,656.6 L1153.3,661.3 L1154.7,656.6 L1153.3,654.7 L1155.4,655.6 L1159.5,657.5 L1158.1,654.7 L1153.3,650.9 L1151.2,646.2 L1160.2,643.4 L1169.3,642.5 L1180.4,644.4 L1183.2,649.1 L1185.3,653.8 L1191.6,651.9 L1200.0,648.1 L1209.7,641.5 L1218.1,640.6 L1224.4,640.6 L1227.8,645.3 L1223.7,648.1 L1218.1,652.8 L1206.9,653.8 L1202.8,651.9 L1191.6,655.6 L1185.3,659.4 L1183.9,669.7 L1194.4,669.7 L1191.6,677.3 L1195.1,682.9 L1193.7,689.5 L1187.4,689.5 L1186.7,693.2 L1194.4,696.0 L1199.3,700.7 L1199.3,710.1 L1203.4,717.7 L1211.1,720.5 L1204.1,723.3 L1213.9,721.4 L1218.1,721.4 L1225.1,724.2 L1232.0,731.8 L1240.4,729.9 L1244.6,727.1 L1245.3,719.5 L1250.8,719.5 L1258.5,721.4 L1265.5,725.2 L1272.5,732.7 L1277.3,734.6 L1287.8,732.7 L1294.1,729.9 L1298.2,722.4 L1303.8,720.5 L1311.5,724.2 L1316.4,724.2 L1321.9,717.7 L1324.0,724.2 L1319.2,729.9 L1320.5,737.4 L1319.2,745.9 L1319.9,754.3 L1320.5,760.9 L1316.4,767.5 L1314.3,775.0 L1311.5,783.4 L1308.7,791.0 L1306.6,795.7 L1305.2,803.2 L1303.1,811.6 L1299.6,819.1 L1296.2,823.8 L1290.6,826.7 L1283.6,827.6 L1275.2,828.5 L1269.7,824.8 L1264.1,820.1 L1258.5,819.1 L1251.5,819.1 L1243.2,820.1 L1238.3,823.8 L1233.4,827.6 L1226.5,831.4 L1218.1,830.4 L1208.3,827.6 L1200.0,822.9 L1188.8,820.1 L1179.1,818.2 L1170.0,818.2 L1165.8,811.6 L1155.4,810.7 L1147.0,806.9 L1141.4,799.4 L1134.4,795.7 L1128.9,793.8 L1119.1,793.8 L1110.7,798.5 L1102.4,804.1 L1098.9,810.7 L1099.6,822.0 L1096.1,830.4 L1089.8,838.9 L1082.9,840.8 L1074.5,836.1 L1064.7,830.4 L1053.6,825.7 L1045.2,823.8 L1036.9,818.2 L1032.0,806.9 L1022.9,801.3 L1011.8,795.7 L1003.4,793.8 L993.6,795.7 L985.3,791.0 L978.3,788.1 L974.1,786.3 L971.3,780.6 L966.5,779.7 L960.2,775.9 L959.5,769.3 L965.1,762.8 L970.0,757.1 L974.1,750.6 L971.3,744.0 L967.2,738.3 L965.8,731.8 L970.6,727.1 L974.1,718.6 L970.6,716.7 L965.8,721.4 L962.3,719.5 L962.3,713.9 L956.7,711.1 L949.0,712.0 L942.1,716.7 L939.3,717.7 L928.1,717.7 L921.2,715.8 L910.0,718.6 L905.8,715.8 L896.1,720.5 L889.8,722.4 L882.1,718.6 L873.8,718.6 L864.0,720.9 L858.4,722.4 L851.5,724.2 L840.3,726.1 L831.9,730.8 L823.6,737.4 L816.6,739.3 L811.0,740.2 L805.5,743.0 L799.9,748.7 L792.9,752.4 L787.3,752.4 L781.8,752.4 L778.3,748.7 L773.4,750.6 L765.0,749.6 L758.1,751.5 L752.5,748.7 L747.6,746.4 L745.5,744.9 L743.4,744.0 L741.3,744.0 L728.8,744.0 Z"/></clipPath><filter id="blD" x="724" y="524" width="623" height="347" filterUnits="userSpaceOnUse"><feGaussianBlur stdDeviation="5"/></filter><filter id="bqD" x="724" y="524" width="623" height="347" filterUnits="userSpaceOnUse"><feGaussianBlur stdDeviation="2.2"/></filter><filter id="bsD" x="724" y="524" width="623" height="347" filterUnits="userSpaceOnUse"><feGaussianBlur stdDeviation="2"/></filter></defs>
<g clip-path="url(#clipD)">
<rect x="743.7" y="544.0" width="583.4" height="307.1" fill="#808080"/>
<path d="M1246.0,538.2 L1246.0,541.9 L1240.4,551.3 L1233.4,558.8 L1233.4,564.5 L1223.7,571.1 L1219.5,579.5 L1218.1,588.9 L1209.0,600.2 L1208.3,609.6 L1204.1,615.2 L1206.9,622.7 L1209.7,630.3 L1218.1,635.9 L1225.1,637.8 L1236.2,638.7 L1244.6,637.8 L1257.1,635.9 L1269.7,628.4 L1279.4,624.6 L1293.4,622.7 L1308.7,622.7 L1314.3,629.3 L1322.6,630.3 L1326.8,635.9 L1335.2,637.8 L1342.2,538.2 Z" fill="#69b4fa" stroke="#00007f" stroke-width="1"/>
<path d="M1272.5,558.8 L1273.8,555.1 L1282.2,549.5 L1289.2,547.6 L1296.2,543.8 L1301.7,536.3 L1311.5,536.3 L1310.1,543.8 L1312.9,555.1 L1321.2,557.9 L1329.6,557.9 L1330.3,560.7 L1326.8,562.6 L1319.9,565.4 L1312.9,565.4 L1306.6,569.2 L1298.9,572.6 L1295.5,576.7 L1289.2,577.6 L1285.0,575.8 L1287.1,570.1 L1287.1,565.4 L1283.6,562.6 L1278.0,559.8 Z" fill="#808080" stroke="#00007f" stroke-width="1"/>
<g clip-path="url(#seaD)">
<rect x="743.7" y="544.0" width="583.4" height="307.1" fill="#69b4fa"/>
<g filter="url(#blD)">
<ellipse cx="819.4" cy="716.7" rx="20.9" ry="11.3" fill="#8ae8f2" fill-opacity="0.5"/>
<ellipse cx="875.2" cy="669.7" rx="13.9" ry="15.0" fill="#8ae8f2" fill-opacity="0.4"/>
<ellipse cx="1049.4" cy="744.9" rx="13.9" ry="18.8" fill="#8ae8f2" fill-opacity="0.4"/>
<ellipse cx="1216.7" cy="782.5" rx="16.7" ry="15.0" fill="#8ae8f2" fill-opacity="0.4"/>
<ellipse cx="1286.4" cy="773.1" rx="11.2" ry="15.0" fill="#8ae8f2" fill-opacity="0.4"/>
<ellipse cx="1126.1" cy="763.7" rx="13.9" ry="15.0" fill="#8ae8f2" fill-opacity="0.3"/>
</g>
<g filter="url(#bqD)" fill="none" stroke-linecap="round" stroke-linejoin="round">
<path d="M929.9,708.9 L924.8,703.3 Q919.7,697.8 918.6,693.4 Q917.5,689.0 913.4,681.6 Q909.4,674.2 912.1,665.7 L914.9,657.3" stroke="#9af4e0" stroke-opacity="0.65" stroke-width="5.7"/>
<path d="M876.9,647.7 L882.8,643.8 Q888.7,639.8 894.3,633.3 L899.9,626.8" stroke="#8aeef6" stroke-opacity="0.7" stroke-width="5.4"/>
<path d="M940.5,690.3 L934.5,688.6 Q928.5,687.0 922.0,689.8 Q915.5,692.7 908.4,689.9 L901.4,687.2" stroke="#9af4e0" stroke-opacity="0.65" stroke-width="5.8"/>
<ellipse cx="832.7" cy="706.0" rx="5.8" ry="6.5" stroke="#b8f2a0" stroke-opacity="0.55" stroke-width="5.6"/>
<ellipse cx="851.6" cy="682.0" rx="7.3" ry="10.7" stroke="#b8f2a0" stroke-opacity="0.55" stroke-width="5.6"/>
<ellipse cx="826.3" cy="658.5" rx="10.0" ry="12.8" stroke="#9af4e0" stroke-opacity="0.65" stroke-width="5.2"/>
<path d="M933.5,661.0 L939.4,660.6 Q945.3,660.1 949.6,666.8 L953.8,673.6" stroke="#8aeef6" stroke-opacity="0.55" stroke-width="6.2"/>
<path d="M917.7,627.6 L920.1,631.3 Q922.5,635.1 928.4,637.3 Q934.2,639.5 935.4,645.1 Q936.5,650.7 938.8,658.2 L941.2,665.7" stroke="#8aeef6" stroke-opacity="0.55" stroke-width="5.6"/>
<path d="M835.6,707.0 L837.5,701.8 Q839.4,696.6 844.0,695.0 Q848.6,693.4 854.0,698.8 Q859.3,704.3 864.7,706.9 L870.1,709.5" stroke="#9af4e0" stroke-opacity="0.65" stroke-width="4.9"/>
<path d="M901.3,677.9 L906.9,681.5 Q912.5,685.0 916.7,688.7 Q920.8,692.5 927.5,691.7 Q934.2,691.0 937.6,695.5 L941.0,700.0" stroke="#b8f2a0" stroke-opacity="0.55" stroke-width="4.6"/>
<path d="M851.8,664.2 L857.1,660.0 Q862.3,655.8 866.2,652.1 Q870.1,648.4 874.1,643.4 Q878.1,638.4 883.4,633.1 L888.6,627.8" stroke="#8aeef6" stroke-opacity="0.55" stroke-width="4.5"/>
<path d="M808.8,626.8 L809.3,619.4 Q809.9,611.9 806.2,604.0 Q802.6,596.2 801.1,590.6 Q799.6,585.1 795.6,577.2 L791.6,569.3" stroke="#7fe0f8" stroke-opacity="0.55" stroke-width="6.3"/>
<path d="M786.4,741.4 L787.8,734.8 Q789.2,728.2 786.6,721.2 L784.0,714.2" stroke="#9af4e0" stroke-opacity="0.65" stroke-width="6.0"/>
<path d="M797.2,738.7 L799.6,734.8 Q802.1,730.9 800.3,723.7 Q798.6,716.4 792.9,710.6 L787.1,704.7" stroke="#c0f088" stroke-opacity="0.6" stroke-width="5.8"/>
<path d="M776.5,726.8 L782.6,726.4 Q788.7,726.0 793.4,731.0 Q798.1,735.9 802.9,742.4 L807.7,749.0" stroke="#8aeef6" stroke-opacity="0.7" stroke-width="5.1"/>
<path d="M970.8,614.7 L976.4,616.0 Q981.9,617.4 986.1,624.4 L990.2,631.4" stroke="#8aeef6" stroke-opacity="0.6" stroke-width="4.7"/>
<path d="M998.7,661.4 L996.5,666.1 Q994.4,670.9 999.0,678.0 Q1003.5,685.1 1003.1,689.7 Q1002.6,694.3 1003.3,699.4 L1004.0,704.4" stroke="#84e4f8" stroke-opacity="0.5" stroke-width="6.3"/>
<path d="M1020.6,666.3 L1026.3,662.8 Q1032.1,659.2 1036.8,658.4 L1041.5,657.7" stroke="#84e4f8" stroke-opacity="0.5" stroke-width="4.7"/>
<path d="M967.6,656.5 L962.9,663.5 Q958.1,670.6 956.4,677.3 Q954.7,683.9 949.7,688.4 Q944.6,692.9 942.5,699.0 L940.4,705.2" stroke="#8aeef6" stroke-opacity="0.6" stroke-width="6.1"/>
<path d="M1063.3,700.0 L1068.7,705.1 Q1074.1,710.2 1080.5,711.3 Q1086.8,712.3 1091.0,716.8 L1095.1,721.3" stroke="#9af4e0" stroke-opacity="0.65" stroke-width="4.6"/>
<ellipse cx="1100.3" cy="757.4" rx="10.8" ry="12.8" stroke="#c0f088" stroke-opacity="0.6" stroke-width="6.4"/>
<ellipse cx="1094.0" cy="760.5" rx="10.2" ry="13.5" stroke="#8aeef6" stroke-opacity="0.7" stroke-width="6.4"/>
<path d="M1107.9,790.2 L1104.1,785.1 Q1100.2,780.0 1103.0,773.2 Q1105.7,766.5 1111.6,761.9 L1117.5,757.3" stroke="#e0f060" stroke-opacity="0.55" stroke-width="5.6"/>
<path d="M1123.6,727.2 L1123.5,732.3 Q1123.3,737.5 1129.6,741.5 Q1135.9,745.6 1142.0,744.6 L1148.0,743.6" stroke="#c0f088" stroke-opacity="0.6" stroke-width="6.4"/>
<path d="M1069.8,733.3 L1073.8,739.9 Q1077.7,746.6 1082.4,751.4 L1087.0,756.1" stroke="#8aeef6" stroke-opacity="0.7" stroke-width="5.0"/>
<path d="M1104.9,775.5 L1099.3,779.0 Q1093.7,782.5 1086.6,783.8 Q1079.4,785.1 1073.1,781.8 Q1066.8,778.6 1060.4,779.9 L1054.0,781.2" stroke="#c0f088" stroke-opacity="0.6" stroke-width="4.7"/>
<path d="M1093.6,798.0 L1098.2,792.8 Q1102.7,787.7 1103.0,778.8 L1103.3,770.0" stroke="#9af4e0" stroke-opacity="0.65" stroke-width="4.6"/>
<path d="M1121.9,739.4 L1122.1,732.1 Q1122.4,724.7 1129.6,720.9 Q1136.8,717.1 1138.1,709.8 Q1139.5,702.4 1138.1,695.1 L1136.8,687.8" stroke="#e0f060" stroke-opacity="0.55" stroke-width="4.8"/>
<path d="M1076.2,727.6 L1074.6,721.6 Q1073.0,715.6 1077.8,709.7 L1082.6,703.7" stroke="#9af4e0" stroke-opacity="0.65" stroke-width="5.6"/>
<path d="M1090.6,795.0 L1084.1,795.3 Q1077.6,795.7 1075.7,799.7 Q1073.7,803.8 1070.9,809.6 Q1068.1,815.4 1062.3,819.9 L1056.4,824.4" stroke="#8aeef6" stroke-opacity="0.7" stroke-width="4.6"/>
<path d="M1048.8,720.0 L1048.6,712.5 Q1048.3,705.0 1054.0,699.3 L1059.6,693.7" stroke="#9af4e0" stroke-opacity="0.65" stroke-width="6.4"/>
<path d="M1107.5,751.8 L1106.2,757.3 Q1105.0,762.9 1104.9,771.1 L1104.7,779.3" stroke="#9af4e0" stroke-opacity="0.65" stroke-width="6.3"/>
<ellipse cx="1039.7" cy="762.2" rx="9.4" ry="11.2" stroke="#9af4e0" stroke-opacity="0.65" stroke-width="5.2"/>
<path d="M1097.9,794.0 L1095.7,787.5 Q1093.4,780.9 1094.3,776.3 L1095.2,771.7" stroke="#8aeef6" stroke-opacity="0.7" stroke-width="6.0"/>
<ellipse cx="1026.8" cy="750.4" rx="8.7" ry="12.0" stroke="#8aeef6" stroke-opacity="0.7" stroke-width="6.0"/>
<path d="M1029.7,782.7 L1025.8,775.8 Q1022.0,769.0 1021.1,764.1 L1020.3,759.3" stroke="#7fe0f8" stroke-opacity="0.55" stroke-width="5.6"/>
<path d="M1027.8,786.0 L1023.0,784.7 Q1018.3,783.3 1011.5,788.1 Q1004.7,792.9 997.7,789.2 Q990.8,785.4 983.8,786.5 L976.8,787.6" stroke="#7fe0f8" stroke-opacity="0.55" stroke-width="4.8"/>
<path d="M1038.7,756.2 L1044.1,755.7 Q1049.4,755.2 1055.9,753.9 Q1062.5,752.6 1066.8,747.2 L1071.0,741.9" stroke="#9af4e0" stroke-opacity="0.65" stroke-width="6.1"/>
<ellipse cx="1257.8" cy="805.7" rx="9.6" ry="13.8" stroke="#e0f060" stroke-opacity="0.55" stroke-width="6.1"/>
<path d="M1279.6,775.8 L1274.5,781.6 Q1269.4,787.4 1266.4,795.1 Q1263.4,802.7 1259.7,805.9 Q1256.1,809.0 1253.0,813.4 L1249.9,817.8" stroke="#c0f088" stroke-opacity="0.6" stroke-width="7.0"/>
<path d="M1300.8,752.8 L1304.6,756.7 Q1308.5,760.5 1316.6,758.8 Q1324.7,757.0 1331.5,751.9 Q1338.3,746.8 1337.8,741.7 L1337.3,736.5" stroke="#e0f060" stroke-opacity="0.55" stroke-width="6.3"/>
<path d="M1192.3,776.2 L1199.7,779.5 Q1207.0,782.8 1214.1,784.4 L1221.2,785.9" stroke="#e0f060" stroke-opacity="0.55" stroke-width="4.7"/>
<path d="M1148.6,810.7 L1148.6,819.3 Q1148.6,827.9 1147.0,833.5 Q1145.4,839.1 1149.1,846.2 L1152.7,853.3" stroke="#9af4e0" stroke-opacity="0.65" stroke-width="6.8"/>
<path d="M1292.3,758.5 L1296.1,760.8 Q1299.9,763.1 1304.7,764.0 Q1309.5,764.9 1313.8,764.3 L1318.1,763.6" stroke="#9af4e0" stroke-opacity="0.65" stroke-width="5.6"/>
<path d="M1251.1,816.5 L1249.7,821.9 Q1248.2,827.2 1252.0,833.5 Q1255.7,839.8 1255.2,844.5 Q1254.8,849.1 1259.1,854.5 L1263.5,859.8" stroke="#e0f060" stroke-opacity="0.55" stroke-width="4.8"/>
<path d="M1240.7,758.8 L1240.7,750.4 Q1240.8,742.1 1235.5,739.1 Q1230.3,736.0 1227.4,729.0 Q1224.5,721.9 1216.4,720.2 L1208.3,718.5" stroke="#e0f060" stroke-opacity="0.55" stroke-width="6.7"/>
<ellipse cx="1313.9" cy="750.1" rx="10.2" ry="11.2" stroke="#8aeef6" stroke-opacity="0.7" stroke-width="5.0"/>
<path d="M1226.4,786.6 L1222.3,788.2 Q1218.3,789.8 1213.7,792.1 L1209.1,794.5" stroke="#c0f088" stroke-opacity="0.6" stroke-width="6.3"/>
<path d="M1161.4,816.9 L1155.5,815.1 Q1149.5,813.2 1145.0,813.2 Q1140.5,813.1 1136.8,817.3 Q1133.1,821.4 1132.3,826.4 L1131.5,831.5" stroke="#8aeef6" stroke-opacity="0.7" stroke-width="4.7"/>
<path d="M1147.2,739.3 L1153.5,740.5 Q1159.8,741.7 1166.0,742.9 Q1172.3,744.1 1176.1,741.8 Q1179.9,739.5 1186.0,743.1 L1192.2,746.7" stroke="#9af4e0" stroke-opacity="0.65" stroke-width="4.5"/>
<path d="M1291.9,820.0 L1288.1,815.7 Q1284.3,811.3 1277.9,812.1 Q1271.6,813.0 1266.6,819.8 Q1261.5,826.5 1256.5,833.4 L1251.5,840.2" stroke="#e0f060" stroke-opacity="0.55" stroke-width="4.9"/>
<path d="M1143.2,755.9 L1143.1,763.4 Q1143.1,770.9 1145.9,775.9 Q1148.6,780.9 1153.9,783.8 L1159.2,786.7" stroke="#c0f088" stroke-opacity="0.6" stroke-width="6.1"/>
<path d="M1136.9,749.8 L1129.0,751.9 Q1121.2,754.1 1113.9,757.6 Q1106.7,761.1 1101.9,759.4 Q1097.2,757.6 1090.8,758.3 L1084.4,759.1" stroke="#8aeef6" stroke-opacity="0.7" stroke-width="5.6"/>
<path d="M1219.8,814.0 L1214.9,807.7 Q1210.1,801.5 1210.2,793.7 L1210.3,785.9" stroke="#8aeef6" stroke-opacity="0.7" stroke-width="4.7"/>
<ellipse cx="1310.6" cy="803.6" rx="6.4" ry="8.3" stroke="#c0f088" stroke-opacity="0.6" stroke-width="6.1"/>
<path d="M1270.3,742.7 L1273.5,739.5 Q1276.7,736.3 1276.4,729.8 Q1276.1,723.4 1274.5,715.0 Q1272.9,706.5 1277.3,699.2 L1281.7,691.9" stroke="#c0f088" stroke-opacity="0.6" stroke-width="4.6"/>
<path d="M1162.8,755.2 L1167.9,758.8 Q1172.9,762.4 1173.5,768.5 Q1174.1,774.5 1178.6,779.6 L1183.1,784.8" stroke="#e0f060" stroke-opacity="0.55" stroke-width="5.5"/>
<path d="M1273.7,750.9 L1275.6,755.9 Q1277.5,760.9 1277.9,768.4 Q1278.4,775.9 1275.4,783.7 L1272.4,791.5" stroke="#8aeef6" stroke-opacity="0.7" stroke-width="5.1"/>
<path d="M1158.4,817.2 L1155.4,820.8 Q1152.5,824.5 1146.7,824.2 Q1140.9,823.9 1137.7,819.6 L1134.5,815.2" stroke="#8aeef6" stroke-opacity="0.7" stroke-width="6.0"/>
<path d="M1174.6,793.3 L1181.9,792.7 Q1189.2,792.1 1194.3,797.6 L1199.3,803.1" stroke="#8aeef6" stroke-opacity="0.7" stroke-width="6.8"/>
<path d="M1150.1,681.5 L1142.5,679.6 Q1134.9,677.8 1127.8,679.1 Q1120.7,680.3 1115.4,683.0 Q1110.2,685.6 1107.2,690.6 L1104.1,695.5" stroke="#8aeef6" stroke-opacity="0.6" stroke-width="6.7"/>
<path d="M1140.8,726.3 L1142.1,721.9 Q1143.3,717.6 1141.0,712.9 Q1138.7,708.2 1134.2,706.8 Q1129.6,705.5 1124.3,703.6 L1118.9,701.8" stroke="#84e4f8" stroke-opacity="0.5" stroke-width="5.3"/>
<path d="M1183.0,716.3 L1188.1,712.9 Q1193.1,709.6 1198.2,708.7 Q1203.3,707.9 1208.9,713.0 L1214.6,718.0" stroke="#84e4f8" stroke-opacity="0.5" stroke-width="4.9"/>
<path d="M1077.4,612.6 L1074.8,620.0 Q1072.2,627.4 1074.4,634.7 Q1076.5,642.0 1073.0,646.3 Q1069.4,650.5 1065.2,651.6 L1061.1,652.8" stroke="#84e4f8" stroke-opacity="0.5" stroke-width="6.1"/>
<ellipse cx="1030.9" cy="585.3" rx="7.1" ry="7.3" stroke="#84e4f8" stroke-opacity="0.5" stroke-width="5.0"/>
</g>
<g filter="url(#bsD)">
<ellipse cx="759.9" cy="741.0" rx="2.8" ry="6.6" fill="none" stroke="#e02010" stroke-width="5" stroke-opacity="1.0"/>
<ellipse cx="759.9" cy="741.0" rx="4.9" ry="8.5" fill="none" stroke="#f0e840" stroke-width="4" stroke-opacity="0.7"/>
<ellipse cx="794.7" cy="734.4" rx="7.0" ry="5.6" fill="none" stroke="#f0d040" stroke-width="5" stroke-opacity="0.9"/>
<ellipse cx="794.7" cy="734.4" rx="4.2" ry="2.8" fill="none" stroke="#e04010" stroke-width="3" stroke-opacity="0.6"/>
<ellipse cx="834.6" cy="709.4" rx="12.5" ry="3.8" fill="none" stroke="#f0d040" stroke-width="5" stroke-opacity="0.95" transform="rotate(25 834.6 709.4)"/>
<ellipse cx="833.3" cy="709.2" rx="7.0" ry="2.3" fill="none" stroke="#e02010" stroke-width="3" stroke-opacity="0.7" transform="rotate(25 833.3 709.2)"/>
<ellipse cx="921.2" cy="692.3" rx="2.1" ry="16.9" fill="none" stroke="#f0e840" stroke-width="6" stroke-opacity="0.9" transform="rotate(-20 921.2 692.3)"/>
<ellipse cx="922.7" cy="699.4" rx="2.1" ry="6.6" fill="none" stroke="#d01010" stroke-width="4" stroke-opacity="0.9" transform="rotate(-20 922.7 699.4)"/>
<ellipse cx="912.8" cy="686.6" rx="1.7" ry="9.4" fill="none" stroke="#e8e850" stroke-width="4" stroke-opacity="0.7" transform="rotate(-25 912.8 686.6)"/>
<ellipse cx="854.5" cy="641.5" rx="4.9" ry="5.6" fill="none" stroke="#d8f070" stroke-width="5" stroke-opacity="0.8"/>
<ellipse cx="872.4" cy="656.6" rx="4.9" ry="9.4" fill="none" stroke="#8ae8f2" stroke-width="4" stroke-opacity="0.7"/>
<ellipse cx="889.1" cy="645.3" rx="8.4" ry="5.6" fill="none" stroke="#8ae8f2" stroke-width="4" stroke-opacity="0.6"/>
<ellipse cx="1050.5" cy="747.7" rx="2.8" ry="13.2" fill="none" stroke="#d8ea60" stroke-width="5" stroke-opacity="0.8" transform="rotate(-20 1050.5 747.7)"/>
<ellipse cx="1063.9" cy="721.0" rx="2.8" ry="11.3" fill="none" stroke="#c8f070" stroke-width="5" stroke-opacity="0.7" transform="rotate(15 1063.9 721.0)"/>
<ellipse cx="1074.5" cy="761.8" rx="8.4" ry="4.7" fill="none" stroke="#e0ea60" stroke-width="5" stroke-opacity="0.7" transform="rotate(30 1074.5 761.8)"/>
<ellipse cx="1081.5" cy="782.5" rx="3.5" ry="11.3" fill="none" stroke="#c8f070" stroke-width="5" stroke-opacity="0.6" transform="rotate(-20 1081.5 782.5)"/>
<ellipse cx="1105.2" cy="763.7" rx="7.0" ry="5.6" fill="none" stroke="#8ae8f2" stroke-width="5" stroke-opacity="0.7"/>
<ellipse cx="1028.5" cy="773.1" rx="5.6" ry="11.3" fill="none" stroke="#8ae8f2" stroke-width="4" stroke-opacity="0.6"/>
<ellipse cx="1216.7" cy="777.6" rx="4.9" ry="9.4" fill="none" stroke="#f0e040" stroke-width="6" stroke-opacity="0.95"/>
<ellipse cx="1218.1" cy="775.0" rx="1.4" ry="3.8" fill="none" stroke="#e03010" stroke-width="3" stroke-opacity="0.8"/>
<ellipse cx="1210.1" cy="804.1" rx="5.6" ry="4.7" fill="none" stroke="#f0d040" stroke-width="6" stroke-opacity="0.95"/>
<ellipse cx="1209.7" cy="804.1" rx="2.8" ry="1.9" fill="none" stroke="#e02010" stroke-width="3" stroke-opacity="0.7"/>
<ellipse cx="1306.3" cy="767.5" rx="5.6" ry="11.3" fill="none" stroke="#f0e040" stroke-width="6" stroke-opacity="0.95"/>
<ellipse cx="1305.2" cy="769.3" rx="1.7" ry="3.8" fill="none" stroke="#e03010" stroke-width="3" stroke-opacity="0.8"/>
<ellipse cx="1283.6" cy="788.1" rx="4.2" ry="7.5" fill="none" stroke="#d8f070" stroke-width="5" stroke-opacity="0.7"/>
<ellipse cx="1244.6" cy="782.5" rx="7.0" ry="5.6" fill="none" stroke="#8ae8f2" stroke-width="4" stroke-opacity="0.7"/>
<ellipse cx="1174.9" cy="791.9" rx="8.4" ry="5.6" fill="none" stroke="#8ae8f2" stroke-width="4" stroke-opacity="0.6"/>
<ellipse cx="1140.0" cy="782.5" rx="5.6" ry="7.5" fill="none" stroke="#8ae8f2" stroke-width="4" stroke-opacity="0.6"/>
<ellipse cx="1188.8" cy="769.3" rx="5.6" ry="5.6" fill="none" stroke="#d8f070" stroke-width="4" stroke-opacity="0.7"/>
<ellipse cx="1258.5" cy="801.3" rx="7.0" ry="5.6" fill="none" stroke="#8ae8f2" stroke-width="4" stroke-opacity="0.6"/>
<ellipse cx="1098.2" cy="801.3" rx="7.0" ry="5.6" fill="none" stroke="#8ae8f2" stroke-width="4" stroke-opacity="0.6"/>
<ellipse cx="1000.6" cy="773.1" rx="5.6" ry="7.5" fill="none" stroke="#8ae8f2" stroke-width="4" stroke-opacity="0.5"/>
<ellipse cx="993.6" cy="669.7" rx="7.0" ry="5.6" fill="none" stroke="#8ae8f2" stroke-width="4" stroke-opacity="0.5"/>
</g>
</g>
<path d="M728.8,729.9 L741.3,729.9 L744.8,728.9 L747.6,727.6 L751.1,726.1 L758.1,722.0 L763.6,721.6 L770.6,722.0 L777.6,721.4 L783.2,722.0 L786.6,719.9 L790.1,721.8 L792.2,717.7 L795.7,711.1 L801.3,706.4 L806.2,705.4 L809.6,704.5 L808.9,698.9 L811.7,693.2 L815.9,688.5 L820.8,685.7 L822.6,683.8 L818.7,680.1 L815.9,673.5 L814.8,669.7 L817.3,663.2 L820.8,657.5 L825.7,651.9 L831.9,647.2 L830.5,644.4 L834.7,640.6 L841.7,637.8 L849.4,635.0 L855.6,630.3 L863.3,625.6 L864.0,620.9 L865.4,617.1 L861.9,613.4 L861.9,605.8 L865.4,599.3 L871.0,596.1 L876.6,593.6 L883.5,596.8 L887.7,596.4 L893.3,598.3 L897.5,600.6 L902.3,602.1 L907.9,602.1 L912.8,599.3 L916.3,594.6 L921.2,590.8 L925.3,589.3 L930.9,587.4 L936.5,581.4 L943.5,577.3 L950.4,579.9 L956.7,583.7 L961.6,587.0 L963.0,593.6 L965.8,600.2 L965.8,604.9 L969.3,607.7 L974.1,612.4 L979.7,616.2 L983.9,620.9 L990.2,628.0 L995.0,633.1 L1001.3,636.8 L1009.0,636.8 L1013.2,640.6 L1015.3,645.3 L1018.7,644.7 L1020.8,648.1 L1019.4,649.1 L1025.0,648.1 L1028.5,652.8 L1027.8,656.6 L1032.7,659.8 L1037.6,659.4 L1039.7,666.0 L1043.1,672.6 L1045.2,680.1 L1042.4,683.8 L1040.3,685.7 L1041.7,688.5 L1037.6,694.2 L1037.6,698.9 L1043.1,699.4 L1049.4,691.3 L1050.8,682.9 L1058.5,680.1 L1057.8,671.6 L1049.4,666.0 L1050.1,659.4 L1055.0,652.8 L1059.2,651.9 L1064.0,655.1 L1069.6,658.5 L1075.2,664.1 L1077.3,658.5 L1076.6,654.7 L1070.3,648.1 L1062.0,643.4 L1054.3,638.7 L1045.2,634.0 L1041.7,630.3 L1044.5,624.6 L1038.3,624.1 L1030.6,624.1 L1024.3,620.9 L1018.0,614.3 L1012.5,605.8 L1009.0,594.6 L1003.4,589.9 L995.0,583.3 L990.9,575.8 L993.6,568.2 L990.9,562.6 L995.0,557.0 L1002.0,553.2 L1010.4,553.2 L1009.0,557.9 L1007.6,562.6 L1010.4,568.2 L1014.6,566.4 L1018.7,560.7 L1022.2,561.7 L1027.1,570.1 L1033.4,579.5 L1036.9,585.2 L1041.7,592.7 L1048.0,594.6 L1055.0,596.4 L1062.0,603.0 L1067.5,605.8 L1071.7,610.5 L1077.3,614.3 L1080.8,617.1 L1084.3,620.9 L1089.8,625.6 L1092.6,629.3 L1090.5,635.9 L1090.5,643.4 L1089.1,649.1 L1090.5,653.8 L1095.4,660.3 L1098.9,666.0 L1101.7,670.7 L1105.9,675.4 L1108.0,678.2 L1108.7,682.9 L1111.4,686.6 L1113.5,690.4 L1117.0,691.3 L1122.6,691.7 L1127.5,690.8 L1133.1,690.8 L1137.9,694.2 L1142.1,697.5 L1139.3,699.4 L1134.4,697.0 L1128.9,695.1 L1124.0,692.9 L1121.2,694.5 L1117.7,695.1 L1114.2,699.4 L1117.0,703.6 L1120.5,713.0 L1121.9,719.5 L1125.4,720.5 L1127.5,715.8 L1131.0,724.2 L1133.1,727.6 L1135.1,720.5 L1137.9,722.4 L1140.0,727.1 L1142.8,727.1 L1140.7,718.6 L1136.5,707.3 L1142.1,711.1 L1147.0,708.3 L1145.6,702.6 L1149.8,698.9 L1154.7,704.5 L1158.1,697.9 L1161.6,697.0 L1156.1,686.6 L1145.6,679.1 L1140.0,677.3 L1139.3,671.6 L1144.9,675.4 L1138.6,666.0 L1133.7,660.3 L1135.1,650.9 L1139.3,649.1 L1138.6,651.9 L1144.2,655.6 L1145.6,661.3 L1150.5,661.7 L1147.0,655.6 L1150.5,656.6 L1153.3,661.3 L1154.7,656.6 L1153.3,654.7 L1155.4,655.6 L1159.5,657.5 L1158.1,654.7 L1153.3,650.9 L1151.2,646.2 L1160.2,643.4 L1169.3,642.5 L1180.4,644.4 L1183.2,649.1 L1185.3,653.8 L1191.6,651.9 L1200.0,648.1 L1209.7,641.5 L1218.1,640.6 L1224.4,640.6 L1227.8,645.3 L1223.7,648.1 L1218.1,652.8 L1206.9,653.8 L1202.8,651.9 L1191.6,655.6 L1185.3,659.4 L1183.9,669.7 L1194.4,669.7 L1191.6,677.3 L1195.1,682.9 L1193.7,689.5 L1187.4,689.5 L1186.7,693.2 L1194.4,696.0 L1199.3,700.7 L1199.3,710.1 L1203.4,717.7 L1211.1,720.5 L1204.1,723.3 L1213.9,721.4 L1218.1,721.4 L1225.1,724.2 L1232.0,731.8 L1240.4,729.9 L1244.6,727.1 L1245.3,719.5 L1250.8,719.5 L1258.5,721.4 L1265.5,725.2 L1272.5,732.7 L1277.3,734.6 L1287.8,732.7 L1294.1,729.9 L1298.2,722.4 L1303.8,720.5 L1311.5,724.2 L1316.4,724.2 L1321.9,717.7 L1324.0,724.2 L1319.2,729.9 L1320.5,737.4 L1319.2,745.9 L1319.9,754.3 L1320.5,760.9 L1316.4,767.5 L1314.3,775.0 L1311.5,783.4 L1308.7,791.0 L1306.6,795.7 L1305.2,803.2 L1303.1,811.6 L1299.6,819.1 L1296.2,823.8 L1290.6,826.7 L1283.6,827.6 L1275.2,828.5 L1269.7,824.8 L1264.1,820.1 L1258.5,819.1 L1251.5,819.1 L1243.2,820.1 L1238.3,823.8 L1233.4,827.6 L1226.5,831.4 L1218.1,830.4 L1208.3,827.6 L1200.0,822.9 L1188.8,820.1 L1179.1,818.2 L1170.0,818.2 L1165.8,811.6 L1155.4,810.7 L1147.0,806.9 L1141.4,799.4 L1134.4,795.7 L1128.9,793.8 L1119.1,793.8 L1110.7,798.5 L1102.4,804.1 L1098.9,810.7 L1099.6,822.0 L1096.1,830.4 L1089.8,838.9 L1082.9,840.8 L1074.5,836.1 L1064.7,830.4 L1053.6,825.7 L1045.2,823.8 L1036.9,818.2 L1032.0,806.9 L1022.9,801.3 L1011.8,795.7 L1003.4,793.8 L993.6,795.7 L985.3,791.0 L978.3,788.1 L974.1,786.3 L971.3,780.6 L966.5,779.7 L960.2,775.9 L959.5,769.3 L965.1,762.8 L970.0,757.1 L974.1,750.6 L971.3,744.0 L967.2,738.3 L965.8,731.8 L970.6,727.1 L974.1,718.6 L970.6,716.7 L965.8,721.4 L962.3,719.5 L962.3,713.9 L956.7,711.1 L949.0,712.0 L942.1,716.7 L939.3,717.7 L928.1,717.7 L921.2,715.8 L910.0,718.6 L905.8,715.8 L896.1,720.5 L889.8,722.4 L882.1,718.6 L873.8,718.6 L864.0,720.9 L858.4,722.4 L851.5,724.2 L840.3,726.1 L831.9,730.8 L823.6,737.4 L816.6,739.3 L811.0,740.2 L805.5,743.0 L799.9,748.7 L792.9,752.4 L787.3,752.4 L781.8,752.4 L778.3,748.7 L773.4,750.6 L765.0,749.6 L758.1,751.5 L752.5,748.7 L747.6,746.4 L745.5,744.9 L743.4,744.0 L741.3,744.0 L728.8,744.0 Z" fill="none" stroke="#00007f" stroke-width="1.1"/>
<g fill="none" stroke="#00007f" stroke-width="1.1" stroke-linecap="round">
<polyline points="756.8,693.7 760.7,692.7"/>
<polyline points="771.5,672.6 773.8,670.6"/>
<polyline points="799.4,668.7 801.7,670.8"/>
<polyline points="781.3,655.7 783.6,653.7"/>
<polyline points="746.8,707.8 749.8,708.8"/>
<polyline points="748.2,678.7 751.2,677.7"/>
<polyline points="814.0,636.2 817.8,634.7"/>
<polyline points="753.4,625.7 755.7,623.6"/>
<polyline points="792.1,617.7 793.7,614.6"/>
<polyline points="826.7,622.9 827.5,618.8"/>
<polyline points="774.3,642.4 776.6,644.5"/>
<polyline points="767.4,611.0 769.7,610.0"/>
<polyline points="806.1,687.1 807.6,688.1"/>
<polyline points="788.0,699.4 789.5,698.4"/>
<polyline points="765.7,714.4 767.2,713.4"/>
<polyline points="750.9,599.8 754.0,598.7"/>
<polyline points="840.9,611.9 842.5,612.9"/>
<polyline points="815.8,614.4 817.4,612.3"/>
<ellipse cx="890.5" cy="595.5" rx="1.7" ry="1.5"/>
<ellipse cx="869.6" cy="596.4" rx="2.1" ry="0.9"/>
<ellipse cx="968.6" cy="555.1" rx="1.1" ry="4.7"/>
<ellipse cx="939.3" cy="549.5" rx="0.7" ry="4.7"/>
<ellipse cx="948.3" cy="548.5" rx="0.7" ry="3.8"/>
<ellipse cx="988.1" cy="601.1" rx="1.7" ry="1.5"/>
<ellipse cx="985.3" cy="611.5" rx="1.4" ry="1.9"/>
<ellipse cx="1035.5" cy="624.6" rx="2.1" ry="0.9"/>
<ellipse cx="1088.4" cy="619.0" rx="2.1" ry="2.3"/>
<ellipse cx="1108.7" cy="641.5" rx="1.1" ry="2.8"/>
<ellipse cx="1112.1" cy="644.4" rx="1.1" ry="2.3"/>
<polyline points="1038.6,557.8 1046.3,559.9"/>
<polyline points="1079.5,578.5 1084.9,580.6"/>
<polyline points="1120.7,596.7 1124.5,601.8"/>
<ellipse cx="1145.6" cy="647.2" rx="1.7" ry="0.9"/>
<ellipse cx="1120.5" cy="687.6" rx="2.1" ry="0.9"/>
<ellipse cx="1116.3" cy="650.9" rx="0.8" ry="1.1"/>
<polyline points="1134.3,633.4 1137.4,636.5"/>
<polyline points="1150.1,614.2 1157.8,616.3"/>
<ellipse cx="1230.6" cy="651.9" rx="2.1" ry="1.1"/>
<ellipse cx="1218.1" cy="656.6" rx="1.7" ry="1.1"/>
<ellipse cx="1209.0" cy="656.6" rx="1.4" ry="1.1"/>
<ellipse cx="1249.5" cy="700.7" rx="0.8" ry="3.8"/>
<ellipse cx="1258.5" cy="702.6" rx="1.7" ry="3.4"/>
<ellipse cx="1240.4" cy="703.6" rx="1.7" ry="0.9"/>
<ellipse cx="1285.0" cy="682.9" rx="2.8" ry="5.6"/>
<ellipse cx="1234.8" cy="701.7" rx="1.1" ry="0.8"/>
<ellipse cx="1272.5" cy="688.5" rx="1.1" ry="1.1"/>
<ellipse cx="1300.3" cy="669.7" rx="0.8" ry="1.5"/>
<polyline points="1308.9,689.8 1312.7,692.9"/>
<polyline points="1306.7,646.1 1312.1,648.2"/>
<polyline points="1241.3,670.8 1243.6,668.7"/>
<polyline points="1214.9,676.2 1217.2,678.3"/>
<polyline points="1203.7,698.8 1206.0,700.8"/>
<ellipse cx="907.2" cy="769.3" rx="7.0" ry="1.9"/>
<ellipse cx="936.5" cy="778.7" rx="11.2" ry="2.8"/>
<ellipse cx="961.6" cy="754.3" rx="1.7" ry="1.1"/>
<ellipse cx="897.5" cy="740.2" rx="2.8" ry="1.1"/>
<ellipse cx="826.4" cy="746.8" rx="5.6" ry="1.5"/>
<polyline points="857.5,758.9 862.1,761.0"/>
<polyline points="788.6,761.0 791.7,758.9"/>
<polyline points="764.6,772.7 766.9,771.6"/>
<polyline points="883.7,744.5 887.5,743.4"/>
<ellipse cx="1282.2" cy="826.7" rx="4.9" ry="0.9"/>
<ellipse cx="1265.5" cy="824.8" rx="2.8" ry="1.5"/>
<ellipse cx="1248.8" cy="821.0" rx="3.5" ry="0.9"/>
<ellipse cx="1236.2" cy="828.5" rx="1.7" ry="0.8"/>
<polyline points="1269.7,823.8 1270.4,837.0 1272.5,846.4 1273.2,852.0"/>
<ellipse cx="1315.7" cy="795.7" rx="0.8" ry="2.3"/>
<ellipse cx="1314.3" cy="821.0" rx="1.0" ry="6.6"/>
<polyline points="1315.1,789.4 1315.5,792.5"/>
<polyline points="1099.1,831.2 1101.4,835.3"/>
<polyline points="1134.6,830.3 1138.4,832.4"/>
<polyline points="1029.4,830.7 1031.7,833.8"/>
<polyline points="994.6,820.9 996.9,823.0"/>
<polyline points="1183.1,837.8 1186.2,839.9"/>
<polyline points="1217.9,839.7 1221.0,841.8"/>
<polyline points="848.5,574.5 851.6,571.4"/>
<polyline points="827.6,577.0 830.7,580.1"/>
<polyline points="869.1,550.5 871.4,548.4"/>
<polyline points="901.5,563.6 904.6,561.6"/>
<polyline points="916.5,580.1 918.8,577.0"/>
</g>
<path d="M852.2,668.8 L857.0,669.7 L861.9,674.1 L865.4,671.6 L867.5,666.0 L864.0,661.3 L858.4,663.2 L852.2,667.9 Z" fill="#808080" stroke="#00007f" stroke-width="1"/>
<path d="M872.4,661.3 L879.3,663.2 L879.3,660.9 L873.1,659.0 Z" fill="#808080" stroke="#00007f" stroke-width="1"/>
<path d="M836.1,680.1 L840.3,681.4 L841.7,678.2 L837.5,676.9 Z" fill="#808080" stroke="#00007f" stroke-width="1"/>
<path d="M938.6,615.6 L939.3,623.7 L941.4,630.3 L946.3,634.0 L950.4,630.3 L951.8,620.9 L952.5,609.6 L951.1,604.0 L949.7,604.9 L949.0,609.6 L940.7,612.4 Z" fill="#808080" stroke="#00007f" stroke-width="1"/>
<path d="M933.7,642.5 L937.9,645.3 L936.5,653.8 L938.6,662.2 L936.5,669.7 L939.3,680.1 L942.8,681.0 L946.3,675.4 L952.5,676.3 L953.9,669.7 L954.6,660.3 L956.0,649.1 L952.5,641.5 L949.0,636.8 L942.1,639.7 Z" fill="#808080" stroke="#00007f" stroke-width="1"/>
<path d="M992.3,699.8 L993.0,695.1 L998.5,697.0 L1005.5,694.2 L1014.6,697.0 L1022.9,697.0 L1029.9,695.1 L1036.9,692.7 L1032.0,702.6 L1029.2,710.1 L1032.0,716.7 L1029.9,723.3 L1021.5,720.5 L1018.7,715.8 L1007.6,713.0 L999.2,706.4 L994.3,704.5 Z" fill="#808080" stroke="#00007f" stroke-width="1"/>
<path d="M1147.0,748.7 L1148.4,743.0 L1155.4,744.0 L1162.3,746.8 L1172.1,746.8 L1179.1,748.7 L1186.0,748.7 L1184.6,754.3 L1174.9,754.7 L1165.1,755.8 L1154.0,750.6 L1147.7,750.6 Z" fill="#808080" stroke="#00007f" stroke-width="1"/>
<path d="M1269.7,753.4 L1273.8,759.9 L1279.4,761.8 L1289.2,755.2 L1293.4,752.4 L1301.7,741.2 L1292.0,745.9 L1279.4,747.7 L1278.0,751.5 Z" fill="#808080" stroke="#00007f" stroke-width="1"/>
<path d="M1205.5,733.6 L1209.7,728.0 L1213.2,727.1 L1212.5,733.6 L1206.9,737.4 Z" fill="#808080" stroke="#00007f" stroke-width="1"/>
<path d="M1137.9,682.0 L1144.2,685.7 L1148.4,690.4 L1155.4,695.1 L1162.3,697.9 L1158.1,692.3 L1154.0,685.7 L1145.6,679.1 L1139.3,679.5 Z" fill="#808080" stroke="#00007f" stroke-width="1"/>
<path d="M1179.8,675.4 L1184.6,679.1 L1190.2,678.2 L1187.4,672.6 L1181.8,672.6 Z" fill="#808080" stroke="#00007f" stroke-width="1"/>
<path d="M1179.8,692.3 L1183.9,693.2 L1183.2,686.6 L1180.4,687.6 Z" fill="#808080" stroke="#00007f" stroke-width="1"/>
<path d="M1189.5,703.6 L1195.8,704.5 L1194.4,701.7 Z" fill="#808080" stroke="#00007f" stroke-width="1"/>
<path d="M1103.1,694.2 L1108.0,696.0 L1106.6,689.5 L1104.5,690.4 Z" fill="#808080" stroke="#00007f" stroke-width="1"/>
<path d="M1093.3,665.0 L1099.6,666.9 L1096.8,670.7 L1095.4,667.9 Z" fill="#808080" stroke="#00007f" stroke-width="1"/>
<path d="M1017.3,734.6 L1022.2,738.3 L1020.1,736.5 Z" fill="#808080" stroke="#00007f" stroke-width="1"/>
<path d="M960.2,608.7 L965.1,608.7 L963.0,606.8 Z" fill="#808080" stroke="#00007f" stroke-width="1"/>
<path d="M1172.8,716.7 L1175.6,716.7 L1174.9,713.0 L1172.8,713.9 Z" fill="#808080" stroke="#00007f" stroke-width="1"/>
<path d="M1169.3,716.7 L1171.4,716.7 L1170.7,713.9 Z" fill="#808080" stroke="#00007f" stroke-width="1"/>
<path d="M1163.7,700.7 L1167.9,703.6 L1167.2,698.9 Z" fill="#808080" stroke="#00007f" stroke-width="1"/>
<path d="M1168.6,662.2 L1173.5,664.1 L1172.8,660.3 Z" fill="#808080" stroke="#00007f" stroke-width="1"/>
<path d="M1161.6,649.1 L1165.1,649.1 L1163.7,645.3 Z" fill="#808080" stroke="#00007f" stroke-width="1"/>
<path d="M1197.2,746.8 L1198.6,746.8 L1199.3,739.3 L1197.9,739.3 Z" fill="#808080" stroke="#00007f" stroke-width="1"/>
<path d="M1195.1,720.5 L1200.7,719.5 L1198.6,718.6 Z" fill="#808080" stroke="#00007f" stroke-width="1"/>
<path d="M969.3,778.7 L973.4,776.9 L971.3,775.0 Z" fill="#808080" stroke="#00007f" stroke-width="1"/>
<path d="M1107.3,702.6 L1111.4,702.6 L1109.4,699.8 Z" fill="#808080" stroke="#00007f" stroke-width="1"/>
<path d="M1138.6,732.7 L1141.4,731.8 L1140.0,728.9 Z" fill="#808080" stroke="#00007f" stroke-width="1"/>
<path d="M1181.8,706.4 L1186.7,704.5 L1183.2,704.5 Z" fill="#808080" stroke="#00007f" stroke-width="1"/>
<path d="M1158.8,722.4 L1161.6,722.4 L1160.2,720.9 Z" fill="#808080" stroke="#00007f" stroke-width="1"/>
<path d="M1172.8,728.9 L1174.6,728.4 L1173.8,727.1 Z" fill="#808080" stroke="#00007f" stroke-width="1"/>
<path d="M1159.5,682.0 L1163.0,682.0 L1161.6,680.1 Z" fill="#808080" stroke="#00007f" stroke-width="1"/>
</g>
<rect x="739.8" y="540.1" width="591.2" height="314.9" fill="none" stroke="#a9a9c4" stroke-width="1"/>
<g fill="#00007f">
<rect x="763.6" y="540.6" width="55.8" height="3.4"/>
<rect x="763.6" y="851.1" width="55.8" height="3.4"/>
<rect x="875.2" y="540.6" width="55.8" height="3.4"/>
<rect x="875.2" y="851.1" width="55.8" height="3.4"/>
<rect x="986.7" y="540.6" width="55.8" height="3.4"/>
<rect x="986.7" y="851.1" width="55.8" height="3.4"/>
<rect x="1098.2" y="540.6" width="55.8" height="3.4"/>
<rect x="1098.2" y="851.1" width="55.8" height="3.4"/>
<rect x="1209.7" y="540.6" width="55.8" height="3.4"/>
<rect x="1209.7" y="851.1" width="55.8" height="3.4"/>
<rect x="740.3" y="735.5" width="3.4" height="75.2"/>
<rect x="1327.1" y="735.5" width="3.4" height="75.2"/>
<rect x="740.3" y="585.2" width="3.4" height="75.2"/>
<rect x="1327.1" y="585.2" width="3.4" height="75.2"/>
</g>
<rect x="743.5" y="544.0" width="62.9" height="53.3" fill="#fff"/>
<text x="774.6" y="580.3" text-anchor="middle" font-family="Liberation Sans, sans-serif" font-size="32" fill="#000">(D)</text>
<text x="761.9" y="821.0" font-family="DejaVu Sans, sans-serif" font-weight="200" font-size="31" fill="#f5f53c" textLength="64.2" lengthAdjust="spacingAndGlyphs">AUG</text>
<text x="840.7" y="821.0" font-family="DejaVu Sans, sans-serif" font-weight="200" font-size="31" fill="#f5f53c" textLength="82.1" lengthAdjust="spacingAndGlyphs">2024</text>
<line x1="819.4" y1="544.0" x2="819.4" y2="851.1" stroke="#93aaa0" stroke-width="1" opacity="0.8"/>
<text x="767.1" y="535.5" text-anchor="middle" font-family="DejaVu Sans, sans-serif" font-weight="200" stroke="#1e1e88" stroke-width="0.45" font-size="21" fill="#1e1e88">−4<tspan fill="#3a6fd0" font-weight="400" stroke="#3a6fd0" stroke-width="0.5" font-size="20" dx="-1.5" dy="0.8">°</tspan></text>
<text x="767.1" y="876.0" text-anchor="middle" font-family="DejaVu Sans, sans-serif" font-weight="200" stroke="#1e1e88" stroke-width="0.45" font-size="21" fill="#1e1e88">−4<tspan fill="#3a6fd0" font-weight="400" stroke="#3a6fd0" stroke-width="0.5" font-size="20" dx="-1.5" dy="0.8">°</tspan></text>
<text x="822.9" y="535.5" text-anchor="middle" font-family="DejaVu Sans, sans-serif" font-weight="200" stroke="#1e1e88" stroke-width="0.45" font-size="21" fill="#1e1e88">0<tspan fill="#3a6fd0" font-weight="400" stroke="#3a6fd0" stroke-width="0.5" font-size="20" dx="-1.5" dy="0.8">°</tspan></text>
<text x="822.9" y="876.0" text-anchor="middle" font-family="DejaVu Sans, sans-serif" font-weight="200" stroke="#1e1e88" stroke-width="0.45" font-size="21" fill="#1e1e88">0<tspan fill="#3a6fd0" font-weight="400" stroke="#3a6fd0" stroke-width="0.5" font-size="20" dx="-1.5" dy="0.8">°</tspan></text>
<text x="878.7" y="535.5" text-anchor="middle" font-family="DejaVu Sans, sans-serif" font-weight="200" stroke="#1e1e88" stroke-width="0.45" font-size="21" fill="#1e1e88">4<tspan fill="#3a6fd0" font-weight="400" stroke="#3a6fd0" stroke-width="0.5" font-size="20" dx="-1.5" dy="0.8">°</tspan></text>
<text x="878.7" y="876.0" text-anchor="middle" font-family="DejaVu Sans, sans-serif" font-weight="200" stroke="#1e1e88" stroke-width="0.45" font-size="21" fill="#1e1e88">4<tspan fill="#3a6fd0" font-weight="400" stroke="#3a6fd0" stroke-width="0.5" font-size="20" dx="-1.5" dy="0.8">°</tspan></text>
<text x="934.4" y="535.5" text-anchor="middle" font-family="DejaVu Sans, sans-serif" font-weight="200" stroke="#1e1e88" stroke-width="0.45" font-size="21" fill="#1e1e88">8<tspan fill="#3a6fd0" font-weight="400" stroke="#3a6fd0" stroke-width="0.5" font-size="20" dx="-1.5" dy="0.8">°</tspan></text>
<text x="934.4" y="876.0" text-anchor="middle" font-family="DejaVu Sans, sans-serif" font-weight="200" stroke="#1e1e88" stroke-width="0.45" font-size="21" fill="#1e1e88">8<tspan fill="#3a6fd0" font-weight="400" stroke="#3a6fd0" stroke-width="0.5" font-size="20" dx="-1.5" dy="0.8">°</tspan></text>
<text x="990.2" y="535.5" text-anchor="middle" font-family="DejaVu Sans, sans-serif" font-weight="200" stroke="#1e1e88" stroke-width="0.45" font-size="21" fill="#1e1e88">12<tspan fill="#3a6fd0" font-weight="400" stroke="#3a6fd0" stroke-width="0.5" font-size="20" dx="-1.5" dy="0.8">°</tspan></text>
<text x="990.2" y="876.0" text-anchor="middle" font-family="DejaVu Sans, sans-serif" font-weight="200" stroke="#1e1e88" stroke-width="0.45" font-size="21" fill="#1e1e88">12<tspan fill="#3a6fd0" font-weight="400" stroke="#3a6fd0" stroke-width="0.5" font-size="20" dx="-1.5" dy="0.8">°</tspan></text>
<text x="1045.9" y="535.5" text-anchor="middle" font-family="DejaVu Sans, sans-serif" font-weight="200" stroke="#1e1e88" stroke-width="0.45" font-size="21" fill="#1e1e88">16<tspan fill="#3a6fd0" font-weight="400" stroke="#3a6fd0" stroke-width="0.5" font-size="20" dx="-1.5" dy="0.8">°</tspan></text>
<text x="1045.9" y="876.0" text-anchor="middle" font-family="DejaVu Sans, sans-serif" font-weight="200" stroke="#1e1e88" stroke-width="0.45" font-size="21" fill="#1e1e88">16<tspan fill="#3a6fd0" font-weight="400" stroke="#3a6fd0" stroke-width="0.5" font-size="20" dx="-1.5" dy="0.8">°</tspan></text>
<text x="1101.7" y="535.5" text-anchor="middle" font-family="DejaVu Sans, sans-serif" font-weight="200" stroke="#1e1e88" stroke-width="0.45" font-size="21" fill="#1e1e88">20<tspan fill="#3a6fd0" font-weight="400" stroke="#3a6fd0" stroke-width="0.5" font-size="20" dx="-1.5" dy="0.8">°</tspan></text>
<text x="1101.7" y="876.0" text-anchor="middle" font-family="DejaVu Sans, sans-serif" font-weight="200" stroke="#1e1e88" stroke-width="0.45" font-size="21" fill="#1e1e88">20<tspan fill="#3a6fd0" font-weight="400" stroke="#3a6fd0" stroke-width="0.5" font-size="20" dx="-1.5" dy="0.8">°</tspan></text>
<text x="1157.5" y="535.5" text-anchor="middle" font-family="DejaVu Sans, sans-serif" font-weight="200" stroke="#1e1e88" stroke-width="0.45" font-size="21" fill="#1e1e88">24<tspan fill="#3a6fd0" font-weight="400" stroke="#3a6fd0" stroke-width="0.5" font-size="20" dx="-1.5" dy="0.8">°</tspan></text>
<text x="1157.5" y="876.0" text-anchor="middle" font-family="DejaVu Sans, sans-serif" font-weight="200" stroke="#1e1e88" stroke-width="0.45" font-size="21" fill="#1e1e88">24<tspan fill="#3a6fd0" font-weight="400" stroke="#3a6fd0" stroke-width="0.5" font-size="20" dx="-1.5" dy="0.8">°</tspan></text>
<text x="1213.2" y="535.5" text-anchor="middle" font-family="DejaVu Sans, sans-serif" font-weight="200" stroke="#1e1e88" stroke-width="0.45" font-size="21" fill="#1e1e88">28<tspan fill="#3a6fd0" font-weight="400" stroke="#3a6fd0" stroke-width="0.5" font-size="20" dx="-1.5" dy="0.8">°</tspan></text>
<text x="1213.2" y="876.0" text-anchor="middle" font-family="DejaVu Sans, sans-serif" font-weight="200" stroke="#1e1e88" stroke-width="0.45" font-size="21" fill="#1e1e88">28<tspan fill="#3a6fd0" font-weight="400" stroke="#3a6fd0" stroke-width="0.5" font-size="20" dx="-1.5" dy="0.8">°</tspan></text>
<text x="1269.0" y="535.5" text-anchor="middle" font-family="DejaVu Sans, sans-serif" font-weight="200" stroke="#1e1e88" stroke-width="0.45" font-size="21" fill="#1e1e88">32<tspan fill="#3a6fd0" font-weight="400" stroke="#3a6fd0" stroke-width="0.5" font-size="20" dx="-1.5" dy="0.8">°</tspan></text>
<text x="1269.0" y="876.0" text-anchor="middle" font-family="DejaVu Sans, sans-serif" font-weight="200" stroke="#1e1e88" stroke-width="0.45" font-size="21" fill="#1e1e88">32<tspan fill="#3a6fd0" font-weight="400" stroke="#3a6fd0" stroke-width="0.5" font-size="20" dx="-1.5" dy="0.8">°</tspan></text>
<text transform="translate(735.5 807.2) rotate(-90)" text-anchor="middle" font-family="DejaVu Sans, sans-serif" font-weight="200" stroke="#1e1e88" stroke-width="0.45" font-size="21" fill="#1e1e88">32<tspan fill="#3a6fd0" font-weight="400" stroke="#3a6fd0" stroke-width="0.5" font-size="20" dx="-1.5" dy="0.8">°</tspan></text>
<text transform="translate(1334.5 814.2) rotate(90)" text-anchor="middle" font-family="DejaVu Sans, sans-serif" font-weight="200" stroke="#1e1e88" stroke-width="0.45" font-size="21" fill="#1e1e88">32<tspan fill="#3a6fd0" font-weight="400" stroke="#3a6fd0" stroke-width="0.5" font-size="20" dx="-1.5" dy="0.8">°</tspan></text>
<text transform="translate(735.5 732.0) rotate(-90)" text-anchor="middle" font-family="DejaVu Sans, sans-serif" font-weight="200" stroke="#1e1e88" stroke-width="0.45" font-size="21" fill="#1e1e88">36<tspan fill="#3a6fd0" font-weight="400" stroke="#3a6fd0" stroke-width="0.5" font-size="20" dx="-1.5" dy="0.8">°</tspan></text>
<text transform="translate(1334.5 739.0) rotate(90)" text-anchor="middle" font-family="DejaVu Sans, sans-serif" font-weight="200" stroke="#1e1e88" stroke-width="0.45" font-size="21" fill="#1e1e88">36<tspan fill="#3a6fd0" font-weight="400" stroke="#3a6fd0" stroke-width="0.5" font-size="20" dx="-1.5" dy="0.8">°</tspan></text>
<text transform="translate(735.5 656.8) rotate(-90)" text-anchor="middle" font-family="DejaVu Sans, sans-serif" font-weight="200" stroke="#1e1e88" stroke-width="0.45" font-size="21" fill="#1e1e88">40<tspan fill="#3a6fd0" font-weight="400" stroke="#3a6fd0" stroke-width="0.5" font-size="20" dx="-1.5" dy="0.8">°</tspan></text>
<text transform="translate(1334.5 663.8) rotate(90)" text-anchor="middle" font-family="DejaVu Sans, sans-serif" font-weight="200" stroke="#1e1e88" stroke-width="0.45" font-size="21" fill="#1e1e88">40<tspan fill="#3a6fd0" font-weight="400" stroke="#3a6fd0" stroke-width="0.5" font-size="20" dx="-1.5" dy="0.8">°</tspan></text>
<text transform="translate(735.5 581.7) rotate(-90)" text-anchor="middle" font-family="DejaVu Sans, sans-serif" font-weight="200" stroke="#1e1e88" stroke-width="0.45" font-size="21" fill="#1e1e88">44<tspan fill="#3a6fd0" font-weight="400" stroke="#3a6fd0" stroke-width="0.5" font-size="20" dx="-1.5" dy="0.8">°</tspan></text>
<text transform="translate(1334.5 588.7) rotate(90)" text-anchor="middle" font-family="DejaVu Sans, sans-serif" font-weight="200" stroke="#1e1e88" stroke-width="0.45" font-size="21" fill="#1e1e88">44<tspan fill="#3a6fd0" font-weight="400" stroke="#3a6fd0" stroke-width="0.5" font-size="20" dx="-1.5" dy="0.8">°</tspan></text>
<text x="954.5" y="514.5" font-family="Liberation Sans, sans-serif" font-size="26" fill="#000">Longitude</text>
<text transform="translate(707.3 706.0) rotate(-90)" text-anchor="middle" font-family="Liberation Sans, sans-serif" font-size="26.6" fill="#000">Latitude</text>
<defs>
<linearGradient id="gadt" x1="0" x2="1" y1="0" y2="0">
<stop offset="0" stop-color="#2440f2"/><stop offset="0.1" stop-color="#4a86ee"/><stop offset="0.233" stop-color="#84f6f8"/>
<stop offset="0.36" stop-color="#90f0b8"/><stop offset="0.45" stop-color="#b0f07a"/><stop offset="0.549" stop-color="#f6f63a"/>
<stop offset="0.65" stop-color="#eab030"/><stop offset="0.75" stop-color="#de6a22"/><stop offset="0.855" stop-color="#dc0000"/>
<stop offset="1" stop-color="#640000"/></linearGradient>
<linearGradient id="geke" x1="0" x2="1" y1="0" y2="0">
<stop offset="0" stop-color="#5aa8ee"/><stop offset="0.1" stop-color="#84f4f8"/><stop offset="0.25" stop-color="#92f0bc"/>
<stop offset="0.36" stop-color="#b4f070"/><stop offset="0.47" stop-color="#f6f63a"/><stop offset="0.6" stop-color="#eaa430"/>
<stop offset="0.72" stop-color="#dc6020"/><stop offset="0.835" stop-color="#dc0000"/><stop offset="1" stop-color="#600000"/></linearGradient>
</defs>
<rect x="158.9" y="443.2" width="408.0" height="11.7" fill="url(#gadt)" stroke="#6a6a80" stroke-width="0.5" stroke-opacity="0.7"/>
<text x="158.9" y="483.4" text-anchor="middle" font-family="DejaVu Sans, sans-serif" font-weight="200" stroke="#1e1e88" stroke-width="0.45" font-size="19" fill="#1e1e88">−0.2</text>
<text x="226.9" y="483.4" text-anchor="middle" font-family="DejaVu Sans, sans-serif" font-weight="200" stroke="#1e1e88" stroke-width="0.45" font-size="19" fill="#1e1e88">−0.1</text>
<text x="294.9" y="483.4" text-anchor="middle" font-family="DejaVu Sans, sans-serif" font-weight="200" stroke="#1e1e88" stroke-width="0.45" font-size="19" fill="#1e1e88">0.0</text>
<text x="362.9" y="483.4" text-anchor="middle" font-family="DejaVu Sans, sans-serif" font-weight="200" stroke="#1e1e88" stroke-width="0.45" font-size="19" fill="#1e1e88">0.1</text>
<text x="430.9" y="483.4" text-anchor="middle" font-family="DejaVu Sans, sans-serif" font-weight="200" stroke="#1e1e88" stroke-width="0.45" font-size="19" fill="#1e1e88">0.2</text>
<text x="498.9" y="483.4" text-anchor="middle" font-family="DejaVu Sans, sans-serif" font-weight="200" stroke="#1e1e88" stroke-width="0.45" font-size="19" fill="#1e1e88">0.3</text>
<text x="566.9" y="483.4" text-anchor="middle" font-family="DejaVu Sans, sans-serif" font-weight="200" stroke="#1e1e88" stroke-width="0.45" font-size="19" fill="#1e1e88">0.4</text>
<text x="361.5" y="432.8" text-anchor="middle" font-family="DejaVu Sans, sans-serif" font-weight="200" stroke="#1e1e88" stroke-width="0.45" font-size="22.6" fill="#1e1e88">ADT(m)</text>
<rect x="849" y="445.4" width="411.0" height="11.2" fill="url(#gadt)" stroke="#6a6a80" stroke-width="0.5" stroke-opacity="0.7"/>
<text x="849.0" y="485.0" text-anchor="middle" font-family="DejaVu Sans, sans-serif" font-weight="200" stroke="#1e1e88" stroke-width="0.45" font-size="19" fill="#1e1e88">−0.2</text>
<text x="917.5" y="485.0" text-anchor="middle" font-family="DejaVu Sans, sans-serif" font-weight="200" stroke="#1e1e88" stroke-width="0.45" font-size="19" fill="#1e1e88">−0.1</text>
<text x="986.0" y="485.0" text-anchor="middle" font-family="DejaVu Sans, sans-serif" font-weight="200" stroke="#1e1e88" stroke-width="0.45" font-size="19" fill="#1e1e88">0.0</text>
<text x="1054.5" y="485.0" text-anchor="middle" font-family="DejaVu Sans, sans-serif" font-weight="200" stroke="#1e1e88" stroke-width="0.45" font-size="19" fill="#1e1e88">0.1</text>
<text x="1123.0" y="485.0" text-anchor="middle" font-family="DejaVu Sans, sans-serif" font-weight="200" stroke="#1e1e88" stroke-width="0.45" font-size="19" fill="#1e1e88">0.2</text>
<text x="1191.5" y="485.0" text-anchor="middle" font-family="DejaVu Sans, sans-serif" font-weight="200" stroke="#1e1e88" stroke-width="0.45" font-size="19" fill="#1e1e88">0.3</text>
<text x="1260.0" y="485.0" text-anchor="middle" font-family="DejaVu Sans, sans-serif" font-weight="200" stroke="#1e1e88" stroke-width="0.45" font-size="19" fill="#1e1e88">0.4</text>
<text x="1053" y="433.6" text-anchor="middle" font-family="DejaVu Sans, sans-serif" font-weight="200" stroke="#1e1e88" stroke-width="0.45" font-size="22.6" fill="#1e1e88">ADT(m)</text>
<rect x="160.9" y="926.6" width="409.2" height="11.8" fill="url(#geke)" stroke="#6a6a80" stroke-width="0.5" stroke-opacity="0.7"/>
<text x="160.9" y="966.0" text-anchor="middle" font-family="DejaVu Sans, sans-serif" font-weight="200" stroke="#1e1e88" stroke-width="0.45" font-size="19" fill="#1e1e88">0</text>
<text x="215.5" y="966.0" text-anchor="middle" font-family="DejaVu Sans, sans-serif" font-weight="200" stroke="#1e1e88" stroke-width="0.45" font-size="19" fill="#1e1e88">200</text>
<text x="270.0" y="966.0" text-anchor="middle" font-family="DejaVu Sans, sans-serif" font-weight="200" stroke="#1e1e88" stroke-width="0.45" font-size="19" fill="#1e1e88">400</text>
<text x="324.6" y="966.0" text-anchor="middle" font-family="DejaVu Sans, sans-serif" font-weight="200" stroke="#1e1e88" stroke-width="0.45" font-size="19" fill="#1e1e88">600</text>
<text x="379.1" y="966.0" text-anchor="middle" font-family="DejaVu Sans, sans-serif" font-weight="200" stroke="#1e1e88" stroke-width="0.45" font-size="19" fill="#1e1e88">800</text>
<text x="433.7" y="966.0" text-anchor="middle" font-family="DejaVu Sans, sans-serif" font-weight="200" stroke="#1e1e88" stroke-width="0.45" font-size="19" fill="#1e1e88">1000</text>
<text x="488.3" y="966.0" text-anchor="middle" font-family="DejaVu Sans, sans-serif" font-weight="200" stroke="#1e1e88" stroke-width="0.45" font-size="19" fill="#1e1e88">1200</text>
<text x="542.8" y="966.0" text-anchor="middle" font-family="DejaVu Sans, sans-serif" font-weight="200" stroke="#1e1e88" stroke-width="0.45" font-size="19" fill="#1e1e88">1400</text>
<text x="364.5" y="908.9" text-anchor="middle" font-family="Liberation Sans, sans-serif" font-size="20.4" fill="#000">EKE (cm<tspan font-size="13" dy="-7">2</tspan><tspan dy="7">s</tspan><tspan font-size="13" dy="-7">-2</tspan><tspan dy="7">)</tspan></text>
<rect x="846.1" y="923" width="402.9" height="11.5" fill="url(#geke)" stroke="#6a6a80" stroke-width="0.5" stroke-opacity="0.7"/>
<text x="846.1" y="962.3" text-anchor="middle" font-family="DejaVu Sans, sans-serif" font-weight="200" stroke="#1e1e88" stroke-width="0.45" font-size="19" fill="#1e1e88">0</text>
<text x="899.8" y="962.3" text-anchor="middle" font-family="DejaVu Sans, sans-serif" font-weight="200" stroke="#1e1e88" stroke-width="0.45" font-size="19" fill="#1e1e88">200</text>
<text x="953.5" y="962.3" text-anchor="middle" font-family="DejaVu Sans, sans-serif" font-weight="200" stroke="#1e1e88" stroke-width="0.45" font-size="19" fill="#1e1e88">400</text>
<text x="1007.3" y="962.3" text-anchor="middle" font-family="DejaVu Sans, sans-serif" font-weight="200" stroke="#1e1e88" stroke-width="0.45" font-size="19" fill="#1e1e88">600</text>
<text x="1061.0" y="962.3" text-anchor="middle" font-family="DejaVu Sans, sans-serif" font-weight="200" stroke="#1e1e88" stroke-width="0.45" font-size="19" fill="#1e1e88">800</text>
<text x="1114.7" y="962.3" text-anchor="middle" font-family="DejaVu Sans, sans-serif" font-weight="200" stroke="#1e1e88" stroke-width="0.45" font-size="19" fill="#1e1e88">1000</text>
<text x="1168.4" y="962.3" text-anchor="middle" font-family="DejaVu Sans, sans-serif" font-weight="200" stroke="#1e1e88" stroke-width="0.45" font-size="19" fill="#1e1e88">1200</text>
<text x="1222.1" y="962.3" text-anchor="middle" font-family="DejaVu Sans, sans-serif" font-weight="200" stroke="#1e1e88" stroke-width="0.45" font-size="19" fill="#1e1e88">1400</text>
<text x="1033.3" y="906.2" text-anchor="middle" font-family="Liberation Sans, sans-serif" font-size="20.4" fill="#000">EKE (cm<tspan font-size="13" dy="-7">2</tspan><tspan dy="7">s</tspan><tspan font-size="13" dy="-7">-2</tspan><tspan dy="7">)</tspan></text>
<g stroke="#d4d4d4" stroke-width="1" stroke-dasharray="4.6 2.1" fill="none">
<line x1="1480.5" y1="734.1" x2="2493.0" y2="734.1"/>
<line x1="1480.5" y1="649.4" x2="2493.0" y2="649.4"/>
<line x1="1480.5" y1="564.7" x2="2493.0" y2="564.7"/>
<line x1="1480.5" y1="479.9" x2="2493.0" y2="479.9"/>
<line x1="1480.5" y1="395.2" x2="2493.0" y2="395.2"/>
<line x1="1480.5" y1="310.5" x2="2493.0" y2="310.5"/>
<line x1="1526.7" y1="248.0" x2="1526.7" y2="794.6"/>
<line x1="1675.2" y1="248.0" x2="1675.2" y2="794.6"/>
<line x1="1823.7" y1="248.0" x2="1823.7" y2="794.6"/>
<line x1="1972.1" y1="248.0" x2="1972.1" y2="794.6"/>
<line x1="2120.6" y1="248.0" x2="2120.6" y2="794.6"/>
<line x1="2269.1" y1="248.0" x2="2269.1" y2="794.6"/>
<line x1="2447.2" y1="248.0" x2="2447.2" y2="794.6"/>
</g>
<line x1="1526.7" y1="534.2" x2="2447.2" y2="396.9" stroke="#000" stroke-width="2.8" stroke-dasharray="11.4 5.2"/>
<line x1="1526.7" y1="681.8" x2="2447.2" y2="552.2" stroke="#3f7a1c" stroke-width="2.8" stroke-dasharray="11.4 5.2"/>
<g stroke="#0808f8" stroke-width="2.6" fill="none">
<line x1="1526.7" y1="529.1" x2="1526.7" y2="611.7"/>
<line x1="1520.4" y1="529.1" x2="1533.0" y2="529.1" stroke-width="2"/>
<line x1="1520.4" y1="611.7" x2="1533.0" y2="611.7" stroke-width="2"/>
<line x1="1556.4" y1="450.3" x2="1556.4" y2="640.1"/>
<line x1="1550.1" y1="450.3" x2="1562.7" y2="450.3" stroke-width="2"/>
<line x1="1550.1" y1="640.1" x2="1562.7" y2="640.1" stroke-width="2"/>
<line x1="1586.1" y1="497.5" x2="1586.1" y2="580.8"/>
<line x1="1579.8" y1="497.5" x2="1592.4" y2="497.5" stroke-width="2"/>
<line x1="1579.8" y1="580.8" x2="1592.4" y2="580.8" stroke-width="2"/>
<line x1="1615.8" y1="501.5" x2="1615.8" y2="593.5"/>
<line x1="1609.5" y1="501.5" x2="1622.1" y2="501.5" stroke-width="2"/>
<line x1="1609.5" y1="593.5" x2="1622.1" y2="593.5" stroke-width="2"/>
<line x1="1645.5" y1="462.6" x2="1645.5" y2="569.3"/>
<line x1="1639.2" y1="462.6" x2="1651.8" y2="462.6" stroke-width="2"/>
<line x1="1639.2" y1="569.3" x2="1651.8" y2="569.3" stroke-width="2"/>
<line x1="1675.2" y1="449.4" x2="1675.2" y2="551.1"/>
<line x1="1668.9" y1="449.4" x2="1681.5" y2="449.4" stroke-width="2"/>
<line x1="1668.9" y1="551.1" x2="1681.5" y2="551.1" stroke-width="2"/>
<line x1="1704.9" y1="459.8" x2="1704.9" y2="563.6"/>
<line x1="1698.6" y1="459.8" x2="1711.2" y2="459.8" stroke-width="2"/>
<line x1="1698.6" y1="563.6" x2="1711.2" y2="563.6" stroke-width="2"/>
<line x1="1734.6" y1="442.2" x2="1734.6" y2="523.1"/>
<line x1="1728.3" y1="442.2" x2="1740.9" y2="442.2" stroke-width="2"/>
<line x1="1728.3" y1="523.1" x2="1740.9" y2="523.1" stroke-width="2"/>
<line x1="1764.3" y1="380.4" x2="1764.3" y2="474.4"/>
<line x1="1758.0" y1="380.4" x2="1770.6" y2="380.4" stroke-width="2"/>
<line x1="1758.0" y1="474.4" x2="1770.6" y2="474.4" stroke-width="2"/>
<line x1="1794.0" y1="441.4" x2="1794.0" y2="538.0"/>
<line x1="1787.7" y1="441.4" x2="1800.3" y2="441.4" stroke-width="2"/>
<line x1="1787.7" y1="538.0" x2="1800.3" y2="538.0" stroke-width="2"/>
<line x1="1823.7" y1="432.9" x2="1823.7" y2="514.7"/>
<line x1="1817.4" y1="432.9" x2="1830.0" y2="432.9" stroke-width="2"/>
<line x1="1817.4" y1="514.7" x2="1830.0" y2="514.7" stroke-width="2"/>
<line x1="1853.3" y1="374.5" x2="1853.3" y2="511.9"/>
<line x1="1847.0" y1="374.5" x2="1859.6" y2="374.5" stroke-width="2"/>
<line x1="1847.0" y1="511.9" x2="1859.6" y2="511.9" stroke-width="2"/>
<line x1="1883.0" y1="442.2" x2="1883.0" y2="531.2"/>
<line x1="1876.7" y1="442.2" x2="1889.3" y2="442.2" stroke-width="2"/>
<line x1="1876.7" y1="531.2" x2="1889.3" y2="531.2" stroke-width="2"/>
<line x1="1912.7" y1="434.2" x2="1912.7" y2="548.1"/>
<line x1="1906.4" y1="434.2" x2="1919.0" y2="434.2" stroke-width="2"/>
<line x1="1906.4" y1="548.1" x2="1919.0" y2="548.1" stroke-width="2"/>
<line x1="1942.4" y1="439.3" x2="1942.4" y2="516.8"/>
<line x1="1936.1" y1="439.3" x2="1948.7" y2="439.3" stroke-width="2"/>
<line x1="1936.1" y1="516.8" x2="1948.7" y2="516.8" stroke-width="2"/>
<line x1="1972.1" y1="457.5" x2="1972.1" y2="535.9"/>
<line x1="1965.8" y1="457.5" x2="1978.4" y2="457.5" stroke-width="2"/>
<line x1="1965.8" y1="535.9" x2="1978.4" y2="535.9" stroke-width="2"/>
<line x1="2001.8" y1="435.9" x2="2001.8" y2="522.3"/>
<line x1="1995.5" y1="435.9" x2="2008.1" y2="435.9" stroke-width="2"/>
<line x1="1995.5" y1="522.3" x2="2008.1" y2="522.3" stroke-width="2"/>
<line x1="2031.5" y1="338.5" x2="2031.5" y2="514.3"/>
<line x1="2025.2" y1="338.5" x2="2037.8" y2="338.5" stroke-width="2"/>
<line x1="2025.2" y1="514.3" x2="2037.8" y2="514.3" stroke-width="2"/>
<line x1="2061.2" y1="368.1" x2="2061.2" y2="452.8"/>
<line x1="2054.9" y1="368.1" x2="2067.5" y2="368.1" stroke-width="2"/>
<line x1="2054.9" y1="452.8" x2="2067.5" y2="452.8" stroke-width="2"/>
<line x1="2090.9" y1="446.9" x2="2090.9" y2="510.0"/>
<line x1="2084.6" y1="446.9" x2="2097.2" y2="446.9" stroke-width="2"/>
<line x1="2084.6" y1="510.0" x2="2097.2" y2="510.0" stroke-width="2"/>
<line x1="2120.6" y1="441.0" x2="2120.6" y2="488.4"/>
<line x1="2114.3" y1="441.0" x2="2126.9" y2="441.0" stroke-width="2"/>
<line x1="2114.3" y1="488.4" x2="2126.9" y2="488.4" stroke-width="2"/>
<line x1="2150.3" y1="385.5" x2="2150.3" y2="496.5"/>
<line x1="2144.0" y1="385.5" x2="2156.6" y2="385.5" stroke-width="2"/>
<line x1="2144.0" y1="496.5" x2="2156.6" y2="496.5" stroke-width="2"/>
<line x1="2180.0" y1="387.2" x2="2180.0" y2="464.3"/>
<line x1="2173.7" y1="387.2" x2="2186.3" y2="387.2" stroke-width="2"/>
<line x1="2173.7" y1="464.3" x2="2186.3" y2="464.3" stroke-width="2"/>
<line x1="2209.7" y1="380.4" x2="2209.7" y2="454.1"/>
<line x1="2203.4" y1="380.4" x2="2216.0" y2="380.4" stroke-width="2"/>
<line x1="2203.4" y1="454.1" x2="2216.0" y2="454.1" stroke-width="2"/>
<line x1="2239.4" y1="415.6" x2="2239.4" y2="519.1"/>
<line x1="2233.1" y1="415.6" x2="2245.7" y2="415.6" stroke-width="2"/>
<line x1="2233.1" y1="519.1" x2="2245.7" y2="519.1" stroke-width="2"/>
<line x1="2269.1" y1="368.1" x2="2269.1" y2="474.2"/>
<line x1="2262.8" y1="368.1" x2="2275.4" y2="368.1" stroke-width="2"/>
<line x1="2262.8" y1="474.2" x2="2275.4" y2="474.2" stroke-width="2"/>
<line x1="2298.8" y1="365.8" x2="2298.8" y2="491.0"/>
<line x1="2292.5" y1="365.8" x2="2305.1" y2="365.8" stroke-width="2"/>
<line x1="2292.5" y1="491.0" x2="2305.1" y2="491.0" stroke-width="2"/>
<line x1="2328.5" y1="387.4" x2="2328.5" y2="501.5"/>
<line x1="2322.2" y1="387.4" x2="2334.8" y2="387.4" stroke-width="2"/>
<line x1="2322.2" y1="501.5" x2="2334.8" y2="501.5" stroke-width="2"/>
<line x1="2358.2" y1="368.5" x2="2358.2" y2="466.4"/>
<line x1="2351.9" y1="368.5" x2="2364.5" y2="368.5" stroke-width="2"/>
<line x1="2351.9" y1="466.4" x2="2364.5" y2="466.4" stroke-width="2"/>
<line x1="2387.9" y1="414.7" x2="2387.9" y2="493.9"/>
<line x1="2381.6" y1="414.7" x2="2394.2" y2="414.7" stroke-width="2"/>
<line x1="2381.6" y1="493.9" x2="2394.2" y2="493.9" stroke-width="2"/>
<line x1="2417.6" y1="327.0" x2="2417.6" y2="474.0"/>
<line x1="2411.2" y1="327.0" x2="2423.9" y2="327.0" stroke-width="2"/>
<line x1="2411.2" y1="474.0" x2="2423.9" y2="474.0" stroke-width="2"/>
<line x1="2447.2" y1="272.6" x2="2447.2" y2="384.2"/>
<line x1="2440.9" y1="272.6" x2="2453.5" y2="272.6" stroke-width="2"/>
<line x1="2440.9" y1="384.2" x2="2453.5" y2="384.2" stroke-width="2"/>
<polyline points="1526.7,569.9 1556.4,544.8 1586.1,539.2 1615.8,546.9 1645.5,515.5 1675.2,500.3 1704.9,511.5 1734.6,482.1 1764.3,427.4 1794.0,489.9 1823.7,474.2 1853.3,442.7 1883.0,486.7 1912.7,491.0 1942.4,477.8 1972.1,496.5 2001.8,479.1 2031.5,426.6 2061.2,410.5 2090.9,478.9 2120.6,464.3 2150.3,441.0 2180.0,425.7 2209.7,417.7 2239.4,468.1 2269.1,420.6 2298.8,428.3 2328.5,444.8 2358.2,417.7 2387.9,454.9 2417.6,399.9 2447.2,328.7" stroke-linejoin="round"/>
</g>
<g fill="#0808f8">
<circle cx="1526.7" cy="569.9" r="5.6"/>
<circle cx="1556.4" cy="544.8" r="5.6"/>
<circle cx="1586.1" cy="539.2" r="5.6"/>
<circle cx="1615.8" cy="546.9" r="5.6"/>
<circle cx="1645.5" cy="515.5" r="5.6"/>
<circle cx="1675.2" cy="500.3" r="5.6"/>
<circle cx="1704.9" cy="511.5" r="5.6"/>
<circle cx="1734.6" cy="482.1" r="5.6"/>
<circle cx="1764.3" cy="427.4" r="5.6"/>
<circle cx="1794.0" cy="489.9" r="5.6"/>
<circle cx="1823.7" cy="474.2" r="5.6"/>
<circle cx="1853.3" cy="442.7" r="5.6"/>
<circle cx="1883.0" cy="486.7" r="5.6"/>
<circle cx="1912.7" cy="491.0" r="5.6"/>
<circle cx="1942.4" cy="477.8" r="5.6"/>
<circle cx="1972.1" cy="496.5" r="5.6"/>
<circle cx="2001.8" cy="479.1" r="5.6"/>
<circle cx="2031.5" cy="426.6" r="5.6"/>
<circle cx="2061.2" cy="410.5" r="5.6"/>
<circle cx="2090.9" cy="478.9" r="5.6"/>
<circle cx="2120.6" cy="464.3" r="5.6"/>
<circle cx="2150.3" cy="441.0" r="5.6"/>
<circle cx="2180.0" cy="425.7" r="5.6"/>
<circle cx="2209.7" cy="417.7" r="5.6"/>
<circle cx="2239.4" cy="468.1" r="5.6"/>
<circle cx="2269.1" cy="420.6" r="5.6"/>
<circle cx="2298.8" cy="428.3" r="5.6"/>
<circle cx="2328.5" cy="444.8" r="5.6"/>
<circle cx="2358.2" cy="417.7" r="5.6"/>
<circle cx="2387.9" cy="454.9" r="5.6"/>
<circle cx="2417.6" cy="399.9" r="5.6"/>
<circle cx="2447.2" cy="328.7" r="5.6"/>
</g>
<g stroke="#88f9f9" stroke-width="2.6" fill="none">
<line x1="1526.7" y1="668.0" x2="1526.7" y2="712.9"/>
<line x1="1520.4" y1="668.0" x2="1533.0" y2="668.0" stroke-width="2"/>
<line x1="1520.4" y1="712.9" x2="1533.0" y2="712.9" stroke-width="2"/>
<line x1="1556.4" y1="620.6" x2="1556.4" y2="769.9"/>
<line x1="1550.1" y1="620.6" x2="1562.7" y2="620.6" stroke-width="2"/>
<line x1="1550.1" y1="769.9" x2="1562.7" y2="769.9" stroke-width="2"/>
<line x1="1586.1" y1="651.9" x2="1586.1" y2="700.6"/>
<line x1="1579.8" y1="651.9" x2="1592.4" y2="651.9" stroke-width="2"/>
<line x1="1579.8" y1="700.6" x2="1592.4" y2="700.6" stroke-width="2"/>
<line x1="1615.8" y1="671.0" x2="1615.8" y2="707.8"/>
<line x1="1609.5" y1="671.0" x2="1622.1" y2="671.0" stroke-width="2"/>
<line x1="1609.5" y1="707.8" x2="1622.1" y2="707.8" stroke-width="2"/>
<line x1="1645.5" y1="617.2" x2="1645.5" y2="694.7"/>
<line x1="1639.2" y1="617.2" x2="1651.8" y2="617.2" stroke-width="2"/>
<line x1="1639.2" y1="694.7" x2="1651.8" y2="694.7" stroke-width="2"/>
<line x1="1675.2" y1="630.7" x2="1675.2" y2="694.7"/>
<line x1="1668.9" y1="630.7" x2="1681.5" y2="630.7" stroke-width="2"/>
<line x1="1668.9" y1="694.7" x2="1681.5" y2="694.7" stroke-width="2"/>
<line x1="1704.9" y1="640.5" x2="1704.9" y2="697.7"/>
<line x1="1698.6" y1="640.5" x2="1711.2" y2="640.5" stroke-width="2"/>
<line x1="1698.6" y1="697.7" x2="1711.2" y2="697.7" stroke-width="2"/>
<line x1="1734.6" y1="609.6" x2="1734.6" y2="658.3"/>
<line x1="1728.3" y1="609.6" x2="1740.9" y2="609.6" stroke-width="2"/>
<line x1="1728.3" y1="658.3" x2="1740.9" y2="658.3" stroke-width="2"/>
<line x1="1764.3" y1="542.0" x2="1764.3" y2="625.2"/>
<line x1="1758.0" y1="542.0" x2="1770.6" y2="542.0" stroke-width="2"/>
<line x1="1758.0" y1="625.2" x2="1770.6" y2="625.2" stroke-width="2"/>
<line x1="1794.0" y1="613.8" x2="1794.0" y2="675.2"/>
<line x1="1787.7" y1="613.8" x2="1800.3" y2="613.8" stroke-width="2"/>
<line x1="1787.7" y1="675.2" x2="1800.3" y2="675.2" stroke-width="2"/>
<line x1="1823.7" y1="596.9" x2="1823.7" y2="639.6"/>
<line x1="1817.4" y1="596.9" x2="1830.0" y2="596.9" stroke-width="2"/>
<line x1="1817.4" y1="639.6" x2="1830.0" y2="639.6" stroke-width="2"/>
<line x1="1853.3" y1="550.7" x2="1853.3" y2="643.4"/>
<line x1="1847.0" y1="550.7" x2="1859.6" y2="550.7" stroke-width="2"/>
<line x1="1847.0" y1="643.4" x2="1859.6" y2="643.4" stroke-width="2"/>
<line x1="1883.0" y1="596.9" x2="1883.0" y2="648.5"/>
<line x1="1876.7" y1="596.9" x2="1889.3" y2="596.9" stroke-width="2"/>
<line x1="1876.7" y1="648.5" x2="1889.3" y2="648.5" stroke-width="2"/>
<line x1="1912.7" y1="617.6" x2="1912.7" y2="667.4"/>
<line x1="1906.4" y1="617.6" x2="1919.0" y2="617.6" stroke-width="2"/>
<line x1="1906.4" y1="667.4" x2="1919.0" y2="667.4" stroke-width="2"/>
<line x1="1942.4" y1="609.6" x2="1942.4" y2="679.9"/>
<line x1="1936.1" y1="609.6" x2="1948.7" y2="609.6" stroke-width="2"/>
<line x1="1936.1" y1="679.9" x2="1948.7" y2="679.9" stroke-width="2"/>
<line x1="1972.1" y1="628.2" x2="1972.1" y2="672.3"/>
<line x1="1965.8" y1="628.2" x2="1978.4" y2="628.2" stroke-width="2"/>
<line x1="1965.8" y1="672.3" x2="1978.4" y2="672.3" stroke-width="2"/>
<line x1="2001.8" y1="626.9" x2="2001.8" y2="674.6"/>
<line x1="1995.5" y1="626.9" x2="2008.1" y2="626.9" stroke-width="2"/>
<line x1="1995.5" y1="674.6" x2="2008.1" y2="674.6" stroke-width="2"/>
<line x1="2031.5" y1="547.3" x2="2031.5" y2="666.3"/>
<line x1="2025.2" y1="547.3" x2="2037.8" y2="547.3" stroke-width="2"/>
<line x1="2025.2" y1="666.3" x2="2037.8" y2="666.3" stroke-width="2"/>
<line x1="2061.2" y1="544.3" x2="2061.2" y2="604.5"/>
<line x1="2054.9" y1="544.3" x2="2067.5" y2="544.3" stroke-width="2"/>
<line x1="2054.9" y1="604.5" x2="2067.5" y2="604.5" stroke-width="2"/>
<line x1="2090.9" y1="588.4" x2="2090.9" y2="632.9"/>
<line x1="2084.6" y1="588.4" x2="2097.2" y2="588.4" stroke-width="2"/>
<line x1="2084.6" y1="632.9" x2="2097.2" y2="632.9" stroke-width="2"/>
<line x1="2120.6" y1="590.1" x2="2120.6" y2="642.6"/>
<line x1="2114.3" y1="590.1" x2="2126.9" y2="590.1" stroke-width="2"/>
<line x1="2114.3" y1="642.6" x2="2126.9" y2="642.6" stroke-width="2"/>
<line x1="2150.3" y1="572.3" x2="2150.3" y2="638.8"/>
<line x1="2144.0" y1="572.3" x2="2156.6" y2="572.3" stroke-width="2"/>
<line x1="2144.0" y1="638.8" x2="2156.6" y2="638.8" stroke-width="2"/>
<line x1="2180.0" y1="554.9" x2="2180.0" y2="588.4"/>
<line x1="2173.7" y1="554.9" x2="2186.3" y2="554.9" stroke-width="2"/>
<line x1="2173.7" y1="588.4" x2="2186.3" y2="588.4" stroke-width="2"/>
<line x1="2209.7" y1="532.5" x2="2209.7" y2="597.7"/>
<line x1="2203.4" y1="532.5" x2="2216.0" y2="532.5" stroke-width="2"/>
<line x1="2203.4" y1="597.7" x2="2216.0" y2="597.7" stroke-width="2"/>
<line x1="2239.4" y1="568.5" x2="2239.4" y2="620.6"/>
<line x1="2233.1" y1="568.5" x2="2245.7" y2="568.5" stroke-width="2"/>
<line x1="2233.1" y1="620.6" x2="2245.7" y2="620.6" stroke-width="2"/>
<line x1="2269.1" y1="542.0" x2="2269.1" y2="620.2"/>
<line x1="2262.8" y1="542.0" x2="2275.4" y2="542.0" stroke-width="2"/>
<line x1="2262.8" y1="620.2" x2="2275.4" y2="620.2" stroke-width="2"/>
<line x1="2298.8" y1="546.0" x2="2298.8" y2="612.5"/>
<line x1="2292.5" y1="546.0" x2="2305.1" y2="546.0" stroke-width="2"/>
<line x1="2292.5" y1="612.5" x2="2305.1" y2="612.5" stroke-width="2"/>
<line x1="2328.5" y1="550.7" x2="2328.5" y2="617.6"/>
<line x1="2322.2" y1="550.7" x2="2334.8" y2="550.7" stroke-width="2"/>
<line x1="2322.2" y1="617.6" x2="2334.8" y2="617.6" stroke-width="2"/>
<line x1="2358.2" y1="545.6" x2="2358.2" y2="582.5"/>
<line x1="2351.9" y1="545.6" x2="2364.5" y2="545.6" stroke-width="2"/>
<line x1="2351.9" y1="582.5" x2="2364.5" y2="582.5" stroke-width="2"/>
<line x1="2387.9" y1="578.0" x2="2387.9" y2="624.0"/>
<line x1="2381.6" y1="578.0" x2="2394.2" y2="578.0" stroke-width="2"/>
<line x1="2381.6" y1="624.0" x2="2394.2" y2="624.0" stroke-width="2"/>
<line x1="2417.6" y1="524.8" x2="2417.6" y2="625.7"/>
<line x1="2411.2" y1="524.8" x2="2423.9" y2="524.8" stroke-width="2"/>
<line x1="2411.2" y1="625.7" x2="2423.9" y2="625.7" stroke-width="2"/>
<line x1="2447.2" y1="422.3" x2="2447.2" y2="525.7"/>
<line x1="2440.9" y1="422.3" x2="2453.5" y2="422.3" stroke-width="2"/>
<line x1="2440.9" y1="525.7" x2="2453.5" y2="525.7" stroke-width="2"/>
<polyline points="1526.7,690.5 1556.4,695.1 1586.1,676.1 1615.8,688.4 1645.5,655.7 1675.2,662.5 1704.9,668.9 1734.6,634.1 1764.3,583.3 1794.0,644.0 1823.7,619.3 1853.3,596.9 1883.0,622.9 1912.7,642.2 1942.4,644.5 1972.1,650.7 2001.8,650.7 2031.5,607.0 2061.2,574.0 2090.9,610.4 2120.6,616.8 2150.3,605.3 2180.0,571.2 2209.7,564.0 2239.4,594.7 2269.1,581.2 2298.8,579.3 2328.5,584.1 2358.2,563.6 2387.9,600.9 2417.6,574.8 2447.2,473.6" stroke-linejoin="round"/>
</g>
<g fill="#88f9f9">
<circle cx="1526.7" cy="690.5" r="5.6"/>
<circle cx="1556.4" cy="695.1" r="5.6"/>
<circle cx="1586.1" cy="676.1" r="5.6"/>
<circle cx="1615.8" cy="688.4" r="5.6"/>
<circle cx="1645.5" cy="655.7" r="5.6"/>
<circle cx="1675.2" cy="662.5" r="5.6"/>
<circle cx="1704.9" cy="668.9" r="5.6"/>
<circle cx="1734.6" cy="634.1" r="5.6"/>
<circle cx="1764.3" cy="583.3" r="5.6"/>
<circle cx="1794.0" cy="644.0" r="5.6"/>
<circle cx="1823.7" cy="619.3" r="5.6"/>
<circle cx="1853.3" cy="596.9" r="5.6"/>
<circle cx="1883.0" cy="622.9" r="5.6"/>
<circle cx="1912.7" cy="642.2" r="5.6"/>
<circle cx="1942.4" cy="644.5" r="5.6"/>
<circle cx="1972.1" cy="650.7" r="5.6"/>
<circle cx="2001.8" cy="650.7" r="5.6"/>
<circle cx="2031.5" cy="607.0" r="5.6"/>
<circle cx="2061.2" cy="574.0" r="5.6"/>
<circle cx="2090.9" cy="610.4" r="5.6"/>
<circle cx="2120.6" cy="616.8" r="5.6"/>
<circle cx="2150.3" cy="605.3" r="5.6"/>
<circle cx="2180.0" cy="571.2" r="5.6"/>
<circle cx="2209.7" cy="564.0" r="5.6"/>
<circle cx="2239.4" cy="594.7" r="5.6"/>
<circle cx="2269.1" cy="581.2" r="5.6"/>
<circle cx="2298.8" cy="579.3" r="5.6"/>
<circle cx="2328.5" cy="584.1" r="5.6"/>
<circle cx="2358.2" cy="563.6" r="5.6"/>
<circle cx="2387.9" cy="600.9" r="5.6"/>
<circle cx="2417.6" cy="574.8" r="5.6"/>
<circle cx="2447.2" cy="473.6" r="5.6"/>
</g>
<rect x="1490" y="257.8" width="574.6" height="115.3" rx="4" fill="#fff" fill-opacity="0.8" stroke="#cccccc" stroke-width="1"/>
<line x1="1497" y1="272.7" x2="1536" y2="272.7" stroke="#000" stroke-width="2.8" stroke-dasharray="11.4 5.2"/>
<line x1="1497" y1="300.4" x2="1536" y2="300.4" stroke="#3f7a1c" stroke-width="2.8" stroke-dasharray="11.4 5.2"/>
<g stroke="#0808f8" stroke-width="2.6"><line x1="1497" y1="328.2" x2="1536" y2="328.2"/><line x1="1516.5" y1="318.7" x2="1516.5" y2="337.7"/><line x1="1510.2" y1="318.7" x2="1522.8" y2="318.7" stroke-width="2"/><line x1="1510.2" y1="337.7" x2="1522.8" y2="337.7" stroke-width="2"/></g><circle cx="1516.5" cy="328.2" r="5.6" fill="#0808f8"/>
<g stroke="#88f9f9" stroke-width="2.6"><line x1="1497" y1="355.8" x2="1536" y2="355.8"/><line x1="1516.5" y1="346.3" x2="1516.5" y2="365.3"/><line x1="1510.2" y1="346.3" x2="1522.8" y2="346.3" stroke-width="2"/><line x1="1510.2" y1="365.3" x2="1522.8" y2="365.3" stroke-width="2"/></g><circle cx="1516.5" cy="355.8" r="5.6" fill="#88f9f9"/>
<g font-family="DejaVu Sans, sans-serif" font-size="18.85" fill="#000">
<text x="1551.2" y="279.4">MKE trend: slope=1.045 cm²/s²/yr, R²=0.67, p=&lt;0.01</text>
<text x="1551.2" y="306.6">EKE trend: slope=0.987 cm²/s²/yr, R²=0.69, p=&lt;0.01</text>
<text x="1551.2" y="333.9">MKE mean ± std</text>
<text x="1551.2" y="361.2">EKE mean ± std</text>
</g>
<rect x="1480.5" y="248.0" width="1012.5" height="546.6" fill="none" stroke="#111" stroke-width="1.3"/>
<g stroke="#222" stroke-width="1.3">
<line x1="1526.7" y1="794.6" x2="1526.7" y2="805.6"/>
<line x1="1556.4" y1="794.6" x2="1556.4" y2="801.1"/>
<line x1="1586.1" y1="794.6" x2="1586.1" y2="801.1"/>
<line x1="1615.8" y1="794.6" x2="1615.8" y2="801.1"/>
<line x1="1645.5" y1="794.6" x2="1645.5" y2="801.1"/>
<line x1="1675.2" y1="794.6" x2="1675.2" y2="805.6"/>
<line x1="1704.9" y1="794.6" x2="1704.9" y2="801.1"/>
<line x1="1734.6" y1="794.6" x2="1734.6" y2="801.1"/>
<line x1="1764.3" y1="794.6" x2="1764.3" y2="801.1"/>
<line x1="1794.0" y1="794.6" x2="1794.0" y2="801.1"/>
<line x1="1823.7" y1="794.6" x2="1823.7" y2="805.6"/>
<line x1="1853.3" y1="794.6" x2="1853.3" y2="801.1"/>
<line x1="1883.0" y1="794.6" x2="1883.0" y2="801.1"/>
<line x1="1912.7" y1="794.6" x2="1912.7" y2="801.1"/>
<line x1="1942.4" y1="794.6" x2="1942.4" y2="801.1"/>
<line x1="1972.1" y1="794.6" x2="1972.1" y2="805.6"/>
<line x1="2001.8" y1="794.6" x2="2001.8" y2="801.1"/>
<line x1="2031.5" y1="794.6" x2="2031.5" y2="801.1"/>
<line x1="2061.2" y1="794.6" x2="2061.2" y2="801.1"/>
<line x1="2090.9" y1="794.6" x2="2090.9" y2="801.1"/>
<line x1="2120.6" y1="794.6" x2="2120.6" y2="805.6"/>
<line x1="2150.3" y1="794.6" x2="2150.3" y2="801.1"/>
<line x1="2180.0" y1="794.6" x2="2180.0" y2="801.1"/>
<line x1="2209.7" y1="794.6" x2="2209.7" y2="801.1"/>
<line x1="2239.4" y1="794.6" x2="2239.4" y2="801.1"/>
<line x1="2269.1" y1="794.6" x2="2269.1" y2="805.6"/>
<line x1="2298.8" y1="794.6" x2="2298.8" y2="801.1"/>
<line x1="2328.5" y1="794.6" x2="2328.5" y2="801.1"/>
<line x1="2358.2" y1="794.6" x2="2358.2" y2="801.1"/>
<line x1="2387.9" y1="794.6" x2="2387.9" y2="801.1"/>
<line x1="2417.6" y1="794.6" x2="2417.6" y2="801.1"/>
<line x1="2447.2" y1="794.6" x2="2447.2" y2="805.6"/>
<line x1="1475.0" y1="734.1" x2="1480.5" y2="734.1"/>
<line x1="1475.0" y1="649.4" x2="1480.5" y2="649.4"/>
<line x1="1475.0" y1="564.7" x2="1480.5" y2="564.7"/>
<line x1="1475.0" y1="479.9" x2="1480.5" y2="479.9"/>
<line x1="1475.0" y1="395.2" x2="1480.5" y2="395.2"/>
<line x1="1475.0" y1="310.5" x2="1480.5" y2="310.5"/>
</g>
<g font-family="DejaVu Sans, sans-serif" font-size="22.7" fill="#000">
<text x="1526.7" y="829.2" text-anchor="middle">1993</text>
<text x="1675.2" y="829.2" text-anchor="middle">1998</text>
<text x="1823.7" y="829.2" text-anchor="middle">2003</text>
<text x="1972.1" y="829.2" text-anchor="middle">2008</text>
<text x="2120.6" y="829.2" text-anchor="middle">2013</text>
<text x="2269.1" y="829.2" text-anchor="middle">2018</text>
<text x="2447.2" y="829.2" text-anchor="middle">2024</text>
<text x="1471.3" y="743.5" text-anchor="end">40</text>
<text x="1471.3" y="658.8" text-anchor="end">60</text>
<text x="1471.3" y="574.1" text-anchor="end">80</text>
<text x="1471.3" y="489.3" text-anchor="end">100</text>
<text x="1471.3" y="404.6" text-anchor="end">120</text>
<text x="1471.3" y="319.9" text-anchor="end">140</text>
</g>
<text x="1986.75" y="856" text-anchor="middle" font-family="DejaVu Sans, sans-serif" font-size="22.3" fill="#000">Year</text>
<text x="1986.75" y="238.8" text-anchor="middle" font-family="DejaVu Sans, sans-serif" font-size="25.1" fill="#000">Annual Kinetic Energy - Mediterranean Sea</text>
<text transform="translate(1409 505.6) rotate(-90)" text-anchor="middle" font-family="Liberation Sans, sans-serif" font-size="25.6" fill="#000">Kinetic Energy (cm<tspan font-size="16" dy="-9">2</tspan><tspan dy="9">s</tspan><tspan font-size="16" dy="-9">-2</tspan><tspan dy="9">)</tspan></text>
<text x="2427" y="754.2" font-family="DejaVu Sans, sans-serif" font-size="41.5" fill="#000">(E)</text>
</svg></body></html>
